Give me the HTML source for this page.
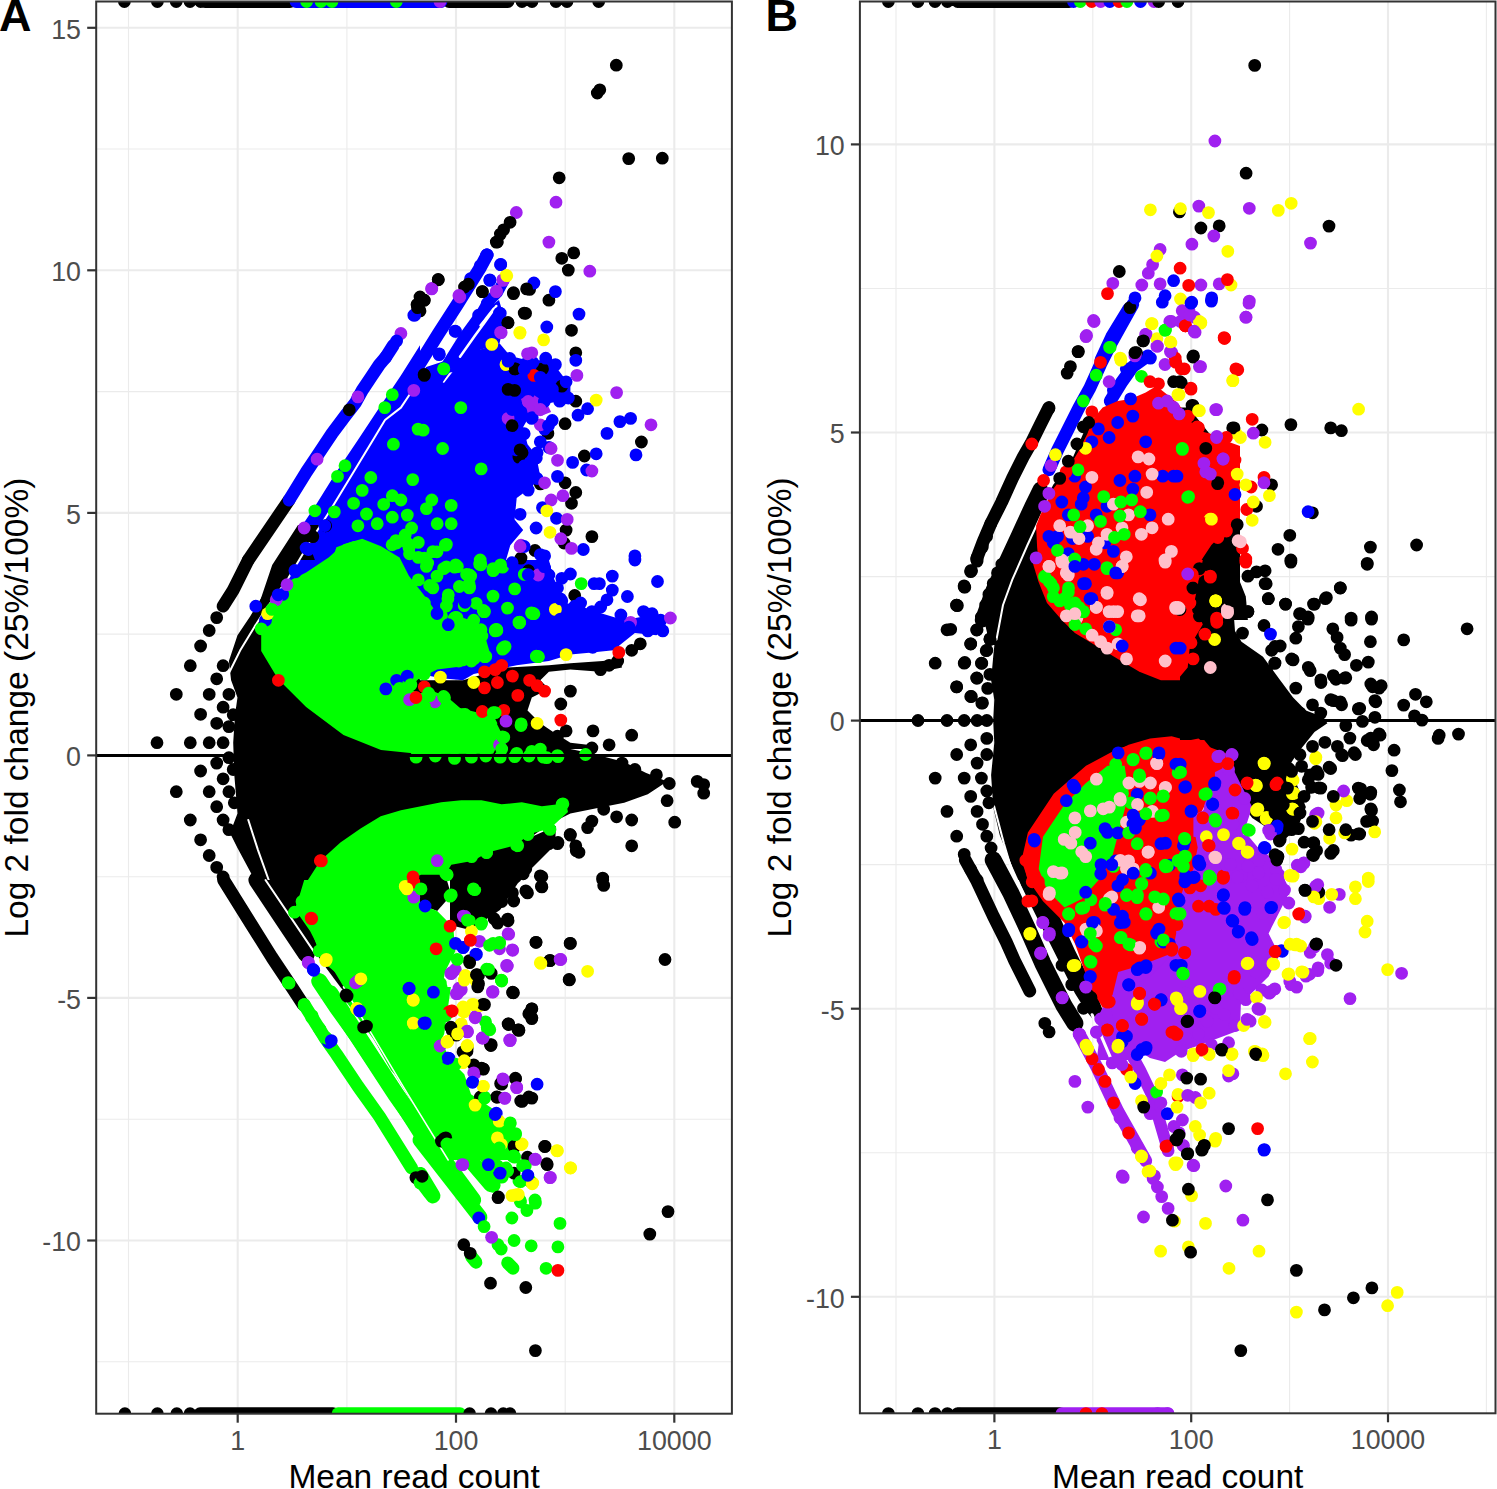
<!DOCTYPE html><html><head><meta charset="utf-8"><style>
html,body{margin:0;padding:0;background:#fff;}
svg{display:block;font-family:"Liberation Sans",sans-serif;}
.tk{font-size:26.8px;fill:#4D4D4D;}
.ti{font-size:33.5px;fill:#000;}
.lb{font-size:45px;font-weight:bold;fill:#000;}
</style></head><body>
<svg width="1497" height="1489" viewBox="0 0 1497 1489">
<rect width="1497" height="1489" fill="#fff"/>
<defs><clipPath id="ca"><rect x="96.2" y="1.5" width="635.6999999999999" height="1412.2"/></clipPath>
<clipPath id="cb"><rect x="859.9" y="1.5" width="635.6" height="1411.8"/></clipPath></defs>

<line x1="96.2" x2="731.9" y1="1361.8" y2="1361.8" stroke="#EBEBEB" stroke-width="1.1"/>
<line x1="96.2" x2="731.9" y1="1240.5" y2="1240.5" stroke="#EBEBEB" stroke-width="2.1"/>
<line x1="96.2" x2="731.9" y1="1119.2" y2="1119.2" stroke="#EBEBEB" stroke-width="1.1"/>
<line x1="96.2" x2="731.9" y1="997.9" y2="997.9" stroke="#EBEBEB" stroke-width="2.1"/>
<line x1="96.2" x2="731.9" y1="876.7" y2="876.7" stroke="#EBEBEB" stroke-width="1.1"/>
<line x1="96.2" x2="731.9" y1="755.4" y2="755.4" stroke="#EBEBEB" stroke-width="2.1"/>
<line x1="96.2" x2="731.9" y1="634.1" y2="634.1" stroke="#EBEBEB" stroke-width="1.1"/>
<line x1="96.2" x2="731.9" y1="512.9" y2="512.9" stroke="#EBEBEB" stroke-width="2.1"/>
<line x1="96.2" x2="731.9" y1="391.6" y2="391.6" stroke="#EBEBEB" stroke-width="1.1"/>
<line x1="96.2" x2="731.9" y1="270.3" y2="270.3" stroke="#EBEBEB" stroke-width="2.1"/>
<line x1="96.2" x2="731.9" y1="149" y2="149" stroke="#EBEBEB" stroke-width="1.1"/>
<line x1="96.2" x2="731.9" y1="27.8" y2="27.8" stroke="#EBEBEB" stroke-width="2.1"/>
<line x1="128.5" x2="128.5" y1="1.5" y2="1413.7" stroke="#EBEBEB" stroke-width="1.1"/>
<line x1="237.7" x2="237.7" y1="1.5" y2="1413.7" stroke="#EBEBEB" stroke-width="2.1"/>
<line x1="346.9" x2="346.9" y1="1.5" y2="1413.7" stroke="#EBEBEB" stroke-width="1.1"/>
<line x1="456" x2="456" y1="1.5" y2="1413.7" stroke="#EBEBEB" stroke-width="2.1"/>
<line x1="565.2" x2="565.2" y1="1.5" y2="1413.7" stroke="#EBEBEB" stroke-width="1.1"/>
<line x1="674.3" x2="674.3" y1="1.5" y2="1413.7" stroke="#EBEBEB" stroke-width="2.1"/>
<line x1="859.9" x2="1495.5" y1="1296.8" y2="1296.8" stroke="#EBEBEB" stroke-width="2.1"/>
<line x1="859.9" x2="1495.5" y1="1152.8" y2="1152.8" stroke="#EBEBEB" stroke-width="1.1"/>
<line x1="859.9" x2="1495.5" y1="1008.7" y2="1008.7" stroke="#EBEBEB" stroke-width="2.1"/>
<line x1="859.9" x2="1495.5" y1="864.6" y2="864.6" stroke="#EBEBEB" stroke-width="1.1"/>
<line x1="859.9" x2="1495.5" y1="720.6" y2="720.6" stroke="#EBEBEB" stroke-width="2.1"/>
<line x1="859.9" x2="1495.5" y1="576.6" y2="576.6" stroke="#EBEBEB" stroke-width="1.1"/>
<line x1="859.9" x2="1495.5" y1="432.5" y2="432.5" stroke="#EBEBEB" stroke-width="2.1"/>
<line x1="859.9" x2="1495.5" y1="288.5" y2="288.5" stroke="#EBEBEB" stroke-width="1.1"/>
<line x1="859.9" x2="1495.5" y1="144.4" y2="144.4" stroke="#EBEBEB" stroke-width="2.1"/>
<line x1="896" x2="896" y1="1.5" y2="1413.3" stroke="#EBEBEB" stroke-width="1.1"/>
<line x1="994.4" x2="994.4" y1="1.5" y2="1413.3" stroke="#EBEBEB" stroke-width="2.1"/>
<line x1="1092.8" x2="1092.8" y1="1.5" y2="1413.3" stroke="#EBEBEB" stroke-width="1.1"/>
<line x1="1191.2" x2="1191.2" y1="1.5" y2="1413.3" stroke="#EBEBEB" stroke-width="2.1"/>
<line x1="1289.6" x2="1289.6" y1="1.5" y2="1413.3" stroke="#EBEBEB" stroke-width="1.1"/>
<line x1="1388" x2="1388" y1="1.5" y2="1413.3" stroke="#EBEBEB" stroke-width="2.1"/>
<line x1="1486.4" x2="1486.4" y1="1.5" y2="1413.3" stroke="#EBEBEB" stroke-width="1.1"/>
<g clip-path="url(#ca)"><polyline fill="none" stroke="#000000" stroke-width="12.8" stroke-linecap="round" stroke-linejoin="round" points="205,1.5 290,1.5"/>
<polyline fill="none" stroke="#000000" stroke-width="12.8" stroke-linecap="round" stroke-linejoin="round" points="449,1.5 508,1.5"/>
<polyline fill="none" stroke="#000000" stroke-width="12.8" stroke-linecap="round" stroke-linejoin="round" points="200,1413.7 333,1413.7"/>
<polygon fill="#000000" points="420,680.3 463,680.3 506,667.5 548.9,665.3 570.4,663.2 602.7,661 619.9,658.9 622,667.5 600.5,671.8 570.4,669.6 548.9,671.8 540.3,680.3 548.9,688.9 531.8,697.5 527.5,710.4 540.3,723.3 553.2,731.9 570.4,742.7 587.6,744.8 591.9,749.1 420,749.1"/>
<polygon fill="#000000" points="420,749.1 570.4,749.1 591.9,753.4 624.2,762 645.7,772.8 667.1,781.4 647.8,794.3 624.2,802.8 602.7,807.1 570.4,813.6 548.9,824.3 527.5,839.4 506,856.6 484.5,871.6 420,880"/>
<polygon fill="#000000" points="233.2,742.7 235,714.7 237.5,697.5 231.1,680.3 228.9,661 237.5,635.2 250.4,615.9 263.3,594.4 276.2,572.9 282.7,560 420,560 420,880 254.7,880 237.5,848 230,832.9 237.5,813.6 234.3,774.9"/>
<polyline fill="none" stroke="#000000" stroke-width="12.8" stroke-linecap="round" stroke-linejoin="round" points="223.1,606.2 233.2,590.1 248.3,560"/>
<polyline fill="none" stroke="#FFFFFF" stroke-width="2" stroke-linecap="round" stroke-linejoin="round" points="248.3,820 258,850.1 268.7,880"/>
<polygon fill="#000000" points="278.4,560 302,525.8 327.8,519.4 327.8,560"/>
<polyline fill="none" stroke="#000000" stroke-width="12.8" stroke-linecap="round" stroke-linejoin="round" points="248.3,560 289.1,500"/>
<polygon fill="#000000" points="263.3,880 314.9,953.1 340.7,987.5 379.4,1030.4 420,1062.7 420,880"/>
<polyline fill="none" stroke="#000000" stroke-width="12.8" stroke-linecap="round" stroke-linejoin="round" points="223.6,880 250.4,923 271.9,957.4 293.4,989.6 303.1,1004.6"/>
<polyline fill="none" stroke="#000000" stroke-width="17" stroke-linecap="round" stroke-linejoin="round" points="256.9,880 282.7,918.7 306.3,954.1"/>
<polyline fill="none" stroke="#FFFFFF" stroke-width="2" stroke-linecap="round" stroke-linejoin="round" points="265.5,880 314.9,953.1 338.5,989.6"/>
<polygon fill="#000000" points="450,862 520,842 556,826 555,845 520,880 500,910 470,930 450,925"/>
<polyline fill="none" stroke="#0000FF" stroke-width="12.8" stroke-linecap="round" stroke-linejoin="round" points="296,1.5 441,1.5"/>
<polygon fill="#0000FF" points="420,560 548.9,560 553.2,577.2 566.1,603 583.3,607.3 602.7,613.7 624.2,620.2 645.7,615.9 662.8,618 667.1,628.8 656.4,635.2 634.9,633.1 613.4,650.3 591.9,652.4 570.4,654.6 548.9,661 516.7,665.3 495.2,669.6 473.7,673.9 463,680.3 441.5,678.2 420,673.9"/>
<polygon fill="#0000FF" points="294.5,560 336.4,560 314.9,577.2 293.4,607.3 271.9,635.2 263.3,635.2 278.4,605.1"/>
<polygon fill="#0000FF" points="302,525.8 314.9,506.5 336.4,472.1 357.9,439.9 379.4,407.6 400.9,375.4 420,345.3 420,560 314.9,560 306.3,536.6"/>
<polyline fill="none" stroke="#0000FF" stroke-width="12.8" stroke-linecap="round" stroke-linejoin="round" points="289.1,500 306.3,472.1 319.2,452.8 332.1,433.4 345,416.2 355.7,402.3 362.2,390.4 370.8,377.5 379.4,364.6 385.8,357.1 393.4,345.3"/>
<polygon fill="#0000FF" points="420,368.9 499.5,343.2 510.3,356.1 527.5,360.3 548.9,360.3 557.5,368.9 570.4,386.1 570.4,399 548.9,403.3 531.8,411.9 523.2,427 527.5,444.2 536.1,454.9 540.3,476.4 531.8,487.1 516.7,497.9 514.6,519.4 523.2,530.1 510.3,545.2 506,560 420,560"/>
<polyline fill="none" stroke="#FFFFFF" stroke-width="2" stroke-linecap="round" stroke-linejoin="round" points="420,373.2 445.8,341"/>
<polyline fill="none" stroke="#FFFFFF" stroke-width="2" stroke-linecap="round" stroke-linejoin="round" points="443.6,381.8 473.7,343.2"/>
<polyline fill="none" stroke="#0000FF" stroke-width="13" stroke-linecap="round" stroke-linejoin="round" points="414.7,371.6 438.2,334 457,304.9 471.1,282.3 480.5,267.3 487.1,255"/>
<polyline fill="none" stroke="#0000FF" stroke-width="11" stroke-linecap="round" stroke-linejoin="round" points="438.2,379 466.4,334 481.5,313.3 488,302 497.4,292.7 504,280.4"/>
<polygon fill="#0000FF" points="420,375 438,379 466,334 481,313 499,300 505,320 499.5,343.2 480,350 455,372"/>
<polygon fill="#0000FF" points="330,545 425,540 440,560 440,610 400,610 370,580 330,570"/>
<polygon fill="#A020F0" points="521,399 531.8,393.7 546.8,403.3 551.1,411.9 540.3,416.2 525.3,411.9"/>
<polygon fill="#000000" points="421,874.8 445.2,874.8 451.3,894.9 437.2,911 411,901 405,882.8"/>
<polygon fill="#000000" points="298,525 322,525 312.5,537.7 288.4,578 264.2,613.4 240,648.9 238,640 256,613 272.2,565"/>
<polyline fill="none" stroke="#FFFFFF" stroke-width="2" stroke-linecap="round" stroke-linejoin="round" points="409.5,394.7 400.9,407.6 385,420 375.4,436.1 352.8,473.2 330.3,510.3 312.5,537.7 288.4,578 265.1,610.3 254.7,626.4 240.1,650.6 228.1,674.8 224,690"/>
<polyline fill="none" stroke="#00FF00" stroke-width="12.8" stroke-linecap="round" stroke-linejoin="round" points="338,1413.7 460,1413.7"/>
<polygon fill="#00FF00" points="420,693.2 432.9,691.1 447.9,697.5 463,710.4 480.2,719 493.1,714.7 497.4,723.3 490.9,736.2 495.2,749.1 420,749.1"/>
<polygon fill="#00FF00" points="332.1,560 336.4,547.3 353.6,540.9 368.6,543 383.7,551.6 390.1,560"/>
<polyline fill="none" stroke="#00FF00" stroke-width="12.8" stroke-linecap="round" stroke-linejoin="round" points="304.2,1004.6 314.9,1021.8 325.7,1039 336.4,1054.1 357.9,1086.3 379.4,1116.4 411.6,1168"/>
<polyline fill="none" stroke="#00FF00" stroke-width="16" stroke-linecap="round" stroke-linejoin="round" points="319.2,981 336.4,1006.8 357.9,1036.9 379.4,1069.1 400.9,1101.4 420,1131.4"/>
<polyline fill="none" stroke="#00FF00" stroke-width="15" stroke-linecap="round" stroke-linejoin="round" points="351.4,996.1 379.4,1034.7 420,1101.4"/>
<polygon fill="#00FF00" points="304.2,880 420,880 420,1030.4 400.9,1026.1 379.4,1000.3 357.9,985.3 340.7,976.7 327.8,966 319.2,953.1 312.8,933.7 306.3,918.7 293.4,912.2 297.7,901.5"/>
<polyline fill="none" stroke="#00FF00" stroke-width="15" stroke-linecap="round" stroke-linejoin="round" points="420,1127.1 473.7,1200"/>
<polyline fill="none" stroke="#00FF00" stroke-width="15" stroke-linecap="round" stroke-linejoin="round" points="426.4,1112.1 493.1,1185.2"/>
<polyline fill="none" stroke="#00FF00" stroke-width="15" stroke-linecap="round" stroke-linejoin="round" points="420,1174.4 432.9,1195.9"/>
<polyline fill="none" stroke="#00FF00" stroke-width="14" stroke-linecap="round" stroke-linejoin="round" points="452.2,1112.1 501.7,1176.6"/>
<polyline fill="none" stroke="#00FF00" stroke-width="15" stroke-linecap="round" stroke-linejoin="round" points="420,1140 479.9,1217"/>
<polyline fill="none" stroke="#00FF00" stroke-width="14" stroke-linecap="round" stroke-linejoin="round" points="452.1,1140 490.5,1184.9"/>
<polyline fill="none" stroke="#00FF00" stroke-width="12.8" stroke-linecap="round" stroke-linejoin="round" points="420,1180.6 429.6,1193.4"/>
<polyline fill="none" stroke="#00FF00" stroke-width="12.8" stroke-linecap="round" stroke-linejoin="round" points="471.3,1256.5 476,1262.3"/>
<polyline fill="none" stroke="#00FF00" stroke-width="12.8" stroke-linecap="round" stroke-linejoin="round" points="507.6,1262.9 513,1268.3"/>
<polygon fill="#00FF00" points="296.1,911 306.2,882.8 320.3,860.7 340.4,842.5 360.6,828.4 380.7,816.3 400.9,810.3 421,806.3 441.2,802.2 461.3,800.2 481.5,800.2 501.6,804.3 521.8,802.2 541.9,806.3 566.1,803.2 568,812 550,828.4 527.8,834.5 517.8,844.6 487.5,852.6 473.4,860.7 451.3,864.7 445.2,874.8 421,874.8 405,882.8 411,901 437.2,911 453.3,927.2 455.3,951.3 445.2,971.5 441.2,991.6 445.2,1011.8 437.2,1031.9 451.3,1062.2 440,1085 420,1100 400,1080 390.8,1070 380.7,1052.1 370.7,1031.9 360.6,1011.8 346.5,991.6 334.4,971.5 320.3,951.3 310.2,931.2"/>
<polygon fill="#00FF00" points="343.4,986.9 450.9,986.9 444.2,1033.9 437.5,1047.3 464.3,1074.2 471,1094.3 491.2,1107.8 515.4,1127.9 520.7,1141.3 518,1160 448.2,1160 407.9,1094.3"/>
<polyline fill="none" stroke="#00FF00" stroke-width="17" stroke-linecap="round" stroke-linejoin="round" points="330,993.6 395.8,1094.3 437.5,1153.4"/>
<polyline fill="none" stroke="#FFFFFF" stroke-width="1.5" stroke-linecap="round" stroke-linejoin="round" points="343.4,986.9 407.9,1094.3 448.2,1160"/>
<polygon fill="#00FF00" points="261.2,632.2 268.7,604.2 287.4,581.7 306.1,572.4 328.6,557.4 343.5,544.3 362.2,538.7 381,546.2 399.6,557.4 409,576.1 420,590 427.7,600 437.1,613.5 455.8,622.9 483.8,632.2 489.4,650.9 465.1,665.9 437.1,669.6 418.4,679 409,688.4 427.7,697.7 455.8,707.1 493.2,716.4 502.5,735.1 493.2,753.8 420,754 381,750.1 343.5,735.1 306.1,707.1 278,679 261.2,650.9"/>
<polyline fill="none" stroke="#FFFFFF" stroke-width="2.5" stroke-linecap="round" stroke-linejoin="round" points="460,356.8 474.5,336.3 484.2,323 496.3,306"/>
<polyline fill="none" stroke="#FFFFFF" stroke-width="2.5" stroke-linecap="round" stroke-linejoin="round" points="480.5,325.4 493.8,308.5"/>
<path fill="#000000" d="M118,1.5a6.4,6.4 0 1,0 12.8,0a6.4,6.4 0 1,0 -12.8,0M151,1.5a6.4,6.4 0 1,0 12.8,0a6.4,6.4 0 1,0 -12.8,0M169.8,1.5a6.4,6.4 0 1,0 12.8,0a6.4,6.4 0 1,0 -12.8,0M183.6,1.5a6.4,6.4 0 1,0 12.8,0a6.4,6.4 0 1,0 -12.8,0M194.3,1.5a6.4,6.4 0 1,0 12.8,0a6.4,6.4 0 1,0 -12.8,0"/>
<path fill="#A020F0" d="M433.6,1.5a6.4,6.4 0 1,0 12.8,0a6.4,6.4 0 1,0 -12.8,0"/>
<path fill="#000000" d="M515.6,1.5a6.4,6.4 0 1,0 12.8,0a6.4,6.4 0 1,0 -12.8,0M525.6,1.5a6.4,6.4 0 1,0 12.8,0a6.4,6.4 0 1,0 -12.8,0M549.6,1.5a6.4,6.4 0 1,0 12.8,0a6.4,6.4 0 1,0 -12.8,0M560.6,1.5a6.4,6.4 0 1,0 12.8,0a6.4,6.4 0 1,0 -12.8,0M592.3,1.5a6.4,6.4 0 1,0 12.8,0a6.4,6.4 0 1,0 -12.8,0"/>
<path fill="#00FF00" d="M300.2,1.5a6.4,6.4 0 1,0 12.8,0a6.4,6.4 0 1,0 -12.8,0M314.6,1.5a6.4,6.4 0 1,0 12.8,0a6.4,6.4 0 1,0 -12.8,0M325.6,1.5a6.4,6.4 0 1,0 12.8,0a6.4,6.4 0 1,0 -12.8,0M389.9,1.5a6.4,6.4 0 1,0 12.8,0a6.4,6.4 0 1,0 -12.8,0"/>
<path fill="#000000" d="M118.5,1413.7a6.4,6.4 0 1,0 12.8,0a6.4,6.4 0 1,0 -12.8,0M151,1413.7a6.4,6.4 0 1,0 12.8,0a6.4,6.4 0 1,0 -12.8,0M170.4,1413.7a6.4,6.4 0 1,0 12.8,0a6.4,6.4 0 1,0 -12.8,0M183.6,1413.7a6.4,6.4 0 1,0 12.8,0a6.4,6.4 0 1,0 -12.8,0M463.2,1413.7a6.4,6.4 0 1,0 12.8,0a6.4,6.4 0 1,0 -12.8,0M484.6,1413.7a6.4,6.4 0 1,0 12.8,0a6.4,6.4 0 1,0 -12.8,0M496.9,1413.7a6.4,6.4 0 1,0 12.8,0a6.4,6.4 0 1,0 -12.8,0M503.6,1413.7a6.4,6.4 0 1,0 12.8,0a6.4,6.4 0 1,0 -12.8,0M609.9,65.2a6.4,6.4 0 1,0 12.8,0a6.4,6.4 0 1,0 -12.8,0M590.9,93a6.4,6.4 0 1,0 12.8,0a6.4,6.4 0 1,0 -12.8,0M593.4,89.8a6.4,6.4 0 1,0 12.8,0a6.4,6.4 0 1,0 -12.8,0M622.3,158.6a6.4,6.4 0 1,0 12.8,0a6.4,6.4 0 1,0 -12.8,0M655.9,158.2a6.4,6.4 0 1,0 12.8,0a6.4,6.4 0 1,0 -12.8,0M552.8,177.8a6.4,6.4 0 1,0 12.8,0a6.4,6.4 0 1,0 -12.8,0"/>
<path fill="#A020F0" d="M549.6,202.2a6.4,6.4 0 1,0 12.8,0a6.4,6.4 0 1,0 -12.8,0M509.9,212.5a6.4,6.4 0 1,0 12.8,0a6.4,6.4 0 1,0 -12.8,0"/>
<path fill="#000000" d="M503.7,222.3a6.4,6.4 0 1,0 12.8,0a6.4,6.4 0 1,0 -12.8,0M497.2,229.8a6.4,6.4 0 1,0 12.8,0a6.4,6.4 0 1,0 -12.8,0M494,234.1a6.4,6.4 0 1,0 12.8,0a6.4,6.4 0 1,0 -12.8,0M615.6,763.1a6.4,6.4 0 1,0 12.8,0a6.4,6.4 0 1,0 -12.8,0M628.5,769.5a6.4,6.4 0 1,0 12.8,0a6.4,6.4 0 1,0 -12.8,0M650,774.9a6.4,6.4 0 1,0 12.8,0a6.4,6.4 0 1,0 -12.8,0M662.9,783.5a6.4,6.4 0 1,0 12.8,0a6.4,6.4 0 1,0 -12.8,0M660.7,800.7a6.4,6.4 0 1,0 12.8,0a6.4,6.4 0 1,0 -12.8,0M690.8,781.4a6.4,6.4 0 1,0 12.8,0a6.4,6.4 0 1,0 -12.8,0M697.3,784.6a6.4,6.4 0 1,0 12.8,0a6.4,6.4 0 1,0 -12.8,0M697.3,793.2a6.4,6.4 0 1,0 12.8,0a6.4,6.4 0 1,0 -12.8,0M668.3,822.2a6.4,6.4 0 1,0 12.8,0a6.4,6.4 0 1,0 -12.8,0M625.3,845.8a6.4,6.4 0 1,0 12.8,0a6.4,6.4 0 1,0 -12.8,0M625.3,820a6.4,6.4 0 1,0 12.8,0a6.4,6.4 0 1,0 -12.8,0M610.2,816.8a6.4,6.4 0 1,0 12.8,0a6.4,6.4 0 1,0 -12.8,0M597.3,809.3a6.4,6.4 0 1,0 12.8,0a6.4,6.4 0 1,0 -12.8,0M585.5,821.1a6.4,6.4 0 1,0 12.8,0a6.4,6.4 0 1,0 -12.8,0M581.2,827.6a6.4,6.4 0 1,0 12.8,0a6.4,6.4 0 1,0 -12.8,0M564,835.1a6.4,6.4 0 1,0 12.8,0a6.4,6.4 0 1,0 -12.8,0M572.6,852.3a6.4,6.4 0 1,0 12.8,0a6.4,6.4 0 1,0 -12.8,0M569.4,845.8a6.4,6.4 0 1,0 12.8,0a6.4,6.4 0 1,0 -12.8,0M551.1,843.7a6.4,6.4 0 1,0 12.8,0a6.4,6.4 0 1,0 -12.8,0M542.5,843.7a6.4,6.4 0 1,0 12.8,0a6.4,6.4 0 1,0 -12.8,0M596.3,878.1a6.4,6.4 0 1,0 12.8,0a6.4,6.4 0 1,0 -12.8,0M533.9,875.9a6.4,6.4 0 1,0 12.8,0a6.4,6.4 0 1,0 -12.8,0M516.8,873.8a6.4,6.4 0 1,0 12.8,0a6.4,6.4 0 1,0 -12.8,0M514.6,867.3a6.4,6.4 0 1,0 12.8,0a6.4,6.4 0 1,0 -12.8,0M478.1,871.6a6.4,6.4 0 1,0 12.8,0a6.4,6.4 0 1,0 -12.8,0M564,691.1a6.4,6.4 0 1,0 12.8,0a6.4,6.4 0 1,0 -12.8,0M554.4,704a6.4,6.4 0 1,0 12.8,0a6.4,6.4 0 1,0 -12.8,0M559.7,730.9a6.4,6.4 0 1,0 12.8,0a6.4,6.4 0 1,0 -12.8,0M551.1,736.2a6.4,6.4 0 1,0 12.8,0a6.4,6.4 0 1,0 -12.8,0M586.6,730.9a6.4,6.4 0 1,0 12.8,0a6.4,6.4 0 1,0 -12.8,0M602.7,744.8a6.4,6.4 0 1,0 12.8,0a6.4,6.4 0 1,0 -12.8,0M625.3,735.2a6.4,6.4 0 1,0 12.8,0a6.4,6.4 0 1,0 -12.8,0M585.5,748a6.4,6.4 0 1,0 12.8,0a6.4,6.4 0 1,0 -12.8,0M625.3,650.3a6.4,6.4 0 1,0 12.8,0a6.4,6.4 0 1,0 -12.8,0M633.9,643.8a6.4,6.4 0 1,0 12.8,0a6.4,6.4 0 1,0 -12.8,0M594.1,669.6a6.4,6.4 0 1,0 12.8,0a6.4,6.4 0 1,0 -12.8,0M602.7,665.3a6.4,6.4 0 1,0 12.8,0a6.4,6.4 0 1,0 -12.8,0M611.3,661a6.4,6.4 0 1,0 12.8,0a6.4,6.4 0 1,0 -12.8,0M522.1,570.7a6.4,6.4 0 1,0 12.8,0a6.4,6.4 0 1,0 -12.8,0M568.3,595.5a6.4,6.4 0 1,0 12.8,0a6.4,6.4 0 1,0 -12.8,0"/>
<path fill="#0000FF" d="M538.2,568.6a6.4,6.4 0 1,0 12.8,0a6.4,6.4 0 1,0 -12.8,0M542.5,575a6.4,6.4 0 1,0 12.8,0a6.4,6.4 0 1,0 -12.8,0M555.4,578.3a6.4,6.4 0 1,0 12.8,0a6.4,6.4 0 1,0 -12.8,0M564,574a6.4,6.4 0 1,0 12.8,0a6.4,6.4 0 1,0 -12.8,0M530.7,583.6a6.4,6.4 0 1,0 12.8,0a6.4,6.4 0 1,0 -12.8,0M551.1,587.9a6.4,6.4 0 1,0 12.8,0a6.4,6.4 0 1,0 -12.8,0M587.7,583.6a6.4,6.4 0 1,0 12.8,0a6.4,6.4 0 1,0 -12.8,0M593,583.6a6.4,6.4 0 1,0 12.8,0a6.4,6.4 0 1,0 -12.8,0M605.9,576.1a6.4,6.4 0 1,0 12.8,0a6.4,6.4 0 1,0 -12.8,0M628.5,560a6.4,6.4 0 1,0 12.8,0a6.4,6.4 0 1,0 -12.8,0M651.1,581.5a6.4,6.4 0 1,0 12.8,0a6.4,6.4 0 1,0 -12.8,0M605.9,590.1a6.4,6.4 0 1,0 12.8,0a6.4,6.4 0 1,0 -12.8,0M621,596.5a6.4,6.4 0 1,0 12.8,0a6.4,6.4 0 1,0 -12.8,0M600.6,599.8a6.4,6.4 0 1,0 12.8,0a6.4,6.4 0 1,0 -12.8,0M568.3,606.2a6.4,6.4 0 1,0 12.8,0a6.4,6.4 0 1,0 -12.8,0M572.6,609.4a6.4,6.4 0 1,0 12.8,0a6.4,6.4 0 1,0 -12.8,0M555.4,600.8a6.4,6.4 0 1,0 12.8,0a6.4,6.4 0 1,0 -12.8,0M585.5,611.6a6.4,6.4 0 1,0 12.8,0a6.4,6.4 0 1,0 -12.8,0M637.1,611.6a6.4,6.4 0 1,0 12.8,0a6.4,6.4 0 1,0 -12.8,0M645.7,613.7a6.4,6.4 0 1,0 12.8,0a6.4,6.4 0 1,0 -12.8,0M654.3,620.2a6.4,6.4 0 1,0 12.8,0a6.4,6.4 0 1,0 -12.8,0M656.4,630.9a6.4,6.4 0 1,0 12.8,0a6.4,6.4 0 1,0 -12.8,0M641.4,630.9a6.4,6.4 0 1,0 12.8,0a6.4,6.4 0 1,0 -12.8,0"/>
<path fill="#FF0000" d="M478.1,671.8a6.4,6.4 0 1,0 12.8,0a6.4,6.4 0 1,0 -12.8,0M488.8,669.6a6.4,6.4 0 1,0 12.8,0a6.4,6.4 0 1,0 -12.8,0M495.3,665.3a6.4,6.4 0 1,0 12.8,0a6.4,6.4 0 1,0 -12.8,0M506,676.1a6.4,6.4 0 1,0 12.8,0a6.4,6.4 0 1,0 -12.8,0M523.2,680.3a6.4,6.4 0 1,0 12.8,0a6.4,6.4 0 1,0 -12.8,0M530.7,685.7a6.4,6.4 0 1,0 12.8,0a6.4,6.4 0 1,0 -12.8,0M538.2,691.1a6.4,6.4 0 1,0 12.8,0a6.4,6.4 0 1,0 -12.8,0M478.1,687.9a6.4,6.4 0 1,0 12.8,0a6.4,6.4 0 1,0 -12.8,0M491,682.5a6.4,6.4 0 1,0 12.8,0a6.4,6.4 0 1,0 -12.8,0M511.4,695.4a6.4,6.4 0 1,0 12.8,0a6.4,6.4 0 1,0 -12.8,0M475.9,711.5a6.4,6.4 0 1,0 12.8,0a6.4,6.4 0 1,0 -12.8,0M497.4,710.4a6.4,6.4 0 1,0 12.8,0a6.4,6.4 0 1,0 -12.8,0M554.4,720.1a6.4,6.4 0 1,0 12.8,0a6.4,6.4 0 1,0 -12.8,0M612.4,652.4a6.4,6.4 0 1,0 12.8,0a6.4,6.4 0 1,0 -12.8,0M417.9,686.8a6.4,6.4 0 1,0 12.8,0a6.4,6.4 0 1,0 -12.8,0"/>
<path fill="#FFFF00" d="M467.3,682.5a6.4,6.4 0 1,0 12.8,0a6.4,6.4 0 1,0 -12.8,0M434,677.1a6.4,6.4 0 1,0 12.8,0a6.4,6.4 0 1,0 -12.8,0M530.7,723.3a6.4,6.4 0 1,0 12.8,0a6.4,6.4 0 1,0 -12.8,0M549,609.4a6.4,6.4 0 1,0 12.8,0a6.4,6.4 0 1,0 -12.8,0M559.7,654.6a6.4,6.4 0 1,0 12.8,0a6.4,6.4 0 1,0 -12.8,0"/>
<path fill="#A020F0" d="M499.6,721.2a6.4,6.4 0 1,0 12.8,0a6.4,6.4 0 1,0 -12.8,0M493.1,744.8a6.4,6.4 0 1,0 12.8,0a6.4,6.4 0 1,0 -12.8,0M428.6,701.8a6.4,6.4 0 1,0 12.8,0a6.4,6.4 0 1,0 -12.8,0M531.8,575a6.4,6.4 0 1,0 12.8,0a6.4,6.4 0 1,0 -12.8,0M664,618a6.4,6.4 0 1,0 12.8,0a6.4,6.4 0 1,0 -12.8,0M624.2,622.3a6.4,6.4 0 1,0 12.8,0a6.4,6.4 0 1,0 -12.8,0"/>
<path fill="#00FF00" d="M437.2,696.5a6.4,6.4 0 1,0 12.8,0a6.4,6.4 0 1,0 -12.8,0M422.2,693.2a6.4,6.4 0 1,0 12.8,0a6.4,6.4 0 1,0 -12.8,0M417.9,706.1a6.4,6.4 0 1,0 12.8,0a6.4,6.4 0 1,0 -12.8,0M445.8,710.4a6.4,6.4 0 1,0 12.8,0a6.4,6.4 0 1,0 -12.8,0M456.6,714.7a6.4,6.4 0 1,0 12.8,0a6.4,6.4 0 1,0 -12.8,0M488.8,712.6a6.4,6.4 0 1,0 12.8,0a6.4,6.4 0 1,0 -12.8,0M514.6,725.5a6.4,6.4 0 1,0 12.8,0a6.4,6.4 0 1,0 -12.8,0M497.4,737.3a6.4,6.4 0 1,0 12.8,0a6.4,6.4 0 1,0 -12.8,0M469.5,723.3a6.4,6.4 0 1,0 12.8,0a6.4,6.4 0 1,0 -12.8,0M458.7,731.9a6.4,6.4 0 1,0 12.8,0a6.4,6.4 0 1,0 -12.8,0M443.7,723.3a6.4,6.4 0 1,0 12.8,0a6.4,6.4 0 1,0 -12.8,0M430.8,719a6.4,6.4 0 1,0 12.8,0a6.4,6.4 0 1,0 -12.8,0M413.6,731.9a6.4,6.4 0 1,0 12.8,0a6.4,6.4 0 1,0 -12.8,0M478.1,731.9a6.4,6.4 0 1,0 12.8,0a6.4,6.4 0 1,0 -12.8,0M495.3,749.1a6.4,6.4 0 1,0 12.8,0a6.4,6.4 0 1,0 -12.8,0M510.3,753.4a6.4,6.4 0 1,0 12.8,0a6.4,6.4 0 1,0 -12.8,0M525.4,751.3a6.4,6.4 0 1,0 12.8,0a6.4,6.4 0 1,0 -12.8,0M533.9,749.1a6.4,6.4 0 1,0 12.8,0a6.4,6.4 0 1,0 -12.8,0M551.1,755.6a6.4,6.4 0 1,0 12.8,0a6.4,6.4 0 1,0 -12.8,0M579.1,754.5a6.4,6.4 0 1,0 12.8,0a6.4,6.4 0 1,0 -12.8,0M540.4,757.7a6.4,6.4 0 1,0 12.8,0a6.4,6.4 0 1,0 -12.8,0M420,566.4a6.4,6.4 0 1,0 12.8,0a6.4,6.4 0 1,0 -12.8,0M437.2,568.6a6.4,6.4 0 1,0 12.8,0a6.4,6.4 0 1,0 -12.8,0M450.1,566.4a6.4,6.4 0 1,0 12.8,0a6.4,6.4 0 1,0 -12.8,0M463,575a6.4,6.4 0 1,0 12.8,0a6.4,6.4 0 1,0 -12.8,0M473.8,564.3a6.4,6.4 0 1,0 12.8,0a6.4,6.4 0 1,0 -12.8,0M486.7,570.7a6.4,6.4 0 1,0 12.8,0a6.4,6.4 0 1,0 -12.8,0M495.3,566.4a6.4,6.4 0 1,0 12.8,0a6.4,6.4 0 1,0 -12.8,0M463,587.9a6.4,6.4 0 1,0 12.8,0a6.4,6.4 0 1,0 -12.8,0M441.5,598.7a6.4,6.4 0 1,0 12.8,0a6.4,6.4 0 1,0 -12.8,0M426.5,587.9a6.4,6.4 0 1,0 12.8,0a6.4,6.4 0 1,0 -12.8,0M417.9,603a6.4,6.4 0 1,0 12.8,0a6.4,6.4 0 1,0 -12.8,0M478.1,611.6a6.4,6.4 0 1,0 12.8,0a6.4,6.4 0 1,0 -12.8,0M512.5,622.3a6.4,6.4 0 1,0 12.8,0a6.4,6.4 0 1,0 -12.8,0M527.5,613.7a6.4,6.4 0 1,0 12.8,0a6.4,6.4 0 1,0 -12.8,0M488.8,630.9a6.4,6.4 0 1,0 12.8,0a6.4,6.4 0 1,0 -12.8,0M497.4,648.1a6.4,6.4 0 1,0 12.8,0a6.4,6.4 0 1,0 -12.8,0M478.1,656.7a6.4,6.4 0 1,0 12.8,0a6.4,6.4 0 1,0 -12.8,0M531.8,656.7a6.4,6.4 0 1,0 12.8,0a6.4,6.4 0 1,0 -12.8,0M456.6,624.5a6.4,6.4 0 1,0 12.8,0a6.4,6.4 0 1,0 -12.8,0M450.1,641.7a6.4,6.4 0 1,0 12.8,0a6.4,6.4 0 1,0 -12.8,0M435.1,635.2a6.4,6.4 0 1,0 12.8,0a6.4,6.4 0 1,0 -12.8,0M422.2,626.6a6.4,6.4 0 1,0 12.8,0a6.4,6.4 0 1,0 -12.8,0M465.2,635.2a6.4,6.4 0 1,0 12.8,0a6.4,6.4 0 1,0 -12.8,0M467.3,620.2a6.4,6.4 0 1,0 12.8,0a6.4,6.4 0 1,0 -12.8,0M448,618a6.4,6.4 0 1,0 12.8,0a6.4,6.4 0 1,0 -12.8,0M435.1,615.9a6.4,6.4 0 1,0 12.8,0a6.4,6.4 0 1,0 -12.8,0M426.5,646a6.4,6.4 0 1,0 12.8,0a6.4,6.4 0 1,0 -12.8,0M439.4,656.7a6.4,6.4 0 1,0 12.8,0a6.4,6.4 0 1,0 -12.8,0M452.3,661a6.4,6.4 0 1,0 12.8,0a6.4,6.4 0 1,0 -12.8,0M420,661a6.4,6.4 0 1,0 12.8,0a6.4,6.4 0 1,0 -12.8,0M417.9,673.9a6.4,6.4 0 1,0 12.8,0a6.4,6.4 0 1,0 -12.8,0M574.8,583.6a6.4,6.4 0 1,0 12.8,0a6.4,6.4 0 1,0 -12.8,0M556.5,803.9a6.4,6.4 0 1,0 12.8,0a6.4,6.4 0 1,0 -12.8,0M542.5,828.6a6.4,6.4 0 1,0 12.8,0a6.4,6.4 0 1,0 -12.8,0M521.1,834a6.4,6.4 0 1,0 12.8,0a6.4,6.4 0 1,0 -12.8,0M510.3,845.8a6.4,6.4 0 1,0 12.8,0a6.4,6.4 0 1,0 -12.8,0M480.2,852.3a6.4,6.4 0 1,0 12.8,0a6.4,6.4 0 1,0 -12.8,0M465.2,856.6a6.4,6.4 0 1,0 12.8,0a6.4,6.4 0 1,0 -12.8,0M439.4,873.8a6.4,6.4 0 1,0 12.8,0a6.4,6.4 0 1,0 -12.8,0M430.8,860.9a6.4,6.4 0 1,0 12.8,0a6.4,6.4 0 1,0 -12.8,0"/>
<path fill="#000000" d="M150.6,742.7a6.4,6.4 0 1,0 12.8,0a6.4,6.4 0 1,0 -12.8,0M169.9,694.3a6.4,6.4 0 1,0 12.8,0a6.4,6.4 0 1,0 -12.8,0M183.9,665.7a6.4,6.4 0 1,0 12.8,0a6.4,6.4 0 1,0 -12.8,0M194.2,646a6.4,6.4 0 1,0 12.8,0a6.4,6.4 0 1,0 -12.8,0M202.8,630.5a6.4,6.4 0 1,0 12.8,0a6.4,6.4 0 1,0 -12.8,0M210.3,617.6a6.4,6.4 0 1,0 12.8,0a6.4,6.4 0 1,0 -12.8,0M183.9,742.7a6.4,6.4 0 1,0 12.8,0a6.4,6.4 0 1,0 -12.8,0M194.2,714.3a6.4,6.4 0 1,0 12.8,0a6.4,6.4 0 1,0 -12.8,0M202.8,694.3a6.4,6.4 0 1,0 12.8,0a6.4,6.4 0 1,0 -12.8,0M210.3,678.8a6.4,6.4 0 1,0 12.8,0a6.4,6.4 0 1,0 -12.8,0M216.7,665.7a6.4,6.4 0 1,0 12.8,0a6.4,6.4 0 1,0 -12.8,0M202.8,742.7a6.4,6.4 0 1,0 12.8,0a6.4,6.4 0 1,0 -12.8,0M210.3,723.3a6.4,6.4 0 1,0 12.8,0a6.4,6.4 0 1,0 -12.8,0M216.7,707.2a6.4,6.4 0 1,0 12.8,0a6.4,6.4 0 1,0 -12.8,0M222.5,694.3a6.4,6.4 0 1,0 12.8,0a6.4,6.4 0 1,0 -12.8,0M216.7,742.7a6.4,6.4 0 1,0 12.8,0a6.4,6.4 0 1,0 -12.8,0M222.5,726.6a6.4,6.4 0 1,0 12.8,0a6.4,6.4 0 1,0 -12.8,0M226.8,714.7a6.4,6.4 0 1,0 12.8,0a6.4,6.4 0 1,0 -12.8,0M169.9,791.7a6.4,6.4 0 1,0 12.8,0a6.4,6.4 0 1,0 -12.8,0M183.9,820a6.4,6.4 0 1,0 12.8,0a6.4,6.4 0 1,0 -12.8,0M194.2,839.8a6.4,6.4 0 1,0 12.8,0a6.4,6.4 0 1,0 -12.8,0M202.8,855.5a6.4,6.4 0 1,0 12.8,0a6.4,6.4 0 1,0 -12.8,0M210.3,867.3a6.4,6.4 0 1,0 12.8,0a6.4,6.4 0 1,0 -12.8,0M216.7,877a6.4,6.4 0 1,0 12.8,0a6.4,6.4 0 1,0 -12.8,0M194.2,771a6.4,6.4 0 1,0 12.8,0a6.4,6.4 0 1,0 -12.8,0M202.8,791.7a6.4,6.4 0 1,0 12.8,0a6.4,6.4 0 1,0 -12.8,0M210.3,806.7a6.4,6.4 0 1,0 12.8,0a6.4,6.4 0 1,0 -12.8,0M216.7,820a6.4,6.4 0 1,0 12.8,0a6.4,6.4 0 1,0 -12.8,0M222.5,829.7a6.4,6.4 0 1,0 12.8,0a6.4,6.4 0 1,0 -12.8,0M210.3,763.1a6.4,6.4 0 1,0 12.8,0a6.4,6.4 0 1,0 -12.8,0M216.7,778.8a6.4,6.4 0 1,0 12.8,0a6.4,6.4 0 1,0 -12.8,0M222.5,791.7a6.4,6.4 0 1,0 12.8,0a6.4,6.4 0 1,0 -12.8,0M227.9,802.8a6.4,6.4 0 1,0 12.8,0a6.4,6.4 0 1,0 -12.8,0M222.5,757.7a6.4,6.4 0 1,0 12.8,0a6.4,6.4 0 1,0 -12.8,0M226.8,769.5a6.4,6.4 0 1,0 12.8,0a6.4,6.4 0 1,0 -12.8,0"/>
<path fill="#0000FF" d="M249.4,606.2a6.4,6.4 0 1,0 12.8,0a6.4,6.4 0 1,0 -12.8,0M259.1,620.2a6.4,6.4 0 1,0 12.8,0a6.4,6.4 0 1,0 -12.8,0M276.3,594.4a6.4,6.4 0 1,0 12.8,0a6.4,6.4 0 1,0 -12.8,0M289.2,571.8a6.4,6.4 0 1,0 12.8,0a6.4,6.4 0 1,0 -12.8,0M390.2,680.3a6.4,6.4 0 1,0 12.8,0a6.4,6.4 0 1,0 -12.8,0M400.9,676.1a6.4,6.4 0 1,0 12.8,0a6.4,6.4 0 1,0 -12.8,0M379.4,688.9a6.4,6.4 0 1,0 12.8,0a6.4,6.4 0 1,0 -12.8,0"/>
<path fill="#A020F0" d="M280.6,584.7a6.4,6.4 0 1,0 12.8,0a6.4,6.4 0 1,0 -12.8,0M269.8,599.8a6.4,6.4 0 1,0 12.8,0a6.4,6.4 0 1,0 -12.8,0M403.1,699.7a6.4,6.4 0 1,0 12.8,0a6.4,6.4 0 1,0 -12.8,0"/>
<path fill="#FF0000" d="M272,680.3a6.4,6.4 0 1,0 12.8,0a6.4,6.4 0 1,0 -12.8,0M315,860.9a6.4,6.4 0 1,0 12.8,0a6.4,6.4 0 1,0 -12.8,0M409.5,697.5a6.4,6.4 0 1,0 12.8,0a6.4,6.4 0 1,0 -12.8,0"/>
<path fill="#FFFF00" d="M261.2,613.7a6.4,6.4 0 1,0 12.8,0a6.4,6.4 0 1,0 -12.8,0"/>
<path fill="#00FF00" d="M265.5,609.4a6.4,6.4 0 1,0 12.8,0a6.4,6.4 0 1,0 -12.8,0M254.8,628.8a6.4,6.4 0 1,0 12.8,0a6.4,6.4 0 1,0 -12.8,0"/>
<path fill="#A020F0" d="M310.7,459.2a6.4,6.4 0 1,0 12.8,0a6.4,6.4 0 1,0 -12.8,0M351.5,396.9a6.4,6.4 0 1,0 12.8,0a6.4,6.4 0 1,0 -12.8,0M394.5,333.5a6.4,6.4 0 1,0 12.8,0a6.4,6.4 0 1,0 -12.8,0"/>
<path fill="#000000" d="M342.9,409.8a6.4,6.4 0 1,0 12.8,0a6.4,6.4 0 1,0 -12.8,0M410.6,304.5a6.4,6.4 0 1,0 12.8,0a6.4,6.4 0 1,0 -12.8,0M413.6,297a6.4,6.4 0 1,0 12.8,0a6.4,6.4 0 1,0 -12.8,0M306.4,536.6a6.4,6.4 0 1,0 12.8,0a6.4,6.4 0 1,0 -12.8,0M319.3,525.8a6.4,6.4 0 1,0 12.8,0a6.4,6.4 0 1,0 -12.8,0"/>
<path fill="#0000FF" d="M407.4,315.2a6.4,6.4 0 1,0 12.8,0a6.4,6.4 0 1,0 -12.8,0M390.2,341a6.4,6.4 0 1,0 12.8,0a6.4,6.4 0 1,0 -12.8,0M379.4,357.1a6.4,6.4 0 1,0 12.8,0a6.4,6.4 0 1,0 -12.8,0M302.1,549.5a6.4,6.4 0 1,0 12.8,0a6.4,6.4 0 1,0 -12.8,0"/>
<path fill="#00FF00" d="M308.5,510.8a6.4,6.4 0 1,0 12.8,0a6.4,6.4 0 1,0 -12.8,0M327.9,511.9a6.4,6.4 0 1,0 12.8,0a6.4,6.4 0 1,0 -12.8,0M331.1,476.4a6.4,6.4 0 1,0 12.8,0a6.4,6.4 0 1,0 -12.8,0M338.6,465.7a6.4,6.4 0 1,0 12.8,0a6.4,6.4 0 1,0 -12.8,0M378.4,407.6a6.4,6.4 0 1,0 12.8,0a6.4,6.4 0 1,0 -12.8,0M385.9,394.7a6.4,6.4 0 1,0 12.8,0a6.4,6.4 0 1,0 -12.8,0M387,444.2a6.4,6.4 0 1,0 12.8,0a6.4,6.4 0 1,0 -12.8,0M364.4,477.5a6.4,6.4 0 1,0 12.8,0a6.4,6.4 0 1,0 -12.8,0M355.8,490.4a6.4,6.4 0 1,0 12.8,0a6.4,6.4 0 1,0 -12.8,0M347.2,503.3a6.4,6.4 0 1,0 12.8,0a6.4,6.4 0 1,0 -12.8,0M351.5,525.8a6.4,6.4 0 1,0 12.8,0a6.4,6.4 0 1,0 -12.8,0M360.1,514a6.4,6.4 0 1,0 12.8,0a6.4,6.4 0 1,0 -12.8,0M370.8,523.7a6.4,6.4 0 1,0 12.8,0a6.4,6.4 0 1,0 -12.8,0M377.3,504.3a6.4,6.4 0 1,0 12.8,0a6.4,6.4 0 1,0 -12.8,0M385.9,495.7a6.4,6.4 0 1,0 12.8,0a6.4,6.4 0 1,0 -12.8,0M394.5,500a6.4,6.4 0 1,0 12.8,0a6.4,6.4 0 1,0 -12.8,0M385.9,517.2a6.4,6.4 0 1,0 12.8,0a6.4,6.4 0 1,0 -12.8,0M400.9,515.1a6.4,6.4 0 1,0 12.8,0a6.4,6.4 0 1,0 -12.8,0M405.2,528a6.4,6.4 0 1,0 12.8,0a6.4,6.4 0 1,0 -12.8,0M398.8,540.9a6.4,6.4 0 1,0 12.8,0a6.4,6.4 0 1,0 -12.8,0M390.2,543a6.4,6.4 0 1,0 12.8,0a6.4,6.4 0 1,0 -12.8,0M406.3,479.6a6.4,6.4 0 1,0 12.8,0a6.4,6.4 0 1,0 -12.8,0M411.7,429.1a6.4,6.4 0 1,0 12.8,0a6.4,6.4 0 1,0 -12.8,0M403.1,553.8a6.4,6.4 0 1,0 12.8,0a6.4,6.4 0 1,0 -12.8,0"/>
<path fill="#A020F0" d="M297.8,528a6.4,6.4 0 1,0 12.8,0a6.4,6.4 0 1,0 -12.8,0M407.4,390.4a6.4,6.4 0 1,0 12.8,0a6.4,6.4 0 1,0 -12.8,0"/>
<path fill="#000000" d="M489.9,242.1a6.4,6.4 0 1,0 12.8,0a6.4,6.4 0 1,0 -12.8,0M567.3,252.9a6.4,6.4 0 1,0 12.8,0a6.4,6.4 0 1,0 -12.8,0M555.4,258.3a6.4,6.4 0 1,0 12.8,0a6.4,6.4 0 1,0 -12.8,0M561.9,270.1a6.4,6.4 0 1,0 12.8,0a6.4,6.4 0 1,0 -12.8,0M431.9,279.8a6.4,6.4 0 1,0 12.8,0a6.4,6.4 0 1,0 -12.8,0M417.9,300.2a6.4,6.4 0 1,0 12.8,0a6.4,6.4 0 1,0 -12.8,0M413.6,310.9a6.4,6.4 0 1,0 12.8,0a6.4,6.4 0 1,0 -12.8,0M475.9,291.6a6.4,6.4 0 1,0 12.8,0a6.4,6.4 0 1,0 -12.8,0M507.1,292.7a6.4,6.4 0 1,0 12.8,0a6.4,6.4 0 1,0 -12.8,0M523.2,289.4a6.4,6.4 0 1,0 12.8,0a6.4,6.4 0 1,0 -12.8,0M542.5,300.2a6.4,6.4 0 1,0 12.8,0a6.4,6.4 0 1,0 -12.8,0M517.8,313.1a6.4,6.4 0 1,0 12.8,0a6.4,6.4 0 1,0 -12.8,0M501.7,322.7a6.4,6.4 0 1,0 12.8,0a6.4,6.4 0 1,0 -12.8,0M565.1,330.3a6.4,6.4 0 1,0 12.8,0a6.4,6.4 0 1,0 -12.8,0M569.4,352.8a6.4,6.4 0 1,0 12.8,0a6.4,6.4 0 1,0 -12.8,0M508.2,368.9a6.4,6.4 0 1,0 12.8,0a6.4,6.4 0 1,0 -12.8,0M536.1,368.9a6.4,6.4 0 1,0 12.8,0a6.4,6.4 0 1,0 -12.8,0M417.9,375.4a6.4,6.4 0 1,0 12.8,0a6.4,6.4 0 1,0 -12.8,0M555.4,386.1a6.4,6.4 0 1,0 12.8,0a6.4,6.4 0 1,0 -12.8,0M569.4,401.2a6.4,6.4 0 1,0 12.8,0a6.4,6.4 0 1,0 -12.8,0M558.7,423.7a6.4,6.4 0 1,0 12.8,0a6.4,6.4 0 1,0 -12.8,0M541.5,433.4a6.4,6.4 0 1,0 12.8,0a6.4,6.4 0 1,0 -12.8,0M635,442a6.4,6.4 0 1,0 12.8,0a6.4,6.4 0 1,0 -12.8,0M578,456a6.4,6.4 0 1,0 12.8,0a6.4,6.4 0 1,0 -12.8,0M515.7,452.8a6.4,6.4 0 1,0 12.8,0a6.4,6.4 0 1,0 -12.8,0M558.7,482.8a6.4,6.4 0 1,0 12.8,0a6.4,6.4 0 1,0 -12.8,0M569.4,492.5a6.4,6.4 0 1,0 12.8,0a6.4,6.4 0 1,0 -12.8,0M565.1,503.3a6.4,6.4 0 1,0 12.8,0a6.4,6.4 0 1,0 -12.8,0M533.9,483.9a6.4,6.4 0 1,0 12.8,0a6.4,6.4 0 1,0 -12.8,0M585.5,536.6a6.4,6.4 0 1,0 12.8,0a6.4,6.4 0 1,0 -12.8,0M559.7,530.1a6.4,6.4 0 1,0 12.8,0a6.4,6.4 0 1,0 -12.8,0M557.6,543a6.4,6.4 0 1,0 12.8,0a6.4,6.4 0 1,0 -12.8,0M528.6,550.5a6.4,6.4 0 1,0 12.8,0a6.4,6.4 0 1,0 -12.8,0M514.6,558.1a6.4,6.4 0 1,0 12.8,0a6.4,6.4 0 1,0 -12.8,0M512.5,457.1a6.4,6.4 0 1,0 12.8,0a6.4,6.4 0 1,0 -12.8,0M508.2,390.4a6.4,6.4 0 1,0 12.8,0a6.4,6.4 0 1,0 -12.8,0"/>
<path fill="#0000FF" d="M480.2,255a6.4,6.4 0 1,0 12.8,0a6.4,6.4 0 1,0 -12.8,0M494.2,264.7a6.4,6.4 0 1,0 12.8,0a6.4,6.4 0 1,0 -12.8,0M473.8,265.8a6.4,6.4 0 1,0 12.8,0a6.4,6.4 0 1,0 -12.8,0M483.4,279.8a6.4,6.4 0 1,0 12.8,0a6.4,6.4 0 1,0 -12.8,0M464.1,278.7a6.4,6.4 0 1,0 12.8,0a6.4,6.4 0 1,0 -12.8,0M481.3,303.4a6.4,6.4 0 1,0 12.8,0a6.4,6.4 0 1,0 -12.8,0M527.5,283a6.4,6.4 0 1,0 12.8,0a6.4,6.4 0 1,0 -12.8,0M549,291.6a6.4,6.4 0 1,0 12.8,0a6.4,6.4 0 1,0 -12.8,0M572.6,314.1a6.4,6.4 0 1,0 12.8,0a6.4,6.4 0 1,0 -12.8,0M540.4,327a6.4,6.4 0 1,0 12.8,0a6.4,6.4 0 1,0 -12.8,0M449.1,331.3a6.4,6.4 0 1,0 12.8,0a6.4,6.4 0 1,0 -12.8,0M493.1,313.1a6.4,6.4 0 1,0 12.8,0a6.4,6.4 0 1,0 -12.8,0M432.9,353.9a6.4,6.4 0 1,0 12.8,0a6.4,6.4 0 1,0 -12.8,0M501.7,359.3a6.4,6.4 0 1,0 12.8,0a6.4,6.4 0 1,0 -12.8,0M526.4,362.5a6.4,6.4 0 1,0 12.8,0a6.4,6.4 0 1,0 -12.8,0M539.3,358.2a6.4,6.4 0 1,0 12.8,0a6.4,6.4 0 1,0 -12.8,0M549,364.6a6.4,6.4 0 1,0 12.8,0a6.4,6.4 0 1,0 -12.8,0M559.7,381.8a6.4,6.4 0 1,0 12.8,0a6.4,6.4 0 1,0 -12.8,0M533.9,388.3a6.4,6.4 0 1,0 12.8,0a6.4,6.4 0 1,0 -12.8,0M553.3,401.2a6.4,6.4 0 1,0 12.8,0a6.4,6.4 0 1,0 -12.8,0M561.9,398a6.4,6.4 0 1,0 12.8,0a6.4,6.4 0 1,0 -12.8,0M581.2,408.7a6.4,6.4 0 1,0 12.8,0a6.4,6.4 0 1,0 -12.8,0M571.6,415.2a6.4,6.4 0 1,0 12.8,0a6.4,6.4 0 1,0 -12.8,0M613.5,421.6a6.4,6.4 0 1,0 12.8,0a6.4,6.4 0 1,0 -12.8,0M624.2,418.4a6.4,6.4 0 1,0 12.8,0a6.4,6.4 0 1,0 -12.8,0M600.6,433.4a6.4,6.4 0 1,0 12.8,0a6.4,6.4 0 1,0 -12.8,0M545.8,420.5a6.4,6.4 0 1,0 12.8,0a6.4,6.4 0 1,0 -12.8,0M538.2,429.1a6.4,6.4 0 1,0 12.8,0a6.4,6.4 0 1,0 -12.8,0M542.5,447.4a6.4,6.4 0 1,0 12.8,0a6.4,6.4 0 1,0 -12.8,0M530.7,452.8a6.4,6.4 0 1,0 12.8,0a6.4,6.4 0 1,0 -12.8,0M589.8,453.8a6.4,6.4 0 1,0 12.8,0a6.4,6.4 0 1,0 -12.8,0M566.2,462.4a6.4,6.4 0 1,0 12.8,0a6.4,6.4 0 1,0 -12.8,0M580.2,470a6.4,6.4 0 1,0 12.8,0a6.4,6.4 0 1,0 -12.8,0M629.6,454.9a6.4,6.4 0 1,0 12.8,0a6.4,6.4 0 1,0 -12.8,0M551.1,476.4a6.4,6.4 0 1,0 12.8,0a6.4,6.4 0 1,0 -12.8,0M530.7,478.5a6.4,6.4 0 1,0 12.8,0a6.4,6.4 0 1,0 -12.8,0M520,487.1a6.4,6.4 0 1,0 12.8,0a6.4,6.4 0 1,0 -12.8,0M536.1,507.6a6.4,6.4 0 1,0 12.8,0a6.4,6.4 0 1,0 -12.8,0M550.1,518.3a6.4,6.4 0 1,0 12.8,0a6.4,6.4 0 1,0 -12.8,0M529.7,528a6.4,6.4 0 1,0 12.8,0a6.4,6.4 0 1,0 -12.8,0M576.9,549.5a6.4,6.4 0 1,0 12.8,0a6.4,6.4 0 1,0 -12.8,0M628.5,555.9a6.4,6.4 0 1,0 12.8,0a6.4,6.4 0 1,0 -12.8,0M538.2,555.9a6.4,6.4 0 1,0 12.8,0a6.4,6.4 0 1,0 -12.8,0M569.4,360.3a6.4,6.4 0 1,0 12.8,0a6.4,6.4 0 1,0 -12.8,0M514.6,411.9a6.4,6.4 0 1,0 12.8,0a6.4,6.4 0 1,0 -12.8,0M525.4,418.4a6.4,6.4 0 1,0 12.8,0a6.4,6.4 0 1,0 -12.8,0"/>
<path fill="#A020F0" d="M542.5,242.1a6.4,6.4 0 1,0 12.8,0a6.4,6.4 0 1,0 -12.8,0M583.4,271.2a6.4,6.4 0 1,0 12.8,0a6.4,6.4 0 1,0 -12.8,0M425.4,288.4a6.4,6.4 0 1,0 12.8,0a6.4,6.4 0 1,0 -12.8,0M496.3,279.8a6.4,6.4 0 1,0 12.8,0a6.4,6.4 0 1,0 -12.8,0M489.9,291.6a6.4,6.4 0 1,0 12.8,0a6.4,6.4 0 1,0 -12.8,0M453.4,297a6.4,6.4 0 1,0 12.8,0a6.4,6.4 0 1,0 -12.8,0M494.2,332.4a6.4,6.4 0 1,0 12.8,0a6.4,6.4 0 1,0 -12.8,0M525.4,352.8a6.4,6.4 0 1,0 12.8,0a6.4,6.4 0 1,0 -12.8,0M570.5,375.4a6.4,6.4 0 1,0 12.8,0a6.4,6.4 0 1,0 -12.8,0M610.2,392.6a6.4,6.4 0 1,0 12.8,0a6.4,6.4 0 1,0 -12.8,0M644.6,424.8a6.4,6.4 0 1,0 12.8,0a6.4,6.4 0 1,0 -12.8,0M551.1,460.3a6.4,6.4 0 1,0 12.8,0a6.4,6.4 0 1,0 -12.8,0M585.5,471a6.4,6.4 0 1,0 12.8,0a6.4,6.4 0 1,0 -12.8,0M538.2,482.8a6.4,6.4 0 1,0 12.8,0a6.4,6.4 0 1,0 -12.8,0M544.7,500a6.4,6.4 0 1,0 12.8,0a6.4,6.4 0 1,0 -12.8,0M556.5,495.7a6.4,6.4 0 1,0 12.8,0a6.4,6.4 0 1,0 -12.8,0M560.8,519.4a6.4,6.4 0 1,0 12.8,0a6.4,6.4 0 1,0 -12.8,0M554.4,538.7a6.4,6.4 0 1,0 12.8,0a6.4,6.4 0 1,0 -12.8,0M565.1,548.4a6.4,6.4 0 1,0 12.8,0a6.4,6.4 0 1,0 -12.8,0M514.6,545.2a6.4,6.4 0 1,0 12.8,0a6.4,6.4 0 1,0 -12.8,0M544.7,448.5a6.4,6.4 0 1,0 12.8,0a6.4,6.4 0 1,0 -12.8,0M533.9,424.8a6.4,6.4 0 1,0 12.8,0a6.4,6.4 0 1,0 -12.8,0M501.7,418.4a6.4,6.4 0 1,0 12.8,0a6.4,6.4 0 1,0 -12.8,0"/>
<path fill="#FFFF00" d="M499.6,275.5a6.4,6.4 0 1,0 12.8,0a6.4,6.4 0 1,0 -12.8,0M513.5,332.4a6.4,6.4 0 1,0 12.8,0a6.4,6.4 0 1,0 -12.8,0M537.2,339.9a6.4,6.4 0 1,0 12.8,0a6.4,6.4 0 1,0 -12.8,0M589.8,400.1a6.4,6.4 0 1,0 12.8,0a6.4,6.4 0 1,0 -12.8,0M543.6,532.3a6.4,6.4 0 1,0 12.8,0a6.4,6.4 0 1,0 -12.8,0M540.4,510.8a6.4,6.4 0 1,0 12.8,0a6.4,6.4 0 1,0 -12.8,0M499.6,364.6a6.4,6.4 0 1,0 12.8,0a6.4,6.4 0 1,0 -12.8,0"/>
<path fill="#FF0000" d="M527.5,375.4a6.4,6.4 0 1,0 12.8,0a6.4,6.4 0 1,0 -12.8,0"/>
<path fill="#00FF00" d="M437.2,368.9a6.4,6.4 0 1,0 12.8,0a6.4,6.4 0 1,0 -12.8,0M454.4,407.6a6.4,6.4 0 1,0 12.8,0a6.4,6.4 0 1,0 -12.8,0M436.2,448.5a6.4,6.4 0 1,0 12.8,0a6.4,6.4 0 1,0 -12.8,0M474.8,468.9a6.4,6.4 0 1,0 12.8,0a6.4,6.4 0 1,0 -12.8,0M416.8,430.2a6.4,6.4 0 1,0 12.8,0a6.4,6.4 0 1,0 -12.8,0M425.4,500a6.4,6.4 0 1,0 12.8,0a6.4,6.4 0 1,0 -12.8,0M444.8,505.4a6.4,6.4 0 1,0 12.8,0a6.4,6.4 0 1,0 -12.8,0M420,508.6a6.4,6.4 0 1,0 12.8,0a6.4,6.4 0 1,0 -12.8,0M430.8,523.7a6.4,6.4 0 1,0 12.8,0a6.4,6.4 0 1,0 -12.8,0M444.8,523.7a6.4,6.4 0 1,0 12.8,0a6.4,6.4 0 1,0 -12.8,0M439.4,545.2a6.4,6.4 0 1,0 12.8,0a6.4,6.4 0 1,0 -12.8,0M426.5,551.6a6.4,6.4 0 1,0 12.8,0a6.4,6.4 0 1,0 -12.8,0M417.9,558.1a6.4,6.4 0 1,0 12.8,0a6.4,6.4 0 1,0 -12.8,0M473.8,560a6.4,6.4 0 1,0 12.8,0a6.4,6.4 0 1,0 -12.8,0M451,566.6a6.4,6.4 0 1,0 12.8,0a6.4,6.4 0 1,0 -12.8,0M463.1,575.1a6.4,6.4 0 1,0 12.8,0a6.4,6.4 0 1,0 -12.8,0M463.1,587.1a6.4,6.4 0 1,0 12.8,0a6.4,6.4 0 1,0 -12.8,0M473.3,564.2a6.4,6.4 0 1,0 12.8,0a6.4,6.4 0 1,0 -12.8,0M487.2,570.2a6.4,6.4 0 1,0 12.8,0a6.4,6.4 0 1,0 -12.8,0M493.3,566.6a6.4,6.4 0 1,0 12.8,0a6.4,6.4 0 1,0 -12.8,0M477.6,611.3a6.4,6.4 0 1,0 12.8,0a6.4,6.4 0 1,0 -12.8,0M490.3,629.5a6.4,6.4 0 1,0 12.8,0a6.4,6.4 0 1,0 -12.8,0M496.9,647.6a6.4,6.4 0 1,0 12.8,0a6.4,6.4 0 1,0 -12.8,0M513.2,622.2a6.4,6.4 0 1,0 12.8,0a6.4,6.4 0 1,0 -12.8,0M526.5,613.7a6.4,6.4 0 1,0 12.8,0a6.4,6.4 0 1,0 -12.8,0M532,656.7a6.4,6.4 0 1,0 12.8,0a6.4,6.4 0 1,0 -12.8,0M478.8,656.7a6.4,6.4 0 1,0 12.8,0a6.4,6.4 0 1,0 -12.8,0M438.9,544.8a6.4,6.4 0 1,0 12.8,0a6.4,6.4 0 1,0 -12.8,0M401.4,543.6a6.4,6.4 0 1,0 12.8,0a6.4,6.4 0 1,0 -12.8,0M385.7,544.8a6.4,6.4 0 1,0 12.8,0a6.4,6.4 0 1,0 -12.8,0M282.7,983.2a6.4,6.4 0 1,0 12.8,0a6.4,6.4 0 1,0 -12.8,0M297.8,1004.6a6.4,6.4 0 1,0 12.8,0a6.4,6.4 0 1,0 -12.8,0M305.3,1017.5a6.4,6.4 0 1,0 12.8,0a6.4,6.4 0 1,0 -12.8,0M312.8,1028.3a6.4,6.4 0 1,0 12.8,0a6.4,6.4 0 1,0 -12.8,0M318.2,1036.9a6.4,6.4 0 1,0 12.8,0a6.4,6.4 0 1,0 -12.8,0"/>
<path fill="#0000FF" d="M322.5,1042.3a6.4,6.4 0 1,0 12.8,0a6.4,6.4 0 1,0 -12.8,0"/>
<path fill="#000000" d="M409.5,1177.6a6.4,6.4 0 1,0 12.8,0a6.4,6.4 0 1,0 -12.8,0"/>
<path fill="#00FF00" d="M413.6,1183a6.4,6.4 0 1,0 12.8,0a6.4,6.4 0 1,0 -12.8,0"/>
<path fill="#A020F0" d="M302.1,962.7a6.4,6.4 0 1,0 12.8,0a6.4,6.4 0 1,0 -12.8,0"/>
<path fill="#0000FF" d="M307.4,970.3a6.4,6.4 0 1,0 12.8,0a6.4,6.4 0 1,0 -12.8,0"/>
<path fill="#00FF00" d="M288.1,912.2a6.4,6.4 0 1,0 12.8,0a6.4,6.4 0 1,0 -12.8,0M295.6,901.5a6.4,6.4 0 1,0 12.8,0a6.4,6.4 0 1,0 -12.8,0M312.8,950.9a6.4,6.4 0 1,0 12.8,0a6.4,6.4 0 1,0 -12.8,0M319.3,938a6.4,6.4 0 1,0 12.8,0a6.4,6.4 0 1,0 -12.8,0"/>
<path fill="#FFFF00" d="M319.3,960.6a6.4,6.4 0 1,0 12.8,0a6.4,6.4 0 1,0 -12.8,0M350.4,1008.9a6.4,6.4 0 1,0 12.8,0a6.4,6.4 0 1,0 -12.8,0M407.4,1024a6.4,6.4 0 1,0 12.8,0a6.4,6.4 0 1,0 -12.8,0M398.8,886.4a6.4,6.4 0 1,0 12.8,0a6.4,6.4 0 1,0 -12.8,0"/>
<path fill="#FF0000" d="M305.3,918.7a6.4,6.4 0 1,0 12.8,0a6.4,6.4 0 1,0 -12.8,0M407.4,882.1a6.4,6.4 0 1,0 12.8,0a6.4,6.4 0 1,0 -12.8,0"/>
<path fill="#000000" d="M340.7,996.1a6.4,6.4 0 1,0 12.8,0a6.4,6.4 0 1,0 -12.8,0M360.1,1026.1a6.4,6.4 0 1,0 12.8,0a6.4,6.4 0 1,0 -12.8,0"/>
<path fill="#A020F0" d="M407.4,897.2a6.4,6.4 0 1,0 12.8,0a6.4,6.4 0 1,0 -12.8,0M351.5,981a6.4,6.4 0 1,0 12.8,0a6.4,6.4 0 1,0 -12.8,0"/>
<path fill="#000000" d="M597.3,885.4a6.4,6.4 0 1,0 12.8,0a6.4,6.4 0 1,0 -12.8,0M596.3,880a6.4,6.4 0 1,0 12.8,0a6.4,6.4 0 1,0 -12.8,0M535,886.4a6.4,6.4 0 1,0 12.8,0a6.4,6.4 0 1,0 -12.8,0M529.7,942.3a6.4,6.4 0 1,0 12.8,0a6.4,6.4 0 1,0 -12.8,0M564,943.4a6.4,6.4 0 1,0 12.8,0a6.4,6.4 0 1,0 -12.8,0M658.6,959.5a6.4,6.4 0 1,0 12.8,0a6.4,6.4 0 1,0 -12.8,0M543.6,960.6a6.4,6.4 0 1,0 12.8,0a6.4,6.4 0 1,0 -12.8,0M563,979.9a6.4,6.4 0 1,0 12.8,0a6.4,6.4 0 1,0 -12.8,0M507.1,992.8a6.4,6.4 0 1,0 12.8,0a6.4,6.4 0 1,0 -12.8,0M525.4,1008.9a6.4,6.4 0 1,0 12.8,0a6.4,6.4 0 1,0 -12.8,0M525.4,1018.6a6.4,6.4 0 1,0 12.8,0a6.4,6.4 0 1,0 -12.8,0M501.7,1024a6.4,6.4 0 1,0 12.8,0a6.4,6.4 0 1,0 -12.8,0M512.5,1030.4a6.4,6.4 0 1,0 12.8,0a6.4,6.4 0 1,0 -12.8,0M484.5,1045.5a6.4,6.4 0 1,0 12.8,0a6.4,6.4 0 1,0 -12.8,0M477,1069.1a6.4,6.4 0 1,0 12.8,0a6.4,6.4 0 1,0 -12.8,0M509.2,1078.8a6.4,6.4 0 1,0 12.8,0a6.4,6.4 0 1,0 -12.8,0M495.3,1084.2a6.4,6.4 0 1,0 12.8,0a6.4,6.4 0 1,0 -12.8,0M491,1097.1a6.4,6.4 0 1,0 12.8,0a6.4,6.4 0 1,0 -12.8,0M515.7,1101.4a6.4,6.4 0 1,0 12.8,0a6.4,6.4 0 1,0 -12.8,0M525.4,1098.1a6.4,6.4 0 1,0 12.8,0a6.4,6.4 0 1,0 -12.8,0M538.2,1146.5a6.4,6.4 0 1,0 12.8,0a6.4,6.4 0 1,0 -12.8,0M540.4,1163.7a6.4,6.4 0 1,0 12.8,0a6.4,6.4 0 1,0 -12.8,0M492,1197a6.4,6.4 0 1,0 12.8,0a6.4,6.4 0 1,0 -12.8,0M471.6,985.3a6.4,6.4 0 1,0 12.8,0a6.4,6.4 0 1,0 -12.8,0M470.6,974.6a6.4,6.4 0 1,0 12.8,0a6.4,6.4 0 1,0 -12.8,0M463,960.6a6.4,6.4 0 1,0 12.8,0a6.4,6.4 0 1,0 -12.8,0M495.3,901.5a6.4,6.4 0 1,0 12.8,0a6.4,6.4 0 1,0 -12.8,0M501.7,920.8a6.4,6.4 0 1,0 12.8,0a6.4,6.4 0 1,0 -12.8,0M487.7,918.7a6.4,6.4 0 1,0 12.8,0a6.4,6.4 0 1,0 -12.8,0M463,899.3a6.4,6.4 0 1,0 12.8,0a6.4,6.4 0 1,0 -12.8,0M473.8,905.8a6.4,6.4 0 1,0 12.8,0a6.4,6.4 0 1,0 -12.8,0M467.3,892.9a6.4,6.4 0 1,0 12.8,0a6.4,6.4 0 1,0 -12.8,0M521.1,892.9a6.4,6.4 0 1,0 12.8,0a6.4,6.4 0 1,0 -12.8,0M506,892.9a6.4,6.4 0 1,0 12.8,0a6.4,6.4 0 1,0 -12.8,0M439.4,1137.9a6.4,6.4 0 1,0 12.8,0a6.4,6.4 0 1,0 -12.8,0M508.2,1146.5a6.4,6.4 0 1,0 12.8,0a6.4,6.4 0 1,0 -12.8,0M521.1,1157.2a6.4,6.4 0 1,0 12.8,0a6.4,6.4 0 1,0 -12.8,0M460.9,1047.6a6.4,6.4 0 1,0 12.8,0a6.4,6.4 0 1,0 -12.8,0M456.6,1051.9a6.4,6.4 0 1,0 12.8,0a6.4,6.4 0 1,0 -12.8,0M445.8,1030.4a6.4,6.4 0 1,0 12.8,0a6.4,6.4 0 1,0 -12.8,0M478.1,1004.6a6.4,6.4 0 1,0 12.8,0a6.4,6.4 0 1,0 -12.8,0"/>
<path fill="#A020F0" d="M501.7,933.7a6.4,6.4 0 1,0 12.8,0a6.4,6.4 0 1,0 -12.8,0M506,949.8a6.4,6.4 0 1,0 12.8,0a6.4,6.4 0 1,0 -12.8,0M500.6,966a6.4,6.4 0 1,0 12.8,0a6.4,6.4 0 1,0 -12.8,0M554.4,959.5a6.4,6.4 0 1,0 12.8,0a6.4,6.4 0 1,0 -12.8,0M486.7,991.8a6.4,6.4 0 1,0 12.8,0a6.4,6.4 0 1,0 -12.8,0M493.1,948.8a6.4,6.4 0 1,0 12.8,0a6.4,6.4 0 1,0 -12.8,0M452.3,991.8a6.4,6.4 0 1,0 12.8,0a6.4,6.4 0 1,0 -12.8,0M445.8,972.4a6.4,6.4 0 1,0 12.8,0a6.4,6.4 0 1,0 -12.8,0M469.5,1016.5a6.4,6.4 0 1,0 12.8,0a6.4,6.4 0 1,0 -12.8,0M460.9,1031.5a6.4,6.4 0 1,0 12.8,0a6.4,6.4 0 1,0 -12.8,0M475.9,1038a6.4,6.4 0 1,0 12.8,0a6.4,6.4 0 1,0 -12.8,0M503.9,1040.1a6.4,6.4 0 1,0 12.8,0a6.4,6.4 0 1,0 -12.8,0M468.4,1073.4a6.4,6.4 0 1,0 12.8,0a6.4,6.4 0 1,0 -12.8,0M496.3,1078.8a6.4,6.4 0 1,0 12.8,0a6.4,6.4 0 1,0 -12.8,0M510.3,1087.4a6.4,6.4 0 1,0 12.8,0a6.4,6.4 0 1,0 -12.8,0M498.5,1098.1a6.4,6.4 0 1,0 12.8,0a6.4,6.4 0 1,0 -12.8,0M528.6,1159.4a6.4,6.4 0 1,0 12.8,0a6.4,6.4 0 1,0 -12.8,0M543.6,1177.6a6.4,6.4 0 1,0 12.8,0a6.4,6.4 0 1,0 -12.8,0M455.5,1164.8a6.4,6.4 0 1,0 12.8,0a6.4,6.4 0 1,0 -12.8,0M458.7,916.5a6.4,6.4 0 1,0 12.8,0a6.4,6.4 0 1,0 -12.8,0"/>
<path fill="#FFFF00" d="M533.9,962.7a6.4,6.4 0 1,0 12.8,0a6.4,6.4 0 1,0 -12.8,0M581.2,971.3a6.4,6.4 0 1,0 12.8,0a6.4,6.4 0 1,0 -12.8,0M467.3,1004.6a6.4,6.4 0 1,0 12.8,0a6.4,6.4 0 1,0 -12.8,0M456.6,1011.1a6.4,6.4 0 1,0 12.8,0a6.4,6.4 0 1,0 -12.8,0M453.4,1026.1a6.4,6.4 0 1,0 12.8,0a6.4,6.4 0 1,0 -12.8,0M460.9,1045.5a6.4,6.4 0 1,0 12.8,0a6.4,6.4 0 1,0 -12.8,0M456.6,1062.7a6.4,6.4 0 1,0 12.8,0a6.4,6.4 0 1,0 -12.8,0M477,1086.3a6.4,6.4 0 1,0 12.8,0a6.4,6.4 0 1,0 -12.8,0M514.6,1144.3a6.4,6.4 0 1,0 12.8,0a6.4,6.4 0 1,0 -12.8,0M551.1,1150.8a6.4,6.4 0 1,0 12.8,0a6.4,6.4 0 1,0 -12.8,0M564,1168a6.4,6.4 0 1,0 12.8,0a6.4,6.4 0 1,0 -12.8,0M526.4,1183a6.4,6.4 0 1,0 12.8,0a6.4,6.4 0 1,0 -12.8,0M509.2,1194.8a6.4,6.4 0 1,0 12.8,0a6.4,6.4 0 1,0 -12.8,0M441.5,1041.2a6.4,6.4 0 1,0 12.8,0a6.4,6.4 0 1,0 -12.8,0M469.5,981a6.4,6.4 0 1,0 12.8,0a6.4,6.4 0 1,0 -12.8,0M491,1137.9a6.4,6.4 0 1,0 12.8,0a6.4,6.4 0 1,0 -12.8,0"/>
<path fill="#00FF00" d="M468.4,889.7a6.4,6.4 0 1,0 12.8,0a6.4,6.4 0 1,0 -12.8,0M443.7,896.1a6.4,6.4 0 1,0 12.8,0a6.4,6.4 0 1,0 -12.8,0M463,920.8a6.4,6.4 0 1,0 12.8,0a6.4,6.4 0 1,0 -12.8,0M474.8,924.1a6.4,6.4 0 1,0 12.8,0a6.4,6.4 0 1,0 -12.8,0M486.7,943.4a6.4,6.4 0 1,0 12.8,0a6.4,6.4 0 1,0 -12.8,0M493.1,942.3a6.4,6.4 0 1,0 12.8,0a6.4,6.4 0 1,0 -12.8,0M480.2,969.2a6.4,6.4 0 1,0 12.8,0a6.4,6.4 0 1,0 -12.8,0M495.3,981a6.4,6.4 0 1,0 12.8,0a6.4,6.4 0 1,0 -12.8,0M482.4,1028.3a6.4,6.4 0 1,0 12.8,0a6.4,6.4 0 1,0 -12.8,0M434,983.2a6.4,6.4 0 1,0 12.8,0a6.4,6.4 0 1,0 -12.8,0M427.6,1008.9a6.4,6.4 0 1,0 12.8,0a6.4,6.4 0 1,0 -12.8,0M439.4,1015.4a6.4,6.4 0 1,0 12.8,0a6.4,6.4 0 1,0 -12.8,0M478.1,1097.1a6.4,6.4 0 1,0 12.8,0a6.4,6.4 0 1,0 -12.8,0M503.9,1122.8a6.4,6.4 0 1,0 12.8,0a6.4,6.4 0 1,0 -12.8,0M509.2,1133.6a6.4,6.4 0 1,0 12.8,0a6.4,6.4 0 1,0 -12.8,0M493.1,1149.7a6.4,6.4 0 1,0 12.8,0a6.4,6.4 0 1,0 -12.8,0M508.2,1157.2a6.4,6.4 0 1,0 12.8,0a6.4,6.4 0 1,0 -12.8,0M518.9,1165.8a6.4,6.4 0 1,0 12.8,0a6.4,6.4 0 1,0 -12.8,0M491,1165.8a6.4,6.4 0 1,0 12.8,0a6.4,6.4 0 1,0 -12.8,0M499.6,1168a6.4,6.4 0 1,0 12.8,0a6.4,6.4 0 1,0 -12.8,0M512.5,1180.9a6.4,6.4 0 1,0 12.8,0a6.4,6.4 0 1,0 -12.8,0M523.2,1180.9a6.4,6.4 0 1,0 12.8,0a6.4,6.4 0 1,0 -12.8,0M513.5,1200a6.4,6.4 0 1,0 12.8,0a6.4,6.4 0 1,0 -12.8,0M528.6,1200a6.4,6.4 0 1,0 12.8,0a6.4,6.4 0 1,0 -12.8,0"/>
<path fill="#0000FF" d="M469.5,954.1a6.4,6.4 0 1,0 12.8,0a6.4,6.4 0 1,0 -12.8,0M456.6,947.7a6.4,6.4 0 1,0 12.8,0a6.4,6.4 0 1,0 -12.8,0M449.1,943.4a6.4,6.4 0 1,0 12.8,0a6.4,6.4 0 1,0 -12.8,0M419,1022.9a6.4,6.4 0 1,0 12.8,0a6.4,6.4 0 1,0 -12.8,0M442.6,1058.4a6.4,6.4 0 1,0 12.8,0a6.4,6.4 0 1,0 -12.8,0M466.3,1082a6.4,6.4 0 1,0 12.8,0a6.4,6.4 0 1,0 -12.8,0M530.7,1084.2a6.4,6.4 0 1,0 12.8,0a6.4,6.4 0 1,0 -12.8,0M489.9,1113.2a6.4,6.4 0 1,0 12.8,0a6.4,6.4 0 1,0 -12.8,0M482.4,1163.7a6.4,6.4 0 1,0 12.8,0a6.4,6.4 0 1,0 -12.8,0M493.1,1172.3a6.4,6.4 0 1,0 12.8,0a6.4,6.4 0 1,0 -12.8,0"/>
<path fill="#FF0000" d="M464.1,940.2a6.4,6.4 0 1,0 12.8,0a6.4,6.4 0 1,0 -12.8,0M443.7,926.2a6.4,6.4 0 1,0 12.8,0a6.4,6.4 0 1,0 -12.8,0M444.8,1011.1a6.4,6.4 0 1,0 12.8,0a6.4,6.4 0 1,0 -12.8,0M429.7,948.8a6.4,6.4 0 1,0 12.8,0a6.4,6.4 0 1,0 -12.8,0"/>
<path fill="#0000FF" d="M472.4,1218a6.4,6.4 0 1,0 12.8,0a6.4,6.4 0 1,0 -12.8,0"/>
<path fill="#00FF00" d="M477.7,1226.6a6.4,6.4 0 1,0 12.8,0a6.4,6.4 0 1,0 -12.8,0M491.6,1244.7a6.4,6.4 0 1,0 12.8,0a6.4,6.4 0 1,0 -12.8,0M494.8,1249a6.4,6.4 0 1,0 12.8,0a6.4,6.4 0 1,0 -12.8,0"/>
<path fill="#A020F0" d="M485.2,1237.3a6.4,6.4 0 1,0 12.8,0a6.4,6.4 0 1,0 -12.8,0"/>
<path fill="#000000" d="M538.7,1146.4a6.4,6.4 0 1,0 12.8,0a6.4,6.4 0 1,0 -12.8,0M540.8,1164.6a6.4,6.4 0 1,0 12.8,0a6.4,6.4 0 1,0 -12.8,0M491.6,1197.7a6.4,6.4 0 1,0 12.8,0a6.4,6.4 0 1,0 -12.8,0M661.6,1211.6a6.4,6.4 0 1,0 12.8,0a6.4,6.4 0 1,0 -12.8,0M643.4,1234.1a6.4,6.4 0 1,0 12.8,0a6.4,6.4 0 1,0 -12.8,0M457.4,1244.7a6.4,6.4 0 1,0 12.8,0a6.4,6.4 0 1,0 -12.8,0M463.8,1253.3a6.4,6.4 0 1,0 12.8,0a6.4,6.4 0 1,0 -12.8,0M484.1,1283.2a6.4,6.4 0 1,0 12.8,0a6.4,6.4 0 1,0 -12.8,0M519.4,1287.5a6.4,6.4 0 1,0 12.8,0a6.4,6.4 0 1,0 -12.8,0M529,1350.6a6.4,6.4 0 1,0 12.8,0a6.4,6.4 0 1,0 -12.8,0M507.7,1173.1a6.4,6.4 0 1,0 12.8,0a6.4,6.4 0 1,0 -12.8,0M415.7,1176.3a6.4,6.4 0 1,0 12.8,0a6.4,6.4 0 1,0 -12.8,0M435,1141.1a6.4,6.4 0 1,0 12.8,0a6.4,6.4 0 1,0 -12.8,0M507.7,1146.4a6.4,6.4 0 1,0 12.8,0a6.4,6.4 0 1,0 -12.8,0"/>
<path fill="#00FF00" d="M492.7,1150.7a6.4,6.4 0 1,0 12.8,0a6.4,6.4 0 1,0 -12.8,0M507.7,1156a6.4,6.4 0 1,0 12.8,0a6.4,6.4 0 1,0 -12.8,0M490.6,1166.7a6.4,6.4 0 1,0 12.8,0a6.4,6.4 0 1,0 -12.8,0M501.2,1171a6.4,6.4 0 1,0 12.8,0a6.4,6.4 0 1,0 -12.8,0M516.2,1165.7a6.4,6.4 0 1,0 12.8,0a6.4,6.4 0 1,0 -12.8,0M514.1,1181.7a6.4,6.4 0 1,0 12.8,0a6.4,6.4 0 1,0 -12.8,0M522.6,1179.5a6.4,6.4 0 1,0 12.8,0a6.4,6.4 0 1,0 -12.8,0M514.1,1202a6.4,6.4 0 1,0 12.8,0a6.4,6.4 0 1,0 -12.8,0M529,1203.1a6.4,6.4 0 1,0 12.8,0a6.4,6.4 0 1,0 -12.8,0M520.5,1210.5a6.4,6.4 0 1,0 12.8,0a6.4,6.4 0 1,0 -12.8,0M505.5,1218a6.4,6.4 0 1,0 12.8,0a6.4,6.4 0 1,0 -12.8,0M553.6,1223.4a6.4,6.4 0 1,0 12.8,0a6.4,6.4 0 1,0 -12.8,0M507.7,1240.5a6.4,6.4 0 1,0 12.8,0a6.4,6.4 0 1,0 -12.8,0M524.8,1245.8a6.4,6.4 0 1,0 12.8,0a6.4,6.4 0 1,0 -12.8,0M551.5,1246.9a6.4,6.4 0 1,0 12.8,0a6.4,6.4 0 1,0 -12.8,0M539.7,1268.3a6.4,6.4 0 1,0 12.8,0a6.4,6.4 0 1,0 -12.8,0M443.5,1144.3a6.4,6.4 0 1,0 12.8,0a6.4,6.4 0 1,0 -12.8,0M477.7,1144.3a6.4,6.4 0 1,0 12.8,0a6.4,6.4 0 1,0 -12.8,0M467,1152.8a6.4,6.4 0 1,0 12.8,0a6.4,6.4 0 1,0 -12.8,0M482,1161.4a6.4,6.4 0 1,0 12.8,0a6.4,6.4 0 1,0 -12.8,0"/>
<path fill="#FF0000" d="M551.5,1270.4a6.4,6.4 0 1,0 12.8,0a6.4,6.4 0 1,0 -12.8,0"/>
<path fill="#FFFF00" d="M550.4,1150.7a6.4,6.4 0 1,0 12.8,0a6.4,6.4 0 1,0 -12.8,0M564.3,1167.8a6.4,6.4 0 1,0 12.8,0a6.4,6.4 0 1,0 -12.8,0M515.1,1144.3a6.4,6.4 0 1,0 12.8,0a6.4,6.4 0 1,0 -12.8,0M494.8,1144.3a6.4,6.4 0 1,0 12.8,0a6.4,6.4 0 1,0 -12.8,0M525.8,1183.8a6.4,6.4 0 1,0 12.8,0a6.4,6.4 0 1,0 -12.8,0M511.9,1194.5a6.4,6.4 0 1,0 12.8,0a6.4,6.4 0 1,0 -12.8,0M505.5,1195.6a6.4,6.4 0 1,0 12.8,0a6.4,6.4 0 1,0 -12.8,0"/>
<path fill="#A020F0" d="M456.4,1164.6a6.4,6.4 0 1,0 12.8,0a6.4,6.4 0 1,0 -12.8,0M529,1159.2a6.4,6.4 0 1,0 12.8,0a6.4,6.4 0 1,0 -12.8,0M544,1177.4a6.4,6.4 0 1,0 12.8,0a6.4,6.4 0 1,0 -12.8,0"/>
<path fill="#0000FF" d="M482,1164.6a6.4,6.4 0 1,0 12.8,0a6.4,6.4 0 1,0 -12.8,0M493.8,1173.1a6.4,6.4 0 1,0 12.8,0a6.4,6.4 0 1,0 -12.8,0M521.5,1175.3a6.4,6.4 0 1,0 12.8,0a6.4,6.4 0 1,0 -12.8,0"/>
<path fill="#000000" d="M529.5,942.3a6.4,6.4 0 1,0 12.8,0a6.4,6.4 0 1,0 -12.8,0M563.7,943.3a6.4,6.4 0 1,0 12.8,0a6.4,6.4 0 1,0 -12.8,0M543.6,960.4a6.4,6.4 0 1,0 12.8,0a6.4,6.4 0 1,0 -12.8,0M562.7,979.5a6.4,6.4 0 1,0 12.8,0a6.4,6.4 0 1,0 -12.8,0M506.3,992.6a6.4,6.4 0 1,0 12.8,0a6.4,6.4 0 1,0 -12.8,0M525.4,1008.8a6.4,6.4 0 1,0 12.8,0a6.4,6.4 0 1,0 -12.8,0M525.4,1017.8a6.4,6.4 0 1,0 12.8,0a6.4,6.4 0 1,0 -12.8,0M502.3,1023.9a6.4,6.4 0 1,0 12.8,0a6.4,6.4 0 1,0 -12.8,0M512.4,1029.9a6.4,6.4 0 1,0 12.8,0a6.4,6.4 0 1,0 -12.8,0M484.1,1045a6.4,6.4 0 1,0 12.8,0a6.4,6.4 0 1,0 -12.8,0M472.1,983.6a6.4,6.4 0 1,0 12.8,0a6.4,6.4 0 1,0 -12.8,0M472.1,975.5a6.4,6.4 0 1,0 12.8,0a6.4,6.4 0 1,0 -12.8,0M535.5,876.8a6.4,6.4 0 1,0 12.8,0a6.4,6.4 0 1,0 -12.8,0M535.5,886.9a6.4,6.4 0 1,0 12.8,0a6.4,6.4 0 1,0 -12.8,0M519.4,868.7a6.4,6.4 0 1,0 12.8,0a6.4,6.4 0 1,0 -12.8,0M509.3,876.8a6.4,6.4 0 1,0 12.8,0a6.4,6.4 0 1,0 -12.8,0M519.4,890.9a6.4,6.4 0 1,0 12.8,0a6.4,6.4 0 1,0 -12.8,0M507.3,901a6.4,6.4 0 1,0 12.8,0a6.4,6.4 0 1,0 -12.8,0M491.2,903a6.4,6.4 0 1,0 12.8,0a6.4,6.4 0 1,0 -12.8,0M501.3,919.1a6.4,6.4 0 1,0 12.8,0a6.4,6.4 0 1,0 -12.8,0M491.2,923.1a6.4,6.4 0 1,0 12.8,0a6.4,6.4 0 1,0 -12.8,0M475.1,880.8a6.4,6.4 0 1,0 12.8,0a6.4,6.4 0 1,0 -12.8,0M485.2,874.8a6.4,6.4 0 1,0 12.8,0a6.4,6.4 0 1,0 -12.8,0M465,903a6.4,6.4 0 1,0 12.8,0a6.4,6.4 0 1,0 -12.8,0M454.9,915.1a6.4,6.4 0 1,0 12.8,0a6.4,6.4 0 1,0 -12.8,0M551.6,842.5a6.4,6.4 0 1,0 12.8,0a6.4,6.4 0 1,0 -12.8,0M563.7,834.5a6.4,6.4 0 1,0 12.8,0a6.4,6.4 0 1,0 -12.8,0M569.8,850.6a6.4,6.4 0 1,0 12.8,0a6.4,6.4 0 1,0 -12.8,0M541.6,836.5a6.4,6.4 0 1,0 12.8,0a6.4,6.4 0 1,0 -12.8,0M521.4,846.6a6.4,6.4 0 1,0 12.8,0a6.4,6.4 0 1,0 -12.8,0M505.3,856.6a6.4,6.4 0 1,0 12.8,0a6.4,6.4 0 1,0 -12.8,0M495.2,864.7a6.4,6.4 0 1,0 12.8,0a6.4,6.4 0 1,0 -12.8,0M475.1,1068.2a6.4,6.4 0 1,0 12.8,0a6.4,6.4 0 1,0 -12.8,0"/>
<path fill="#A020F0" d="M502.3,934.2a6.4,6.4 0 1,0 12.8,0a6.4,6.4 0 1,0 -12.8,0M506.3,950.3a6.4,6.4 0 1,0 12.8,0a6.4,6.4 0 1,0 -12.8,0M500.3,965.4a6.4,6.4 0 1,0 12.8,0a6.4,6.4 0 1,0 -12.8,0M553.7,959.4a6.4,6.4 0 1,0 12.8,0a6.4,6.4 0 1,0 -12.8,0M486.2,991.6a6.4,6.4 0 1,0 12.8,0a6.4,6.4 0 1,0 -12.8,0M450.9,993.6a6.4,6.4 0 1,0 12.8,0a6.4,6.4 0 1,0 -12.8,0M454.9,989.6a6.4,6.4 0 1,0 12.8,0a6.4,6.4 0 1,0 -12.8,0M444.9,973.5a6.4,6.4 0 1,0 12.8,0a6.4,6.4 0 1,0 -12.8,0M469,1016.8a6.4,6.4 0 1,0 12.8,0a6.4,6.4 0 1,0 -12.8,0M461,1031.9a6.4,6.4 0 1,0 12.8,0a6.4,6.4 0 1,0 -12.8,0M476.1,1038a6.4,6.4 0 1,0 12.8,0a6.4,6.4 0 1,0 -12.8,0M503.3,1040a6.4,6.4 0 1,0 12.8,0a6.4,6.4 0 1,0 -12.8,0M456.9,916.1a6.4,6.4 0 1,0 12.8,0a6.4,6.4 0 1,0 -12.8,0M473.1,941.3a6.4,6.4 0 1,0 12.8,0a6.4,6.4 0 1,0 -12.8,0M430.8,860.7a6.4,6.4 0 1,0 12.8,0a6.4,6.4 0 1,0 -12.8,0M301.8,962.4a6.4,6.4 0 1,0 12.8,0a6.4,6.4 0 1,0 -12.8,0M448.9,969.5a6.4,6.4 0 1,0 12.8,0a6.4,6.4 0 1,0 -12.8,0"/>
<path fill="#FFFF00" d="M534.5,963.4a6.4,6.4 0 1,0 12.8,0a6.4,6.4 0 1,0 -12.8,0M459,975.5a6.4,6.4 0 1,0 12.8,0a6.4,6.4 0 1,0 -12.8,0M458,1011.8a6.4,6.4 0 1,0 12.8,0a6.4,6.4 0 1,0 -12.8,0M454.9,1023.9a6.4,6.4 0 1,0 12.8,0a6.4,6.4 0 1,0 -12.8,0M461,1046a6.4,6.4 0 1,0 12.8,0a6.4,6.4 0 1,0 -12.8,0M440.8,1042a6.4,6.4 0 1,0 12.8,0a6.4,6.4 0 1,0 -12.8,0M473.1,1005.7a6.4,6.4 0 1,0 12.8,0a6.4,6.4 0 1,0 -12.8,0M406.6,999.7a6.4,6.4 0 1,0 12.8,0a6.4,6.4 0 1,0 -12.8,0M350.2,1008.8a6.4,6.4 0 1,0 12.8,0a6.4,6.4 0 1,0 -12.8,0M319.9,959.4a6.4,6.4 0 1,0 12.8,0a6.4,6.4 0 1,0 -12.8,0M400.5,888.9a6.4,6.4 0 1,0 12.8,0a6.4,6.4 0 1,0 -12.8,0M465,931.2a6.4,6.4 0 1,0 12.8,0a6.4,6.4 0 1,0 -12.8,0"/>
<path fill="#0000FF" d="M470,954.4a6.4,6.4 0 1,0 12.8,0a6.4,6.4 0 1,0 -12.8,0M456.9,947.3a6.4,6.4 0 1,0 12.8,0a6.4,6.4 0 1,0 -12.8,0M417.7,1023.9a6.4,6.4 0 1,0 12.8,0a6.4,6.4 0 1,0 -12.8,0M440.8,1058.1a6.4,6.4 0 1,0 12.8,0a6.4,6.4 0 1,0 -12.8,0M402.5,988.6a6.4,6.4 0 1,0 12.8,0a6.4,6.4 0 1,0 -12.8,0M306.8,969.5a6.4,6.4 0 1,0 12.8,0a6.4,6.4 0 1,0 -12.8,0M418.7,906a6.4,6.4 0 1,0 12.8,0a6.4,6.4 0 1,0 -12.8,0M322,1042a6.4,6.4 0 1,0 12.8,0a6.4,6.4 0 1,0 -12.8,0"/>
<path fill="#FF0000" d="M464,940.2a6.4,6.4 0 1,0 12.8,0a6.4,6.4 0 1,0 -12.8,0M442.8,1011.8a6.4,6.4 0 1,0 12.8,0a6.4,6.4 0 1,0 -12.8,0M304.8,918.1a6.4,6.4 0 1,0 12.8,0a6.4,6.4 0 1,0 -12.8,0M406.6,876.8a6.4,6.4 0 1,0 12.8,0a6.4,6.4 0 1,0 -12.8,0M313.9,860.7a6.4,6.4 0 1,0 12.8,0a6.4,6.4 0 1,0 -12.8,0"/>
<path fill="#00FF00" d="M483.1,945.3a6.4,6.4 0 1,0 12.8,0a6.4,6.4 0 1,0 -12.8,0M493.2,943.3a6.4,6.4 0 1,0 12.8,0a6.4,6.4 0 1,0 -12.8,0M481.1,969.5a6.4,6.4 0 1,0 12.8,0a6.4,6.4 0 1,0 -12.8,0M495.2,980.5a6.4,6.4 0 1,0 12.8,0a6.4,6.4 0 1,0 -12.8,0M481.1,1028.9a6.4,6.4 0 1,0 12.8,0a6.4,6.4 0 1,0 -12.8,0M479.1,1021.8a6.4,6.4 0 1,0 12.8,0a6.4,6.4 0 1,0 -12.8,0M467,888.9a6.4,6.4 0 1,0 12.8,0a6.4,6.4 0 1,0 -12.8,0M440.8,874.8a6.4,6.4 0 1,0 12.8,0a6.4,6.4 0 1,0 -12.8,0M444.9,894.9a6.4,6.4 0 1,0 12.8,0a6.4,6.4 0 1,0 -12.8,0M414.6,888.9a6.4,6.4 0 1,0 12.8,0a6.4,6.4 0 1,0 -12.8,0M480.1,852.6a6.4,6.4 0 1,0 12.8,0a6.4,6.4 0 1,0 -12.8,0M511.3,845.6a6.4,6.4 0 1,0 12.8,0a6.4,6.4 0 1,0 -12.8,0M521.4,834.5a6.4,6.4 0 1,0 12.8,0a6.4,6.4 0 1,0 -12.8,0M543.6,829.4a6.4,6.4 0 1,0 12.8,0a6.4,6.4 0 1,0 -12.8,0M555.7,804.3a6.4,6.4 0 1,0 12.8,0a6.4,6.4 0 1,0 -12.8,0M461,920.1a6.4,6.4 0 1,0 12.8,0a6.4,6.4 0 1,0 -12.8,0M475.1,923.1a6.4,6.4 0 1,0 12.8,0a6.4,6.4 0 1,0 -12.8,0M450.9,959.4a6.4,6.4 0 1,0 12.8,0a6.4,6.4 0 1,0 -12.8,0M434.8,987.6a6.4,6.4 0 1,0 12.8,0a6.4,6.4 0 1,0 -12.8,0M426.7,1011.8a6.4,6.4 0 1,0 12.8,0a6.4,6.4 0 1,0 -12.8,0M438.8,1015.8a6.4,6.4 0 1,0 12.8,0a6.4,6.4 0 1,0 -12.8,0M432.8,1056.1a6.4,6.4 0 1,0 12.8,0a6.4,6.4 0 1,0 -12.8,0M448.9,1064.2a6.4,6.4 0 1,0 12.8,0a6.4,6.4 0 1,0 -12.8,0M418.7,1036a6.4,6.4 0 1,0 12.8,0a6.4,6.4 0 1,0 -12.8,0M410.6,1027.9a6.4,6.4 0 1,0 12.8,0a6.4,6.4 0 1,0 -12.8,0M404.6,1017.8a6.4,6.4 0 1,0 12.8,0a6.4,6.4 0 1,0 -12.8,0M281.7,982.6a6.4,6.4 0 1,0 12.8,0a6.4,6.4 0 1,0 -12.8,0M297.8,1005.7a6.4,6.4 0 1,0 12.8,0a6.4,6.4 0 1,0 -12.8,0M305.8,1015.8a6.4,6.4 0 1,0 12.8,0a6.4,6.4 0 1,0 -12.8,0M313.9,1029.9a6.4,6.4 0 1,0 12.8,0a6.4,6.4 0 1,0 -12.8,0M319.9,1038a6.4,6.4 0 1,0 12.8,0a6.4,6.4 0 1,0 -12.8,0"/>
<path fill="#000000" d="M470,974.8a6.4,6.4 0 1,0 12.8,0a6.4,6.4 0 1,0 -12.8,0M471.4,986.9a6.4,6.4 0 1,0 12.8,0a6.4,6.4 0 1,0 -12.8,0M506.3,992.2a6.4,6.4 0 1,0 12.8,0a6.4,6.4 0 1,0 -12.8,0M476.7,1004.3a6.4,6.4 0 1,0 12.8,0a6.4,6.4 0 1,0 -12.8,0M502.2,1024.5a6.4,6.4 0 1,0 12.8,0a6.4,6.4 0 1,0 -12.8,0M511.6,1029.8a6.4,6.4 0 1,0 12.8,0a6.4,6.4 0 1,0 -12.8,0M484.8,1044.6a6.4,6.4 0 1,0 12.8,0a6.4,6.4 0 1,0 -12.8,0M460.6,1051.3a6.4,6.4 0 1,0 12.8,0a6.4,6.4 0 1,0 -12.8,0M467.3,1064.8a6.4,6.4 0 1,0 12.8,0a6.4,6.4 0 1,0 -12.8,0M476.7,1068.8a6.4,6.4 0 1,0 12.8,0a6.4,6.4 0 1,0 -12.8,0M509,1078.2a6.4,6.4 0 1,0 12.8,0a6.4,6.4 0 1,0 -12.8,0M494.2,1083.6a6.4,6.4 0 1,0 12.8,0a6.4,6.4 0 1,0 -12.8,0M490.2,1097a6.4,6.4 0 1,0 12.8,0a6.4,6.4 0 1,0 -12.8,0M514.3,1101a6.4,6.4 0 1,0 12.8,0a6.4,6.4 0 1,0 -12.8,0M522.4,1097a6.4,6.4 0 1,0 12.8,0a6.4,6.4 0 1,0 -12.8,0M522.4,1013.7a6.4,6.4 0 1,0 12.8,0a6.4,6.4 0 1,0 -12.8,0M437.8,1138.6a6.4,6.4 0 1,0 12.8,0a6.4,6.4 0 1,0 -12.8,0M444.5,1027.2a6.4,6.4 0 1,0 12.8,0a6.4,6.4 0 1,0 -12.8,0M449.9,1035.2a6.4,6.4 0 1,0 12.8,0a6.4,6.4 0 1,0 -12.8,0M463.3,962.7a6.4,6.4 0 1,0 12.8,0a6.4,6.4 0 1,0 -12.8,0M484.8,973.4a6.4,6.4 0 1,0 12.8,0a6.4,6.4 0 1,0 -12.8,0M339.7,994.9a6.4,6.4 0 1,0 12.8,0a6.4,6.4 0 1,0 -12.8,0M357.2,1027.2a6.4,6.4 0 1,0 12.8,0a6.4,6.4 0 1,0 -12.8,0M474,1097a6.4,6.4 0 1,0 12.8,0a6.4,6.4 0 1,0 -12.8,0"/>
<path fill="#A020F0" d="M500.9,966a6.4,6.4 0 1,0 12.8,0a6.4,6.4 0 1,0 -12.8,0M486.1,992.2a6.4,6.4 0 1,0 12.8,0a6.4,6.4 0 1,0 -12.8,0M449.9,993.6a6.4,6.4 0 1,0 12.8,0a6.4,6.4 0 1,0 -12.8,0M452.5,988.2a6.4,6.4 0 1,0 12.8,0a6.4,6.4 0 1,0 -12.8,0M444.5,973.4a6.4,6.4 0 1,0 12.8,0a6.4,6.4 0 1,0 -12.8,0M468.7,1017.8a6.4,6.4 0 1,0 12.8,0a6.4,6.4 0 1,0 -12.8,0M460.6,1031.2a6.4,6.4 0 1,0 12.8,0a6.4,6.4 0 1,0 -12.8,0M476.7,1037.9a6.4,6.4 0 1,0 12.8,0a6.4,6.4 0 1,0 -12.8,0M503.6,1040.6a6.4,6.4 0 1,0 12.8,0a6.4,6.4 0 1,0 -12.8,0M467.3,1072.8a6.4,6.4 0 1,0 12.8,0a6.4,6.4 0 1,0 -12.8,0M496.9,1079.5a6.4,6.4 0 1,0 12.8,0a6.4,6.4 0 1,0 -12.8,0M510.3,1087.6a6.4,6.4 0 1,0 12.8,0a6.4,6.4 0 1,0 -12.8,0M498.2,1098.3a6.4,6.4 0 1,0 12.8,0a6.4,6.4 0 1,0 -12.8,0M433.7,1046a6.4,6.4 0 1,0 12.8,0a6.4,6.4 0 1,0 -12.8,0M349.1,982.8a6.4,6.4 0 1,0 12.8,0a6.4,6.4 0 1,0 -12.8,0"/>
<path fill="#FFFF00" d="M457.9,980.1a6.4,6.4 0 1,0 12.8,0a6.4,6.4 0 1,0 -12.8,0M456.6,1007a6.4,6.4 0 1,0 12.8,0a6.4,6.4 0 1,0 -12.8,0M466,1004.3a6.4,6.4 0 1,0 12.8,0a6.4,6.4 0 1,0 -12.8,0M451.2,1033.9a6.4,6.4 0 1,0 12.8,0a6.4,6.4 0 1,0 -12.8,0M460.6,1046a6.4,6.4 0 1,0 12.8,0a6.4,6.4 0 1,0 -12.8,0M457.9,1060.7a6.4,6.4 0 1,0 12.8,0a6.4,6.4 0 1,0 -12.8,0M440.5,1041.9a6.4,6.4 0 1,0 12.8,0a6.4,6.4 0 1,0 -12.8,0M476.7,1086.3a6.4,6.4 0 1,0 12.8,0a6.4,6.4 0 1,0 -12.8,0M468.7,1105.1a6.4,6.4 0 1,0 12.8,0a6.4,6.4 0 1,0 -12.8,0M515.7,1144a6.4,6.4 0 1,0 12.8,0a6.4,6.4 0 1,0 -12.8,0M492.8,1121.2a6.4,6.4 0 1,0 12.8,0a6.4,6.4 0 1,0 -12.8,0M406.9,1000.3a6.4,6.4 0 1,0 12.8,0a6.4,6.4 0 1,0 -12.8,0M406.9,1023.1a6.4,6.4 0 1,0 12.8,0a6.4,6.4 0 1,0 -12.8,0M350.5,1008.4a6.4,6.4 0 1,0 12.8,0a6.4,6.4 0 1,0 -12.8,0M354.5,978.8a6.4,6.4 0 1,0 12.8,0a6.4,6.4 0 1,0 -12.8,0"/>
<path fill="#0000FF" d="M402.8,988.2a6.4,6.4 0 1,0 12.8,0a6.4,6.4 0 1,0 -12.8,0M417.6,1023.1a6.4,6.4 0 1,0 12.8,0a6.4,6.4 0 1,0 -12.8,0M441.8,1058.1a6.4,6.4 0 1,0 12.8,0a6.4,6.4 0 1,0 -12.8,0M466,1082.2a6.4,6.4 0 1,0 12.8,0a6.4,6.4 0 1,0 -12.8,0M488.8,1114.5a6.4,6.4 0 1,0 12.8,0a6.4,6.4 0 1,0 -12.8,0M324.9,1040.6a6.4,6.4 0 1,0 12.8,0a6.4,6.4 0 1,0 -12.8,0M353.2,1011a6.4,6.4 0 1,0 12.8,0a6.4,6.4 0 1,0 -12.8,0M427,992.2a6.4,6.4 0 1,0 12.8,0a6.4,6.4 0 1,0 -12.8,0"/>
<path fill="#FF0000" d="M445.8,1011a6.4,6.4 0 1,0 12.8,0a6.4,6.4 0 1,0 -12.8,0"/>
<path fill="#00FF00" d="M482.1,969.4a6.4,6.4 0 1,0 12.8,0a6.4,6.4 0 1,0 -12.8,0M494.9,980.1a6.4,6.4 0 1,0 12.8,0a6.4,6.4 0 1,0 -12.8,0M480.8,1027.2a6.4,6.4 0 1,0 12.8,0a6.4,6.4 0 1,0 -12.8,0M483.4,1029.8a6.4,6.4 0 1,0 12.8,0a6.4,6.4 0 1,0 -12.8,0M478.1,1098.3a6.4,6.4 0 1,0 12.8,0a6.4,6.4 0 1,0 -12.8,0M503.6,1123.9a6.4,6.4 0 1,0 12.8,0a6.4,6.4 0 1,0 -12.8,0M509,1134.6a6.4,6.4 0 1,0 12.8,0a6.4,6.4 0 1,0 -12.8,0M492.8,1148a6.4,6.4 0 1,0 12.8,0a6.4,6.4 0 1,0 -12.8,0M506.3,1156.1a6.4,6.4 0 1,0 12.8,0a6.4,6.4 0 1,0 -12.8,0M440.5,1144a6.4,6.4 0 1,0 12.8,0a6.4,6.4 0 1,0 -12.8,0"/>
<path fill="#0000FF" d="M480.7,255a6.4,6.4 0 1,0 12.8,0a6.4,6.4 0 1,0 -12.8,0M494.3,264.4a6.4,6.4 0 1,0 12.8,0a6.4,6.4 0 1,0 -12.8,0M483.5,280.4a6.4,6.4 0 1,0 12.8,0a6.4,6.4 0 1,0 -12.8,0M448.7,331.2a6.4,6.4 0 1,0 12.8,0a6.4,6.4 0 1,0 -12.8,0M432.7,354.7a6.4,6.4 0 1,0 12.8,0a6.4,6.4 0 1,0 -12.8,0M493.9,313.3a6.4,6.4 0 1,0 12.8,0a6.4,6.4 0 1,0 -12.8,0M503.3,358.5a6.4,6.4 0 1,0 12.8,0a6.4,6.4 0 1,0 -12.8,0M521.1,362.2a6.4,6.4 0 1,0 12.8,0a6.4,6.4 0 1,0 -12.8,0M408.3,315.2a6.4,6.4 0 1,0 12.8,0a6.4,6.4 0 1,0 -12.8,0M480.7,303.9a6.4,6.4 0 1,0 12.8,0a6.4,6.4 0 1,0 -12.8,0M472.2,315.2a6.4,6.4 0 1,0 12.8,0a6.4,6.4 0 1,0 -12.8,0"/>
<path fill="#000000" d="M491,241.9a6.4,6.4 0 1,0 12.8,0a6.4,6.4 0 1,0 -12.8,0M431.8,279.5a6.4,6.4 0 1,0 12.8,0a6.4,6.4 0 1,0 -12.8,0M417.7,300.2a6.4,6.4 0 1,0 12.8,0a6.4,6.4 0 1,0 -12.8,0M411.1,307.7a6.4,6.4 0 1,0 12.8,0a6.4,6.4 0 1,0 -12.8,0M476,291.7a6.4,6.4 0 1,0 12.8,0a6.4,6.4 0 1,0 -12.8,0M507,293.6a6.4,6.4 0 1,0 12.8,0a6.4,6.4 0 1,0 -12.8,0M520.2,288.9a6.4,6.4 0 1,0 12.8,0a6.4,6.4 0 1,0 -12.8,0M519.2,313.3a6.4,6.4 0 1,0 12.8,0a6.4,6.4 0 1,0 -12.8,0M501.4,322.7a6.4,6.4 0 1,0 12.8,0a6.4,6.4 0 1,0 -12.8,0M508.9,368.8a6.4,6.4 0 1,0 12.8,0a6.4,6.4 0 1,0 -12.8,0M417.7,374.5a6.4,6.4 0 1,0 12.8,0a6.4,6.4 0 1,0 -12.8,0M458.1,287a6.4,6.4 0 1,0 12.8,0a6.4,6.4 0 1,0 -12.8,0M461.9,284.2a6.4,6.4 0 1,0 12.8,0a6.4,6.4 0 1,0 -12.8,0"/>
<path fill="#A020F0" d="M425.2,288.9a6.4,6.4 0 1,0 12.8,0a6.4,6.4 0 1,0 -12.8,0M496.7,280.4a6.4,6.4 0 1,0 12.8,0a6.4,6.4 0 1,0 -12.8,0M490.1,291.2a6.4,6.4 0 1,0 12.8,0a6.4,6.4 0 1,0 -12.8,0M494.8,332.6a6.4,6.4 0 1,0 12.8,0a6.4,6.4 0 1,0 -12.8,0M521.1,353.8a6.4,6.4 0 1,0 12.8,0a6.4,6.4 0 1,0 -12.8,0M452.5,295.5a6.4,6.4 0 1,0 12.8,0a6.4,6.4 0 1,0 -12.8,0"/>
<path fill="#FFFF00" d="M500.4,275.7a6.4,6.4 0 1,0 12.8,0a6.4,6.4 0 1,0 -12.8,0M513.6,333.1a6.4,6.4 0 1,0 12.8,0a6.4,6.4 0 1,0 -12.8,0M485.4,344.4a6.4,6.4 0 1,0 12.8,0a6.4,6.4 0 1,0 -12.8,0"/>
<path fill="#00FF00" d="M437.4,368.8a6.4,6.4 0 1,0 12.8,0a6.4,6.4 0 1,0 -12.8,0M448.1,567.2a6.4,6.4 0 1,0 12.8,0a6.4,6.4 0 1,0 -12.8,0M460.2,574.4a6.4,6.4 0 1,0 12.8,0a6.4,6.4 0 1,0 -12.8,0M474.6,564.8a6.4,6.4 0 1,0 12.8,0a6.4,6.4 0 1,0 -12.8,0M486.6,569.6a6.4,6.4 0 1,0 12.8,0a6.4,6.4 0 1,0 -12.8,0M496.2,567.2a6.4,6.4 0 1,0 12.8,0a6.4,6.4 0 1,0 -12.8,0M453,586.5a6.4,6.4 0 1,0 12.8,0a6.4,6.4 0 1,0 -12.8,0M462.6,584a6.4,6.4 0 1,0 12.8,0a6.4,6.4 0 1,0 -12.8,0M457.8,605.7a6.4,6.4 0 1,0 12.8,0a6.4,6.4 0 1,0 -12.8,0M469.8,603.3a6.4,6.4 0 1,0 12.8,0a6.4,6.4 0 1,0 -12.8,0M477,610.5a6.4,6.4 0 1,0 12.8,0a6.4,6.4 0 1,0 -12.8,0M450.6,617.7a6.4,6.4 0 1,0 12.8,0a6.4,6.4 0 1,0 -12.8,0M462.6,624.9a6.4,6.4 0 1,0 12.8,0a6.4,6.4 0 1,0 -12.8,0M474.6,629.7a6.4,6.4 0 1,0 12.8,0a6.4,6.4 0 1,0 -12.8,0M489,629.7a6.4,6.4 0 1,0 12.8,0a6.4,6.4 0 1,0 -12.8,0M445.7,639.4a6.4,6.4 0 1,0 12.8,0a6.4,6.4 0 1,0 -12.8,0M457.8,634.5a6.4,6.4 0 1,0 12.8,0a6.4,6.4 0 1,0 -12.8,0M469.8,641.8a6.4,6.4 0 1,0 12.8,0a6.4,6.4 0 1,0 -12.8,0M479.4,656.2a6.4,6.4 0 1,0 12.8,0a6.4,6.4 0 1,0 -12.8,0M498.7,646.6a6.4,6.4 0 1,0 12.8,0a6.4,6.4 0 1,0 -12.8,0M513.1,622.5a6.4,6.4 0 1,0 12.8,0a6.4,6.4 0 1,0 -12.8,0M525.1,612.9a6.4,6.4 0 1,0 12.8,0a6.4,6.4 0 1,0 -12.8,0M455.4,653.8a6.4,6.4 0 1,0 12.8,0a6.4,6.4 0 1,0 -12.8,0M465,661a6.4,6.4 0 1,0 12.8,0a6.4,6.4 0 1,0 -12.8,0M529.9,656.2a6.4,6.4 0 1,0 12.8,0a6.4,6.4 0 1,0 -12.8,0M508.3,588.9a6.4,6.4 0 1,0 12.8,0a6.4,6.4 0 1,0 -12.8,0M517.9,574.4a6.4,6.4 0 1,0 12.8,0a6.4,6.4 0 1,0 -12.8,0M486.6,596.1a6.4,6.4 0 1,0 12.8,0a6.4,6.4 0 1,0 -12.8,0M501.1,608.1a6.4,6.4 0 1,0 12.8,0a6.4,6.4 0 1,0 -12.8,0M409.7,757.2a6.4,6.4 0 1,0 12.8,0a6.4,6.4 0 1,0 -12.8,0M428.9,756a6.4,6.4 0 1,0 12.8,0a6.4,6.4 0 1,0 -12.8,0M448.1,758.4a6.4,6.4 0 1,0 12.8,0a6.4,6.4 0 1,0 -12.8,0M465,757.2a6.4,6.4 0 1,0 12.8,0a6.4,6.4 0 1,0 -12.8,0M479.4,756a6.4,6.4 0 1,0 12.8,0a6.4,6.4 0 1,0 -12.8,0M493.8,757.2a6.4,6.4 0 1,0 12.8,0a6.4,6.4 0 1,0 -12.8,0M508.3,756.7a6.4,6.4 0 1,0 12.8,0a6.4,6.4 0 1,0 -12.8,0M522.7,756a6.4,6.4 0 1,0 12.8,0a6.4,6.4 0 1,0 -12.8,0M537.1,757.2a6.4,6.4 0 1,0 12.8,0a6.4,6.4 0 1,0 -12.8,0M551.6,756.7a6.4,6.4 0 1,0 12.8,0a6.4,6.4 0 1,0 -12.8,0"/>
<path fill="#0000FF" d="M501.7,361.2a6.4,6.4 0 1,0 12.8,0a6.4,6.4 0 1,0 -12.8,0M517.8,369.2a6.4,6.4 0 1,0 12.8,0a6.4,6.4 0 1,0 -12.8,0M533.9,377.3a6.4,6.4 0 1,0 12.8,0a6.4,6.4 0 1,0 -12.8,0M546,389.4a6.4,6.4 0 1,0 12.8,0a6.4,6.4 0 1,0 -12.8,0M521.8,393.4a6.4,6.4 0 1,0 12.8,0a6.4,6.4 0 1,0 -12.8,0M537.9,401.5a6.4,6.4 0 1,0 12.8,0a6.4,6.4 0 1,0 -12.8,0M505.7,409.5a6.4,6.4 0 1,0 12.8,0a6.4,6.4 0 1,0 -12.8,0M525.8,417.6a6.4,6.4 0 1,0 12.8,0a6.4,6.4 0 1,0 -12.8,0M542,425.7a6.4,6.4 0 1,0 12.8,0a6.4,6.4 0 1,0 -12.8,0M517.8,433.7a6.4,6.4 0 1,0 12.8,0a6.4,6.4 0 1,0 -12.8,0M533.9,441.8a6.4,6.4 0 1,0 12.8,0a6.4,6.4 0 1,0 -12.8,0M509.7,449.8a6.4,6.4 0 1,0 12.8,0a6.4,6.4 0 1,0 -12.8,0M529.9,457.9a6.4,6.4 0 1,0 12.8,0a6.4,6.4 0 1,0 -12.8,0M517.8,466a6.4,6.4 0 1,0 12.8,0a6.4,6.4 0 1,0 -12.8,0M505.7,482.1a6.4,6.4 0 1,0 12.8,0a6.4,6.4 0 1,0 -12.8,0M521.8,490.1a6.4,6.4 0 1,0 12.8,0a6.4,6.4 0 1,0 -12.8,0M501.7,498.2a6.4,6.4 0 1,0 12.8,0a6.4,6.4 0 1,0 -12.8,0M513.7,514.3a6.4,6.4 0 1,0 12.8,0a6.4,6.4 0 1,0 -12.8,0M505.7,530.4a6.4,6.4 0 1,0 12.8,0a6.4,6.4 0 1,0 -12.8,0M517.8,546.5a6.4,6.4 0 1,0 12.8,0a6.4,6.4 0 1,0 -12.8,0M533.9,554.6a6.4,6.4 0 1,0 12.8,0a6.4,6.4 0 1,0 -12.8,0M505.7,562.7a6.4,6.4 0 1,0 12.8,0a6.4,6.4 0 1,0 -12.8,0M537.9,566.7a6.4,6.4 0 1,0 12.8,0a6.4,6.4 0 1,0 -12.8,0M521.8,574.7a6.4,6.4 0 1,0 12.8,0a6.4,6.4 0 1,0 -12.8,0M542,586.8a6.4,6.4 0 1,0 12.8,0a6.4,6.4 0 1,0 -12.8,0M529.9,598.9a6.4,6.4 0 1,0 12.8,0a6.4,6.4 0 1,0 -12.8,0M554,598.9a6.4,6.4 0 1,0 12.8,0a6.4,6.4 0 1,0 -12.8,0M574.2,603a6.4,6.4 0 1,0 12.8,0a6.4,6.4 0 1,0 -12.8,0M594.3,607a6.4,6.4 0 1,0 12.8,0a6.4,6.4 0 1,0 -12.8,0M614.5,615a6.4,6.4 0 1,0 12.8,0a6.4,6.4 0 1,0 -12.8,0M574.2,627.1a6.4,6.4 0 1,0 12.8,0a6.4,6.4 0 1,0 -12.8,0M598.4,631.2a6.4,6.4 0 1,0 12.8,0a6.4,6.4 0 1,0 -12.8,0M622.5,627.1a6.4,6.4 0 1,0 12.8,0a6.4,6.4 0 1,0 -12.8,0M554,619.1a6.4,6.4 0 1,0 12.8,0a6.4,6.4 0 1,0 -12.8,0M533.9,627.1a6.4,6.4 0 1,0 12.8,0a6.4,6.4 0 1,0 -12.8,0M517.8,635.2a6.4,6.4 0 1,0 12.8,0a6.4,6.4 0 1,0 -12.8,0M546,643.3a6.4,6.4 0 1,0 12.8,0a6.4,6.4 0 1,0 -12.8,0M566.1,643.3a6.4,6.4 0 1,0 12.8,0a6.4,6.4 0 1,0 -12.8,0M586.3,647.3a6.4,6.4 0 1,0 12.8,0a6.4,6.4 0 1,0 -12.8,0"/>
<path fill="#A020F0" d="M521.8,401.5a6.4,6.4 0 1,0 12.8,0a6.4,6.4 0 1,0 -12.8,0M533.9,409.5a6.4,6.4 0 1,0 12.8,0a6.4,6.4 0 1,0 -12.8,0M513.7,546.5a6.4,6.4 0 1,0 12.8,0a6.4,6.4 0 1,0 -12.8,0"/>
<path fill="#000000" d="M505.7,425.7a6.4,6.4 0 1,0 12.8,0a6.4,6.4 0 1,0 -12.8,0M513.7,449.8a6.4,6.4 0 1,0 12.8,0a6.4,6.4 0 1,0 -12.8,0M501.7,389.4a6.4,6.4 0 1,0 12.8,0a6.4,6.4 0 1,0 -12.8,0"/>
<path fill="#00FF00" d="M402.6,548.1a6.4,6.4 0 1,0 12.8,0a6.4,6.4 0 1,0 -12.8,0M411.9,557.4a6.4,6.4 0 1,0 12.8,0a6.4,6.4 0 1,0 -12.8,0M421.3,563a6.4,6.4 0 1,0 12.8,0a6.4,6.4 0 1,0 -12.8,0M430.6,551.8a6.4,6.4 0 1,0 12.8,0a6.4,6.4 0 1,0 -12.8,0M440,566.8a6.4,6.4 0 1,0 12.8,0a6.4,6.4 0 1,0 -12.8,0M449.3,564.9a6.4,6.4 0 1,0 12.8,0a6.4,6.4 0 1,0 -12.8,0M464.3,576.1a6.4,6.4 0 1,0 12.8,0a6.4,6.4 0 1,0 -12.8,0M473.7,563a6.4,6.4 0 1,0 12.8,0a6.4,6.4 0 1,0 -12.8,0M486.8,568.6a6.4,6.4 0 1,0 12.8,0a6.4,6.4 0 1,0 -12.8,0M494.2,564.9a6.4,6.4 0 1,0 12.8,0a6.4,6.4 0 1,0 -12.8,0M462.4,585.5a6.4,6.4 0 1,0 12.8,0a6.4,6.4 0 1,0 -12.8,0M477.4,611.6a6.4,6.4 0 1,0 12.8,0a6.4,6.4 0 1,0 -12.8,0M490.5,630.4a6.4,6.4 0 1,0 12.8,0a6.4,6.4 0 1,0 -12.8,0M496.1,649.1a6.4,6.4 0 1,0 12.8,0a6.4,6.4 0 1,0 -12.8,0M512.9,622.9a6.4,6.4 0 1,0 12.8,0a6.4,6.4 0 1,0 -12.8,0M449.3,617.3a6.4,6.4 0 1,0 12.8,0a6.4,6.4 0 1,0 -12.8,0M464.3,624.7a6.4,6.4 0 1,0 12.8,0a6.4,6.4 0 1,0 -12.8,0M475.5,636a6.4,6.4 0 1,0 12.8,0a6.4,6.4 0 1,0 -12.8,0M458.7,641.6a6.4,6.4 0 1,0 12.8,0a6.4,6.4 0 1,0 -12.8,0M440,650.9a6.4,6.4 0 1,0 12.8,0a6.4,6.4 0 1,0 -12.8,0M449.3,658.4a6.4,6.4 0 1,0 12.8,0a6.4,6.4 0 1,0 -12.8,0M468,658.4a6.4,6.4 0 1,0 12.8,0a6.4,6.4 0 1,0 -12.8,0M411.9,542.4a6.4,6.4 0 1,0 12.8,0a6.4,6.4 0 1,0 -12.8,0M389.5,540.6a6.4,6.4 0 1,0 12.8,0a6.4,6.4 0 1,0 -12.8,0M398.8,535a6.4,6.4 0 1,0 12.8,0a6.4,6.4 0 1,0 -12.8,0M440,544.3a6.4,6.4 0 1,0 12.8,0a6.4,6.4 0 1,0 -12.8,0M430.6,576.1a6.4,6.4 0 1,0 12.8,0a6.4,6.4 0 1,0 -12.8,0M441.9,594.8a6.4,6.4 0 1,0 12.8,0a6.4,6.4 0 1,0 -12.8,0M440,606a6.4,6.4 0 1,0 12.8,0a6.4,6.4 0 1,0 -12.8,0M423.2,585.5a6.4,6.4 0 1,0 12.8,0a6.4,6.4 0 1,0 -12.8,0M411.9,579.9a6.4,6.4 0 1,0 12.8,0a6.4,6.4 0 1,0 -12.8,0M415.7,673.4a6.4,6.4 0 1,0 12.8,0a6.4,6.4 0 1,0 -12.8,0M404.5,684.6a6.4,6.4 0 1,0 12.8,0a6.4,6.4 0 1,0 -12.8,0M393.2,688.3a6.4,6.4 0 1,0 12.8,0a6.4,6.4 0 1,0 -12.8,0M423.2,695.8a6.4,6.4 0 1,0 12.8,0a6.4,6.4 0 1,0 -12.8,0M438.1,697.7a6.4,6.4 0 1,0 12.8,0a6.4,6.4 0 1,0 -12.8,0M447.5,712.7a6.4,6.4 0 1,0 12.8,0a6.4,6.4 0 1,0 -12.8,0M458.7,714.5a6.4,6.4 0 1,0 12.8,0a6.4,6.4 0 1,0 -12.8,0M468,725.7a6.4,6.4 0 1,0 12.8,0a6.4,6.4 0 1,0 -12.8,0M486.8,712.7a6.4,6.4 0 1,0 12.8,0a6.4,6.4 0 1,0 -12.8,0M479.3,737a6.4,6.4 0 1,0 12.8,0a6.4,6.4 0 1,0 -12.8,0M496.1,737a6.4,6.4 0 1,0 12.8,0a6.4,6.4 0 1,0 -12.8,0M514.8,723.9a6.4,6.4 0 1,0 12.8,0a6.4,6.4 0 1,0 -12.8,0M464.3,744.4a6.4,6.4 0 1,0 12.8,0a6.4,6.4 0 1,0 -12.8,0M449.3,744.4a6.4,6.4 0 1,0 12.8,0a6.4,6.4 0 1,0 -12.8,0"/>
<path fill="#0000FF" d="M337.1,531.2a6.4,6.4 0 1,0 12.8,0a6.4,6.4 0 1,0 -12.8,0M318.4,525.6a6.4,6.4 0 1,0 12.8,0a6.4,6.4 0 1,0 -12.8,0M299.7,548.1a6.4,6.4 0 1,0 12.8,0a6.4,6.4 0 1,0 -12.8,0M288.5,570.5a6.4,6.4 0 1,0 12.8,0a6.4,6.4 0 1,0 -12.8,0M271.7,594.8a6.4,6.4 0 1,0 12.8,0a6.4,6.4 0 1,0 -12.8,0M430.6,613.5a6.4,6.4 0 1,0 12.8,0a6.4,6.4 0 1,0 -12.8,0M441.9,624.7a6.4,6.4 0 1,0 12.8,0a6.4,6.4 0 1,0 -12.8,0M458.7,602.3a6.4,6.4 0 1,0 12.8,0a6.4,6.4 0 1,0 -12.8,0"/><line x1="96.2" x2="731.9" y1="755.4" y2="755.4" stroke="#000" stroke-width="3"/></g>
<g clip-path="url(#cb)"><polyline fill="none" stroke="#000000" stroke-width="12.8" stroke-linecap="round" stroke-linejoin="round" points="960,1.5 1069,1.5"/>
<polyline fill="none" stroke="#000000" stroke-width="12.8" stroke-linecap="round" stroke-linejoin="round" points="960,1413.6 1060,1413.6"/>
<polygon fill="#000000" points="990.9,620 1010.3,579.4 1027.5,540.7 1040.3,510.6 1053.2,484.8 1070.4,463.3 1083.3,433.2 1091.9,420.3 1134.9,407.5 1188.6,407.5 1240,471.9 1240,620"/>
<polyline fill="none" stroke="#000000" stroke-width="12.8" stroke-linecap="round" stroke-linejoin="round" points="990.9,523.5 1001.7,502 1012.4,478.4 1023.2,456.9 1031.8,441.8 1040.3,424.6 1048.9,407.5"/>
<polyline fill="none" stroke="#000000" stroke-width="15" stroke-linecap="round" stroke-linejoin="round" points="982.3,620 993.1,590.1 1006,562.2 1018.9,534.3 1031.8,506.3 1040.3,489.1"/>
<polygon fill="#000000" points="1177,536.4 1198.5,547.1 1220,557.9 1237.2,575.1 1245.8,596.6 1247.9,620 1177,620"/>
<polygon fill="#000000" points="993.2,720.5 994.3,699.7 991.1,680.3 993.2,656.7 995.4,635.2 1001.8,613.7 1008.3,592.2 1014.7,560 1180,560 1180,880 1016.9,880 1008.3,856.6 999.7,835.1 993.2,807.1 991.1,774.9 994.3,742.7"/>
<polyline fill="none" stroke="#FFFFFF" stroke-width="2" stroke-linecap="round" stroke-linejoin="round" points="993.2,802.8 1004,843.7 1014.7,880"/>
<polygon fill="#000000" points="1177,560 1230.7,560 1237.2,581.5 1232.9,603 1235,630.9 1241.5,641.7 1263,656.7 1280.2,680.3 1293.1,697.5 1305.9,710.4 1323.1,716.9 1327.4,723.3 1314.5,731.9 1305.9,742.7 1297.3,753.4 1288.8,766.3 1297.3,785.7 1305.9,807.1 1297.3,828.6 1284.5,839.4 1252.2,817.9 1220,774.9 1177,753.4"/>
<polygon fill="#000000" points="1010.4,860 1053.4,860 1053.4,903 1074.9,950.3 1085.7,971.8 1096.4,993.2 1102.8,1010.4 1096.4,1023.3 1085.7,1010.4 1074.9,993.2 1066.3,976.1 1053.4,950.3 1036.2,915.9 1021.2,885.8"/>
<polyline fill="none" stroke="#FFFFFF" stroke-width="2" stroke-linecap="round" stroke-linejoin="round" points="1008.3,860 1027.6,903 1049.1,946 1074.9,997.5"/>
<polyline fill="none" stroke="#000000" stroke-width="17" stroke-linecap="round" stroke-linejoin="round" points="993.2,860 1010.4,892.2 1027.6,928.8 1042.7,963.2 1053.4,984.6 1064.2,1006.1 1074.9,1023.3"/>
<polyline fill="none" stroke="#000000" stroke-width="12.8" stroke-linecap="round" stroke-linejoin="round" points="965.3,860 977.1,881.5 993.2,915.9 1006.1,941.7 1014.7,961 1029.8,991.1"/>
<polygon fill="#000000" points="1040,490 1058,490 1012,600 999,645 990,645 984,620"/>
<polyline fill="none" stroke="#FFFFFF" stroke-width="2" stroke-linecap="round" stroke-linejoin="round" points="1049,497.7 1040.4,517 1027.5,545 1012.4,579.4 1003,605 996.5,639.5"/>
<polyline fill="none" stroke="#000000" stroke-width="12.8" stroke-linecap="round" stroke-linejoin="round" points="990.9,523.5 983,542 976.6,559"/>
<polyline fill="none" stroke="#0000FF" stroke-width="12.8" stroke-linecap="round" stroke-linejoin="round" points="1128.9,308.6 1111.8,336.6 1101,360"/>
<polyline fill="none" stroke="#0000FF" stroke-width="12.8" stroke-linecap="round" stroke-linejoin="round" points="1048.9,469.8 1057.5,450.4 1068.3,428.9 1079,407.5 1089.8,388.1 1100.5,364.5 1111.3,343 1122,323.6 1132.8,304.3"/>
<polyline fill="none" stroke="#0000FF" stroke-width="12.8" stroke-linecap="round" stroke-linejoin="round" points="1110.2,401 1122,381.7 1132.8,366.6 1147.8,355.9"/>
<polygon fill="#A020F0" points="1103.2,1008.6 1111.8,972.1 1167.6,950.6 1176.2,907.6 1189.1,868.9 1189.1,834.6 1247.1,834.6 1268.6,860.3 1279.4,890.4 1257.9,954.9 1214.9,1019.4 1128.9,1060 1096.7,1060"/>
<polyline fill="none" stroke="#A020F0" stroke-width="12.8" stroke-linecap="round" stroke-linejoin="round" points="1062,1413.6 1168,1413.6"/>
<polygon fill="#FF0000" points="1040.3,514.9 1053.2,489.1 1066.1,471.9 1079,450.4 1087.6,433.2 1091.9,420.3 1102.7,407.5 1117.7,401 1130.6,398.9 1145.7,392.4 1156.4,386 1167.1,394.6 1177.9,403.2 1188.6,418.2 1199.4,433.2 1216.6,437.5 1240,446.1 1240,525.7 1210.1,536.4 1195.1,557.9 1186.5,590.1 1186.5,620 1061.8,620 1048.9,600.9 1040.3,579.4 1037.1,547.1 1036.1,525.7"/>
<polygon fill="#FF0000" points="1177,424.6 1189.9,428.9 1209.2,433.2 1226.4,439.7 1235,454.7 1228.6,471.9 1232.9,482.7 1239.3,493.4 1237.2,508.5 1235,523.5 1224.3,532.1 1211.4,545 1202.8,557.9 1189.9,579.4 1185.6,600.9 1177,620"/>
<polygon fill="#FF0000" points="1031.9,560 1038.4,581.5 1047,603 1062,620.2 1074.9,633.1 1096.4,646 1117.9,658.9 1139.4,671.8 1160.9,680.3 1180,680.3 1180,560"/>
<polygon fill="#FF0000" points="1023.3,860.9 1031.9,839.4 1042.7,817.9 1053.4,800.7 1070.6,783.5 1085.7,768.5 1107.1,755.6 1128.6,744.8 1150.1,738.4 1171.6,736.2 1180,738.4 1180,880 1027.6,880"/>
<polygon fill="#FF0000" points="1177,560 1202.8,560 1198.5,581.5 1194.2,603 1202.8,624.5 1189.9,646 1187.7,667.5 1177,680.3"/>
<polygon fill="#FF0000" points="1177,742.7 1198.5,738.4 1209.2,747 1226.4,753.4 1230.7,774.9 1220,785.7 1209.2,796.4 1198.5,817.9 1194.2,839.4 1177,880"/>
<polygon fill="#A020F0" points="1209.2,774.9 1230.7,764.2 1241.5,785.7 1252.2,807.1 1241.5,839.4 1263,850.1 1284.5,871.6 1284.5,880 1198.5,880 1198.5,839.4"/>
<polyline fill="none" stroke="#A020F0" stroke-width="12.8" stroke-linecap="round" stroke-linejoin="round" points="1079.2,1034.1 1096.4,1066.3 1117.9,1111.4 1145.8,1160.9"/>
<polygon fill="#FF0000" points="1027.9,832.4 1053.7,793.7 1086,765.8 1118.2,748.6 1150.4,740 1204.2,740 1214.9,752.9 1214.9,783 1204.2,804.5 1193.4,826 1197.7,847.5 1193.4,868.9 1182.7,890.4 1176.2,911.9 1178.4,933.4 1167.6,954.9 1139.7,965.7 1118.2,972.1 1111.8,997.9 1103.2,1008.6 1090.3,987.1 1075.2,944.2 1064.5,922.7 1043,901.2 1027.9,879.7 1021.5,860.3"/>
<polygon fill="#A020F0" points="1176.2,907.6 1193.4,894.7 1214.9,890.4 1236.4,879.7 1247.1,860.3 1268.6,860.3 1279.4,868.9 1290.1,890.4 1279.4,911.9 1268.6,933.4 1279.4,954.9 1268.6,976.4 1257.9,987.1 1236.4,1008.6 1214.9,1019.4 1193.4,1030.1 1171.9,1040.9 1150.4,1051.6 1128.9,1060 1107.5,1060 1096.7,1040.9 1096.7,1019.4 1107.5,997.9 1128.9,987.1 1150.4,976.4 1171.9,954.9 1176.2,933.4"/>
<polygon fill="#A020F0" points="1193.4,815.2 1214.9,804.5 1236.4,815.2 1236.4,836.7 1214.9,838.9 1193.4,836.7"/>
<polygon fill="#A020F0" points="1110,1000 1241,1000 1240,1030 1200,1045 1180,1052 1165,1062 1150,1058 1130,1045 1115,1030"/>
<polyline fill="none" stroke="#A020F0" stroke-width="12" stroke-linecap="round" stroke-linejoin="round" points="1128,1048 1140,1070 1152,1095 1168,1150"/>
<polygon fill="#00FF00" points="1043,836.7 1064.5,804.5 1086,783 1107.5,765.8 1124.6,765.8 1128.9,793.7 1120.3,826 1111.8,858.2 1098.9,879.7 1081.7,899 1064.5,907.6 1047.3,890.4 1038.7,868.9"/>
<polyline fill="none" stroke="#FFFFFF" stroke-width="3" stroke-linecap="round" stroke-linejoin="round" points="1092.1,1014.7 1117.9,1074.9 1145.8,1139.4"/>
<path fill="#000000" d="M882,1.5a6.4,6.4 0 1,0 12.8,0a6.4,6.4 0 1,0 -12.8,0M911.5,1.5a6.4,6.4 0 1,0 12.8,0a6.4,6.4 0 1,0 -12.8,0M928.6,1.5a6.4,6.4 0 1,0 12.8,0a6.4,6.4 0 1,0 -12.8,0M941,1.5a6.4,6.4 0 1,0 12.8,0a6.4,6.4 0 1,0 -12.8,0M951.3,1.5a6.4,6.4 0 1,0 12.8,0a6.4,6.4 0 1,0 -12.8,0"/>
<path fill="#0000FF" d="M1067.1,1.5a6.4,6.4 0 1,0 12.8,0a6.4,6.4 0 1,0 -12.8,0"/>
<path fill="#00FF00" d="M1073.9,1.5a6.4,6.4 0 1,0 12.8,0a6.4,6.4 0 1,0 -12.8,0"/>
<path fill="#FF0000" d="M1085.3,1.5a6.4,6.4 0 1,0 12.8,0a6.4,6.4 0 1,0 -12.8,0"/>
<path fill="#A020F0" d="M1094.3,1.5a6.4,6.4 0 1,0 12.8,0a6.4,6.4 0 1,0 -12.8,0"/>
<path fill="#0000FF" d="M1103.4,1.5a6.4,6.4 0 1,0 12.8,0a6.4,6.4 0 1,0 -12.8,0"/>
<path fill="#FF0000" d="M1112.6,1.5a6.4,6.4 0 1,0 12.8,0a6.4,6.4 0 1,0 -12.8,0"/>
<path fill="#00FF00" d="M1120.5,1.5a6.4,6.4 0 1,0 12.8,0a6.4,6.4 0 1,0 -12.8,0"/>
<path fill="#0000FF" d="M1134.1,1.5a6.4,6.4 0 1,0 12.8,0a6.4,6.4 0 1,0 -12.8,0"/>
<path fill="#A020F0" d="M1147.7,1.5a6.4,6.4 0 1,0 12.8,0a6.4,6.4 0 1,0 -12.8,0"/>
<path fill="#000000" d="M1152.3,1.5a6.4,6.4 0 1,0 12.8,0a6.4,6.4 0 1,0 -12.8,0M1171.6,1.5a6.4,6.4 0 1,0 12.8,0a6.4,6.4 0 1,0 -12.8,0M882,1413.6a6.4,6.4 0 1,0 12.8,0a6.4,6.4 0 1,0 -12.8,0M911.5,1413.6a6.4,6.4 0 1,0 12.8,0a6.4,6.4 0 1,0 -12.8,0M928.6,1413.6a6.4,6.4 0 1,0 12.8,0a6.4,6.4 0 1,0 -12.8,0M941,1413.6a6.4,6.4 0 1,0 12.8,0a6.4,6.4 0 1,0 -12.8,0M951.3,1413.6a6.4,6.4 0 1,0 12.8,0a6.4,6.4 0 1,0 -12.8,0"/>
<path fill="#FF0000" d="M1079.6,1413.6a6.4,6.4 0 1,0 12.8,0a6.4,6.4 0 1,0 -12.8,0M1095.5,1413.6a6.4,6.4 0 1,0 12.8,0a6.4,6.4 0 1,0 -12.8,0"/>
<path fill="#A020F0" d="M1161.3,1413.6a6.4,6.4 0 1,0 12.8,0a6.4,6.4 0 1,0 -12.8,0M1151.1,1413.6a6.4,6.4 0 1,0 12.8,0a6.4,6.4 0 1,0 -12.8,0"/>
<path fill="#000000" d="M1248.3,65.4a6.4,6.4 0 1,0 12.8,0a6.4,6.4 0 1,0 -12.8,0M1239.7,173.2a6.4,6.4 0 1,0 12.8,0a6.4,6.4 0 1,0 -12.8,0M1173,211.9a6.4,6.4 0 1,0 12.8,0a6.4,6.4 0 1,0 -12.8,0M1194.5,228a6.4,6.4 0 1,0 12.8,0a6.4,6.4 0 1,0 -12.8,0M1212.8,225.9a6.4,6.4 0 1,0 12.8,0a6.4,6.4 0 1,0 -12.8,0M1112.9,271.5a6.4,6.4 0 1,0 12.8,0a6.4,6.4 0 1,0 -12.8,0M1123.6,307.6a6.4,6.4 0 1,0 12.8,0a6.4,6.4 0 1,0 -12.8,0M1072,351.6a6.4,6.4 0 1,0 12.8,0a6.4,6.4 0 1,0 -12.8,0M1136.5,340.9a6.4,6.4 0 1,0 12.8,0a6.4,6.4 0 1,0 -12.8,0M1130.1,352.7a6.4,6.4 0 1,0 12.8,0a6.4,6.4 0 1,0 -12.8,0M1187,355.9a6.4,6.4 0 1,0 12.8,0a6.4,6.4 0 1,0 -12.8,0"/>
<path fill="#A020F0" d="M1208.5,141a6.4,6.4 0 1,0 12.8,0a6.4,6.4 0 1,0 -12.8,0M1192.4,206.1a6.4,6.4 0 1,0 12.8,0a6.4,6.4 0 1,0 -12.8,0M1242.9,208.3a6.4,6.4 0 1,0 12.8,0a6.4,6.4 0 1,0 -12.8,0M1207.4,236a6.4,6.4 0 1,0 12.8,0a6.4,6.4 0 1,0 -12.8,0M1185.5,244.2a6.4,6.4 0 1,0 12.8,0a6.4,6.4 0 1,0 -12.8,0M1304.1,243.1a6.4,6.4 0 1,0 12.8,0a6.4,6.4 0 1,0 -12.8,0M1153.7,249.5a6.4,6.4 0 1,0 12.8,0a6.4,6.4 0 1,0 -12.8,0M1146.2,264.6a6.4,6.4 0 1,0 12.8,0a6.4,6.4 0 1,0 -12.8,0M1141.9,273.2a6.4,6.4 0 1,0 12.8,0a6.4,6.4 0 1,0 -12.8,0M1135.4,285a6.4,6.4 0 1,0 12.8,0a6.4,6.4 0 1,0 -12.8,0M1106.4,283.3a6.4,6.4 0 1,0 12.8,0a6.4,6.4 0 1,0 -12.8,0M1153.7,283.9a6.4,6.4 0 1,0 12.8,0a6.4,6.4 0 1,0 -12.8,0M1194.5,285a6.4,6.4 0 1,0 12.8,0a6.4,6.4 0 1,0 -12.8,0M1212.8,283.9a6.4,6.4 0 1,0 12.8,0a6.4,6.4 0 1,0 -12.8,0M1242.9,301.1a6.4,6.4 0 1,0 12.8,0a6.4,6.4 0 1,0 -12.8,0M1239.7,317.2a6.4,6.4 0 1,0 12.8,0a6.4,6.4 0 1,0 -12.8,0M1087.1,320.5a6.4,6.4 0 1,0 12.8,0a6.4,6.4 0 1,0 -12.8,0M1079.6,336.6a6.4,6.4 0 1,0 12.8,0a6.4,6.4 0 1,0 -12.8,0M1163.4,321.5a6.4,6.4 0 1,0 12.8,0a6.4,6.4 0 1,0 -12.8,0M1182.7,310.8a6.4,6.4 0 1,0 12.8,0a6.4,6.4 0 1,0 -12.8,0M1188.1,317.2a6.4,6.4 0 1,0 12.8,0a6.4,6.4 0 1,0 -12.8,0M1188.1,331.2a6.4,6.4 0 1,0 12.8,0a6.4,6.4 0 1,0 -12.8,0M1139.7,334.4a6.4,6.4 0 1,0 12.8,0a6.4,6.4 0 1,0 -12.8,0M1150.5,346.2a6.4,6.4 0 1,0 12.8,0a6.4,6.4 0 1,0 -12.8,0M1165.5,352.7a6.4,6.4 0 1,0 12.8,0a6.4,6.4 0 1,0 -12.8,0M1129,354.8a6.4,6.4 0 1,0 12.8,0a6.4,6.4 0 1,0 -12.8,0M1174.1,321.5a6.4,6.4 0 1,0 12.8,0a6.4,6.4 0 1,0 -12.8,0"/>
<path fill="#FFFF00" d="M1144,209.8a6.4,6.4 0 1,0 12.8,0a6.4,6.4 0 1,0 -12.8,0M1174.1,208.7a6.4,6.4 0 1,0 12.8,0a6.4,6.4 0 1,0 -12.8,0M1202.1,212.6a6.4,6.4 0 1,0 12.8,0a6.4,6.4 0 1,0 -12.8,0M1271.9,210.4a6.4,6.4 0 1,0 12.8,0a6.4,6.4 0 1,0 -12.8,0M1284.8,203.3a6.4,6.4 0 1,0 12.8,0a6.4,6.4 0 1,0 -12.8,0M1221.4,251.3a6.4,6.4 0 1,0 12.8,0a6.4,6.4 0 1,0 -12.8,0M1150.5,256a6.4,6.4 0 1,0 12.8,0a6.4,6.4 0 1,0 -12.8,0M1224.6,285a6.4,6.4 0 1,0 12.8,0a6.4,6.4 0 1,0 -12.8,0M1174.1,299a6.4,6.4 0 1,0 12.8,0a6.4,6.4 0 1,0 -12.8,0M1145.1,323.7a6.4,6.4 0 1,0 12.8,0a6.4,6.4 0 1,0 -12.8,0M1194.5,322.6a6.4,6.4 0 1,0 12.8,0a6.4,6.4 0 1,0 -12.8,0M1164.5,343a6.4,6.4 0 1,0 12.8,0a6.4,6.4 0 1,0 -12.8,0M1113.9,358.1a6.4,6.4 0 1,0 12.8,0a6.4,6.4 0 1,0 -12.8,0M1150.5,338.7a6.4,6.4 0 1,0 12.8,0a6.4,6.4 0 1,0 -12.8,0"/>
<path fill="#FF0000" d="M1173.7,268.2a6.4,6.4 0 1,0 12.8,0a6.4,6.4 0 1,0 -12.8,0M1182.3,285.4a6.4,6.4 0 1,0 12.8,0a6.4,6.4 0 1,0 -12.8,0M1221,279.6a6.4,6.4 0 1,0 12.8,0a6.4,6.4 0 1,0 -12.8,0M1101.1,293.6a6.4,6.4 0 1,0 12.8,0a6.4,6.4 0 1,0 -12.8,0M1178.9,325.8a6.4,6.4 0 1,0 12.8,0a6.4,6.4 0 1,0 -12.8,0M1218.2,338.3a6.4,6.4 0 1,0 12.8,0a6.4,6.4 0 1,0 -12.8,0M1168.8,358.1a6.4,6.4 0 1,0 12.8,0a6.4,6.4 0 1,0 -12.8,0"/>
<path fill="#0000FF" d="M1167.2,280.7a6.4,6.4 0 1,0 12.8,0a6.4,6.4 0 1,0 -12.8,0M1128.6,297.9a6.4,6.4 0 1,0 12.8,0a6.4,6.4 0 1,0 -12.8,0M1158.7,295.7a6.4,6.4 0 1,0 12.8,0a6.4,6.4 0 1,0 -12.8,0M1155.9,302.2a6.4,6.4 0 1,0 12.8,0a6.4,6.4 0 1,0 -12.8,0M1185.3,302.2a6.4,6.4 0 1,0 12.8,0a6.4,6.4 0 1,0 -12.8,0M1205.3,297.9a6.4,6.4 0 1,0 12.8,0a6.4,6.4 0 1,0 -12.8,0M1144,358.1a6.4,6.4 0 1,0 12.8,0a6.4,6.4 0 1,0 -12.8,0"/>
<path fill="#00FF00" d="M1159.1,330.1a6.4,6.4 0 1,0 12.8,0a6.4,6.4 0 1,0 -12.8,0M1103.2,347.3a6.4,6.4 0 1,0 12.8,0a6.4,6.4 0 1,0 -12.8,0"/>
<path fill="#000000" d="M950.1,605.2a6.4,6.4 0 1,0 12.8,0a6.4,6.4 0 1,0 -12.8,0M957.7,585.8a6.4,6.4 0 1,0 12.8,0a6.4,6.4 0 1,0 -12.8,0M965.2,570.8a6.4,6.4 0 1,0 12.8,0a6.4,6.4 0 1,0 -12.8,0M970.6,557.9a6.4,6.4 0 1,0 12.8,0a6.4,6.4 0 1,0 -12.8,0M975.9,547.1a6.4,6.4 0 1,0 12.8,0a6.4,6.4 0 1,0 -12.8,0M980.2,536.4a6.4,6.4 0 1,0 12.8,0a6.4,6.4 0 1,0 -12.8,0"/>
<path fill="#FF0000" d="M1037.2,480.5a6.4,6.4 0 1,0 12.8,0a6.4,6.4 0 1,0 -12.8,0M1094.1,362.3a6.4,6.4 0 1,0 12.8,0a6.4,6.4 0 1,0 -12.8,0"/>
<path fill="#A020F0" d="M1044.7,465.5a6.4,6.4 0 1,0 12.8,0a6.4,6.4 0 1,0 -12.8,0"/>
<path fill="#FFFF00" d="M1049,454.7a6.4,6.4 0 1,0 12.8,0a6.4,6.4 0 1,0 -12.8,0"/>
<path fill="#00FF00" d="M1076.9,401a6.4,6.4 0 1,0 12.8,0a6.4,6.4 0 1,0 -12.8,0M1089.8,375.2a6.4,6.4 0 1,0 12.8,0a6.4,6.4 0 1,0 -12.8,0M1103.8,347.3a6.4,6.4 0 1,0 12.8,0a6.4,6.4 0 1,0 -12.8,0"/>
<path fill="#0000FF" d="M1055.4,502a6.4,6.4 0 1,0 12.8,0a6.4,6.4 0 1,0 -12.8,0M1068.3,476.2a6.4,6.4 0 1,0 12.8,0a6.4,6.4 0 1,0 -12.8,0M1079.1,487a6.4,6.4 0 1,0 12.8,0a6.4,6.4 0 1,0 -12.8,0M1076.9,497.7a6.4,6.4 0 1,0 12.8,0a6.4,6.4 0 1,0 -12.8,0M1061.9,514.9a6.4,6.4 0 1,0 12.8,0a6.4,6.4 0 1,0 -12.8,0M1046.8,542.8a6.4,6.4 0 1,0 12.8,0a6.4,6.4 0 1,0 -12.8,0M1051.1,536.4a6.4,6.4 0 1,0 12.8,0a6.4,6.4 0 1,0 -12.8,0M1061.9,553.6a6.4,6.4 0 1,0 12.8,0a6.4,6.4 0 1,0 -12.8,0M1076.9,564.3a6.4,6.4 0 1,0 12.8,0a6.4,6.4 0 1,0 -12.8,0M1079.1,583.7a6.4,6.4 0 1,0 12.8,0a6.4,6.4 0 1,0 -12.8,0M1085.5,598.7a6.4,6.4 0 1,0 12.8,0a6.4,6.4 0 1,0 -12.8,0M1089.8,514.9a6.4,6.4 0 1,0 12.8,0a6.4,6.4 0 1,0 -12.8,0M1100.6,506.3a6.4,6.4 0 1,0 12.8,0a6.4,6.4 0 1,0 -12.8,0M1107,551.4a6.4,6.4 0 1,0 12.8,0a6.4,6.4 0 1,0 -12.8,0M1113.5,480.5a6.4,6.4 0 1,0 12.8,0a6.4,6.4 0 1,0 -12.8,0M1128.5,476.2a6.4,6.4 0 1,0 12.8,0a6.4,6.4 0 1,0 -12.8,0M1139.3,441.8a6.4,6.4 0 1,0 12.8,0a6.4,6.4 0 1,0 -12.8,0M1156.4,476.2a6.4,6.4 0 1,0 12.8,0a6.4,6.4 0 1,0 -12.8,0M1167.2,476.2a6.4,6.4 0 1,0 12.8,0a6.4,6.4 0 1,0 -12.8,0M1143.6,514.9a6.4,6.4 0 1,0 12.8,0a6.4,6.4 0 1,0 -12.8,0M1126.4,489.1a6.4,6.4 0 1,0 12.8,0a6.4,6.4 0 1,0 -12.8,0M1092,428.9a6.4,6.4 0 1,0 12.8,0a6.4,6.4 0 1,0 -12.8,0M1102.7,437.5a6.4,6.4 0 1,0 12.8,0a6.4,6.4 0 1,0 -12.8,0M1111.3,422.5a6.4,6.4 0 1,0 12.8,0a6.4,6.4 0 1,0 -12.8,0M1126.4,416.1a6.4,6.4 0 1,0 12.8,0a6.4,6.4 0 1,0 -12.8,0M1124.2,398.9a6.4,6.4 0 1,0 12.8,0a6.4,6.4 0 1,0 -12.8,0M1119.9,368.8a6.4,6.4 0 1,0 12.8,0a6.4,6.4 0 1,0 -12.8,0M1107,390.3a6.4,6.4 0 1,0 12.8,0a6.4,6.4 0 1,0 -12.8,0M1085.5,441.8a6.4,6.4 0 1,0 12.8,0a6.4,6.4 0 1,0 -12.8,0M1074.8,504.2a6.4,6.4 0 1,0 12.8,0a6.4,6.4 0 1,0 -12.8,0M1066.2,538.5a6.4,6.4 0 1,0 12.8,0a6.4,6.4 0 1,0 -12.8,0M1081.2,536.4a6.4,6.4 0 1,0 12.8,0a6.4,6.4 0 1,0 -12.8,0M1098.4,542.8a6.4,6.4 0 1,0 12.8,0a6.4,6.4 0 1,0 -12.8,0M1111.3,572.9a6.4,6.4 0 1,0 12.8,0a6.4,6.4 0 1,0 -12.8,0M1042.5,536.4a6.4,6.4 0 1,0 12.8,0a6.4,6.4 0 1,0 -12.8,0"/>
<path fill="#FFC0CB" d="M1085.5,477.3a6.4,6.4 0 1,0 12.8,0a6.4,6.4 0 1,0 -12.8,0M1131.7,456.9a6.4,6.4 0 1,0 12.8,0a6.4,6.4 0 1,0 -12.8,0M1142.5,459a6.4,6.4 0 1,0 12.8,0a6.4,6.4 0 1,0 -12.8,0M1145.7,474.1a6.4,6.4 0 1,0 12.8,0a6.4,6.4 0 1,0 -12.8,0M1140.3,492.3a6.4,6.4 0 1,0 12.8,0a6.4,6.4 0 1,0 -12.8,0M1161.8,519.2a6.4,6.4 0 1,0 12.8,0a6.4,6.4 0 1,0 -12.8,0M1145.7,527.8a6.4,6.4 0 1,0 12.8,0a6.4,6.4 0 1,0 -12.8,0M1135,534.3a6.4,6.4 0 1,0 12.8,0a6.4,6.4 0 1,0 -12.8,0M1165,551.4a6.4,6.4 0 1,0 12.8,0a6.4,6.4 0 1,0 -12.8,0M1158.6,560a6.4,6.4 0 1,0 12.8,0a6.4,6.4 0 1,0 -12.8,0M1119.9,556.8a6.4,6.4 0 1,0 12.8,0a6.4,6.4 0 1,0 -12.8,0M1115.6,566.5a6.4,6.4 0 1,0 12.8,0a6.4,6.4 0 1,0 -12.8,0M1100.6,592.3a6.4,6.4 0 1,0 12.8,0a6.4,6.4 0 1,0 -12.8,0M1132.8,598.7a6.4,6.4 0 1,0 12.8,0a6.4,6.4 0 1,0 -12.8,0M1169.3,607.3a6.4,6.4 0 1,0 12.8,0a6.4,6.4 0 1,0 -12.8,0M1089.8,607.3a6.4,6.4 0 1,0 12.8,0a6.4,6.4 0 1,0 -12.8,0M1102.7,611.6a6.4,6.4 0 1,0 12.8,0a6.4,6.4 0 1,0 -12.8,0M1111.3,611.6a6.4,6.4 0 1,0 12.8,0a6.4,6.4 0 1,0 -12.8,0M1132.8,615.9a6.4,6.4 0 1,0 12.8,0a6.4,6.4 0 1,0 -12.8,0M1053.3,525.7a6.4,6.4 0 1,0 12.8,0a6.4,6.4 0 1,0 -12.8,0M1064,532.1a6.4,6.4 0 1,0 12.8,0a6.4,6.4 0 1,0 -12.8,0M1072.6,538.5a6.4,6.4 0 1,0 12.8,0a6.4,6.4 0 1,0 -12.8,0M1081.2,525.7a6.4,6.4 0 1,0 12.8,0a6.4,6.4 0 1,0 -12.8,0M1092,542.8a6.4,6.4 0 1,0 12.8,0a6.4,6.4 0 1,0 -12.8,0M1100.6,534.3a6.4,6.4 0 1,0 12.8,0a6.4,6.4 0 1,0 -12.8,0M1107,504.2a6.4,6.4 0 1,0 12.8,0a6.4,6.4 0 1,0 -12.8,0M1122.1,514.9a6.4,6.4 0 1,0 12.8,0a6.4,6.4 0 1,0 -12.8,0M1115.6,527.8a6.4,6.4 0 1,0 12.8,0a6.4,6.4 0 1,0 -12.8,0M1089.8,549.3a6.4,6.4 0 1,0 12.8,0a6.4,6.4 0 1,0 -12.8,0M1064,562.2a6.4,6.4 0 1,0 12.8,0a6.4,6.4 0 1,0 -12.8,0M1055.4,560a6.4,6.4 0 1,0 12.8,0a6.4,6.4 0 1,0 -12.8,0M1042.5,566.5a6.4,6.4 0 1,0 12.8,0a6.4,6.4 0 1,0 -12.8,0M1061.9,575.1a6.4,6.4 0 1,0 12.8,0a6.4,6.4 0 1,0 -12.8,0M1070.5,618.1a6.4,6.4 0 1,0 12.8,0a6.4,6.4 0 1,0 -12.8,0M1220.9,609.5a6.4,6.4 0 1,0 12.8,0a6.4,6.4 0 1,0 -12.8,0M1231.7,540.7a6.4,6.4 0 1,0 12.8,0a6.4,6.4 0 1,0 -12.8,0"/>
<path fill="#00FF00" d="M1071.6,469.8a6.4,6.4 0 1,0 12.8,0a6.4,6.4 0 1,0 -12.8,0M1135,376.3a6.4,6.4 0 1,0 12.8,0a6.4,6.4 0 1,0 -12.8,0M1158.6,330.1a6.4,6.4 0 1,0 12.8,0a6.4,6.4 0 1,0 -12.8,0M1175.8,448.3a6.4,6.4 0 1,0 12.8,0a6.4,6.4 0 1,0 -12.8,0M1182.2,496.6a6.4,6.4 0 1,0 12.8,0a6.4,6.4 0 1,0 -12.8,0M1097.3,496.6a6.4,6.4 0 1,0 12.8,0a6.4,6.4 0 1,0 -12.8,0M1114.5,502a6.4,6.4 0 1,0 12.8,0a6.4,6.4 0 1,0 -12.8,0M1125.3,499.9a6.4,6.4 0 1,0 12.8,0a6.4,6.4 0 1,0 -12.8,0M1133.9,511.7a6.4,6.4 0 1,0 12.8,0a6.4,6.4 0 1,0 -12.8,0M1113.5,516a6.4,6.4 0 1,0 12.8,0a6.4,6.4 0 1,0 -12.8,0M1094.1,521.4a6.4,6.4 0 1,0 12.8,0a6.4,6.4 0 1,0 -12.8,0M1067.3,514.9a6.4,6.4 0 1,0 12.8,0a6.4,6.4 0 1,0 -12.8,0M1073.7,526.7a6.4,6.4 0 1,0 12.8,0a6.4,6.4 0 1,0 -12.8,0M1108.1,537.5a6.4,6.4 0 1,0 12.8,0a6.4,6.4 0 1,0 -12.8,0M1117.8,534.3a6.4,6.4 0 1,0 12.8,0a6.4,6.4 0 1,0 -12.8,0M1051.1,550.4a6.4,6.4 0 1,0 12.8,0a6.4,6.4 0 1,0 -12.8,0M1068.3,559a6.4,6.4 0 1,0 12.8,0a6.4,6.4 0 1,0 -12.8,0M1100.6,567.6a6.4,6.4 0 1,0 12.8,0a6.4,6.4 0 1,0 -12.8,0M1038.2,576.2a6.4,6.4 0 1,0 12.8,0a6.4,6.4 0 1,0 -12.8,0M1044.7,583.7a6.4,6.4 0 1,0 12.8,0a6.4,6.4 0 1,0 -12.8,0M1046.8,596.6a6.4,6.4 0 1,0 12.8,0a6.4,6.4 0 1,0 -12.8,0M1053.3,600.9a6.4,6.4 0 1,0 12.8,0a6.4,6.4 0 1,0 -12.8,0M1061.9,592.3a6.4,6.4 0 1,0 12.8,0a6.4,6.4 0 1,0 -12.8,0M1064,605.2a6.4,6.4 0 1,0 12.8,0a6.4,6.4 0 1,0 -12.8,0M1072.6,607.3a6.4,6.4 0 1,0 12.8,0a6.4,6.4 0 1,0 -12.8,0M1076.9,611.6a6.4,6.4 0 1,0 12.8,0a6.4,6.4 0 1,0 -12.8,0"/>
<path fill="#A020F0" d="M1087.7,321.5a6.4,6.4 0 1,0 12.8,0a6.4,6.4 0 1,0 -12.8,0M1080.2,335.5a6.4,6.4 0 1,0 12.8,0a6.4,6.4 0 1,0 -12.8,0M1102.7,381.7a6.4,6.4 0 1,0 12.8,0a6.4,6.4 0 1,0 -12.8,0M1139.3,334.4a6.4,6.4 0 1,0 12.8,0a6.4,6.4 0 1,0 -12.8,0M1151.1,346.2a6.4,6.4 0 1,0 12.8,0a6.4,6.4 0 1,0 -12.8,0M1164,351.6a6.4,6.4 0 1,0 12.8,0a6.4,6.4 0 1,0 -12.8,0M1158.6,364.5a6.4,6.4 0 1,0 12.8,0a6.4,6.4 0 1,0 -12.8,0M1193,366.6a6.4,6.4 0 1,0 12.8,0a6.4,6.4 0 1,0 -12.8,0M1160.7,401a6.4,6.4 0 1,0 12.8,0a6.4,6.4 0 1,0 -12.8,0M1152.1,403.2a6.4,6.4 0 1,0 12.8,0a6.4,6.4 0 1,0 -12.8,0M1167.2,407.5a6.4,6.4 0 1,0 12.8,0a6.4,6.4 0 1,0 -12.8,0M1210.2,409.6a6.4,6.4 0 1,0 12.8,0a6.4,6.4 0 1,0 -12.8,0M1210.2,437.5a6.4,6.4 0 1,0 12.8,0a6.4,6.4 0 1,0 -12.8,0M1216.6,459a6.4,6.4 0 1,0 12.8,0a6.4,6.4 0 1,0 -12.8,0M1199.4,471.9a6.4,6.4 0 1,0 12.8,0a6.4,6.4 0 1,0 -12.8,0M1042.5,493.4a6.4,6.4 0 1,0 12.8,0a6.4,6.4 0 1,0 -12.8,0M1038.2,506.3a6.4,6.4 0 1,0 12.8,0a6.4,6.4 0 1,0 -12.8,0M1029.7,557.9a6.4,6.4 0 1,0 12.8,0a6.4,6.4 0 1,0 -12.8,0M1128.5,355.9a6.4,6.4 0 1,0 12.8,0a6.4,6.4 0 1,0 -12.8,0M1182.2,312.9a6.4,6.4 0 1,0 12.8,0a6.4,6.4 0 1,0 -12.8,0M1188.7,332.2a6.4,6.4 0 1,0 12.8,0a6.4,6.4 0 1,0 -12.8,0M1165,321.5a6.4,6.4 0 1,0 12.8,0a6.4,6.4 0 1,0 -12.8,0M1175.8,310.7a6.4,6.4 0 1,0 12.8,0a6.4,6.4 0 1,0 -12.8,0"/>
<path fill="#FFFF00" d="M1145.7,323.6a6.4,6.4 0 1,0 12.8,0a6.4,6.4 0 1,0 -12.8,0M1164,341.9a6.4,6.4 0 1,0 12.8,0a6.4,6.4 0 1,0 -12.8,0M1114.5,360.2a6.4,6.4 0 1,0 12.8,0a6.4,6.4 0 1,0 -12.8,0M1171.5,394.6a6.4,6.4 0 1,0 12.8,0a6.4,6.4 0 1,0 -12.8,0M1193,410.7a6.4,6.4 0 1,0 12.8,0a6.4,6.4 0 1,0 -12.8,0M1226.3,380.6a6.4,6.4 0 1,0 12.8,0a6.4,6.4 0 1,0 -12.8,0M1229.5,433.2a6.4,6.4 0 1,0 12.8,0a6.4,6.4 0 1,0 -12.8,0M1203.7,519.2a6.4,6.4 0 1,0 12.8,0a6.4,6.4 0 1,0 -12.8,0M1209.1,600.9a6.4,6.4 0 1,0 12.8,0a6.4,6.4 0 1,0 -12.8,0M1079.1,448.3a6.4,6.4 0 1,0 12.8,0a6.4,6.4 0 1,0 -12.8,0M1193,321.5a6.4,6.4 0 1,0 12.8,0a6.4,6.4 0 1,0 -12.8,0"/>
<path fill="#FF0000" d="M1217.7,337.6a6.4,6.4 0 1,0 12.8,0a6.4,6.4 0 1,0 -12.8,0M1179,325.8a6.4,6.4 0 1,0 12.8,0a6.4,6.4 0 1,0 -12.8,0M1169.3,362.3a6.4,6.4 0 1,0 12.8,0a6.4,6.4 0 1,0 -12.8,0M1177.9,368.8a6.4,6.4 0 1,0 12.8,0a6.4,6.4 0 1,0 -12.8,0M1184.4,388.1a6.4,6.4 0 1,0 12.8,0a6.4,6.4 0 1,0 -12.8,0M1152.1,383.8a6.4,6.4 0 1,0 12.8,0a6.4,6.4 0 1,0 -12.8,0M1143.6,381.7a6.4,6.4 0 1,0 12.8,0a6.4,6.4 0 1,0 -12.8,0M1229.5,368.8a6.4,6.4 0 1,0 12.8,0a6.4,6.4 0 1,0 -12.8,0M1182.2,416.1a6.4,6.4 0 1,0 12.8,0a6.4,6.4 0 1,0 -12.8,0M1190.8,426.8a6.4,6.4 0 1,0 12.8,0a6.4,6.4 0 1,0 -12.8,0M1177.9,435.4a6.4,6.4 0 1,0 12.8,0a6.4,6.4 0 1,0 -12.8,0M1199.4,523.5a6.4,6.4 0 1,0 12.8,0a6.4,6.4 0 1,0 -12.8,0M1199.4,577.2a6.4,6.4 0 1,0 12.8,0a6.4,6.4 0 1,0 -12.8,0M1186.5,575.1a6.4,6.4 0 1,0 12.8,0a6.4,6.4 0 1,0 -12.8,0M1210.2,620a6.4,6.4 0 1,0 12.8,0a6.4,6.4 0 1,0 -12.8,0M1227.4,480.5a6.4,6.4 0 1,0 12.8,0a6.4,6.4 0 1,0 -12.8,0M1025.4,444a6.4,6.4 0 1,0 12.8,0a6.4,6.4 0 1,0 -12.8,0M1059.7,471.9a6.4,6.4 0 1,0 12.8,0a6.4,6.4 0 1,0 -12.8,0M1085.5,411.8a6.4,6.4 0 1,0 12.8,0a6.4,6.4 0 1,0 -12.8,0"/>
<path fill="#000000" d="M1071.6,351.6a6.4,6.4 0 1,0 12.8,0a6.4,6.4 0 1,0 -12.8,0M1064,366.6a6.4,6.4 0 1,0 12.8,0a6.4,6.4 0 1,0 -12.8,0M1060.8,373.1a6.4,6.4 0 1,0 12.8,0a6.4,6.4 0 1,0 -12.8,0M1042.5,408.5a6.4,6.4 0 1,0 12.8,0a6.4,6.4 0 1,0 -12.8,0M1137.1,340.8a6.4,6.4 0 1,0 12.8,0a6.4,6.4 0 1,0 -12.8,0M1128.5,352.7a6.4,6.4 0 1,0 12.8,0a6.4,6.4 0 1,0 -12.8,0M1186.5,357a6.4,6.4 0 1,0 12.8,0a6.4,6.4 0 1,0 -12.8,0M1167.2,381.7a6.4,6.4 0 1,0 12.8,0a6.4,6.4 0 1,0 -12.8,0M1173.6,381.7a6.4,6.4 0 1,0 12.8,0a6.4,6.4 0 1,0 -12.8,0M1186.5,405.3a6.4,6.4 0 1,0 12.8,0a6.4,6.4 0 1,0 -12.8,0M1226.3,427.9a6.4,6.4 0 1,0 12.8,0a6.4,6.4 0 1,0 -12.8,0M1199.4,448.3a6.4,6.4 0 1,0 12.8,0a6.4,6.4 0 1,0 -12.8,0M1211.2,483.7a6.4,6.4 0 1,0 12.8,0a6.4,6.4 0 1,0 -12.8,0M1214.5,547.1a6.4,6.4 0 1,0 12.8,0a6.4,6.4 0 1,0 -12.8,0M1227.4,557.9a6.4,6.4 0 1,0 12.8,0a6.4,6.4 0 1,0 -12.8,0M1193,568.6a6.4,6.4 0 1,0 12.8,0a6.4,6.4 0 1,0 -12.8,0M1212.3,570.8a6.4,6.4 0 1,0 12.8,0a6.4,6.4 0 1,0 -12.8,0M1223.1,577.2a6.4,6.4 0 1,0 12.8,0a6.4,6.4 0 1,0 -12.8,0M1186.5,588a6.4,6.4 0 1,0 12.8,0a6.4,6.4 0 1,0 -12.8,0M1199.4,600.9a6.4,6.4 0 1,0 12.8,0a6.4,6.4 0 1,0 -12.8,0M1225.2,600.9a6.4,6.4 0 1,0 12.8,0a6.4,6.4 0 1,0 -12.8,0M1082.3,422.5a6.4,6.4 0 1,0 12.8,0a6.4,6.4 0 1,0 -12.8,0M1076.9,426.8a6.4,6.4 0 1,0 12.8,0a6.4,6.4 0 1,0 -12.8,0M1070.5,444a6.4,6.4 0 1,0 12.8,0a6.4,6.4 0 1,0 -12.8,0M1061.9,461.2a6.4,6.4 0 1,0 12.8,0a6.4,6.4 0 1,0 -12.8,0M1053.3,478.4a6.4,6.4 0 1,0 12.8,0a6.4,6.4 0 1,0 -12.8,0M1173.6,609.5a6.4,6.4 0 1,0 12.8,0a6.4,6.4 0 1,0 -12.8,0M1193,615.9a6.4,6.4 0 1,0 12.8,0a6.4,6.4 0 1,0 -12.8,0M1186.7,357a6.4,6.4 0 1,0 12.8,0a6.4,6.4 0 1,0 -12.8,0M1174.9,382.7a6.4,6.4 0 1,0 12.8,0a6.4,6.4 0 1,0 -12.8,0M1185.6,405.3a6.4,6.4 0 1,0 12.8,0a6.4,6.4 0 1,0 -12.8,0M1227.6,427.9a6.4,6.4 0 1,0 12.8,0a6.4,6.4 0 1,0 -12.8,0M1255.5,430a6.4,6.4 0 1,0 12.8,0a6.4,6.4 0 1,0 -12.8,0M1284.5,424.6a6.4,6.4 0 1,0 12.8,0a6.4,6.4 0 1,0 -12.8,0M1324.3,427.9a6.4,6.4 0 1,0 12.8,0a6.4,6.4 0 1,0 -12.8,0M1335,430.7a6.4,6.4 0 1,0 12.8,0a6.4,6.4 0 1,0 -12.8,0M1211.4,482.7a6.4,6.4 0 1,0 12.8,0a6.4,6.4 0 1,0 -12.8,0M1265.2,484.8a6.4,6.4 0 1,0 12.8,0a6.4,6.4 0 1,0 -12.8,0M1250.1,506.3a6.4,6.4 0 1,0 12.8,0a6.4,6.4 0 1,0 -12.8,0M1306,512.8a6.4,6.4 0 1,0 12.8,0a6.4,6.4 0 1,0 -12.8,0M1230.8,524.6a6.4,6.4 0 1,0 12.8,0a6.4,6.4 0 1,0 -12.8,0M1283.4,535.3a6.4,6.4 0 1,0 12.8,0a6.4,6.4 0 1,0 -12.8,0M1271.6,549.3a6.4,6.4 0 1,0 12.8,0a6.4,6.4 0 1,0 -12.8,0M1284.5,560a6.4,6.4 0 1,0 12.8,0a6.4,6.4 0 1,0 -12.8,0M1364,547.1a6.4,6.4 0 1,0 12.8,0a6.4,6.4 0 1,0 -12.8,0M1360.8,563.3a6.4,6.4 0 1,0 12.8,0a6.4,6.4 0 1,0 -12.8,0M1410.2,545a6.4,6.4 0 1,0 12.8,0a6.4,6.4 0 1,0 -12.8,0M1227.6,556.8a6.4,6.4 0 1,0 12.8,0a6.4,6.4 0 1,0 -12.8,0M1213.6,548.2a6.4,6.4 0 1,0 12.8,0a6.4,6.4 0 1,0 -12.8,0M1241.5,576.2a6.4,6.4 0 1,0 12.8,0a6.4,6.4 0 1,0 -12.8,0M1250.1,571.9a6.4,6.4 0 1,0 12.8,0a6.4,6.4 0 1,0 -12.8,0M1258.7,570.8a6.4,6.4 0 1,0 12.8,0a6.4,6.4 0 1,0 -12.8,0M1259.8,583.7a6.4,6.4 0 1,0 12.8,0a6.4,6.4 0 1,0 -12.8,0M1261.9,598.7a6.4,6.4 0 1,0 12.8,0a6.4,6.4 0 1,0 -12.8,0M1279.1,604.1a6.4,6.4 0 1,0 12.8,0a6.4,6.4 0 1,0 -12.8,0M1308.1,604.1a6.4,6.4 0 1,0 12.8,0a6.4,6.4 0 1,0 -12.8,0M1320,597.6a6.4,6.4 0 1,0 12.8,0a6.4,6.4 0 1,0 -12.8,0M1333.9,588a6.4,6.4 0 1,0 12.8,0a6.4,6.4 0 1,0 -12.8,0M1241.5,611.6a6.4,6.4 0 1,0 12.8,0a6.4,6.4 0 1,0 -12.8,0M1294.2,613.8a6.4,6.4 0 1,0 12.8,0a6.4,6.4 0 1,0 -12.8,0M1301.7,617a6.4,6.4 0 1,0 12.8,0a6.4,6.4 0 1,0 -12.8,0M1344.7,618.1a6.4,6.4 0 1,0 12.8,0a6.4,6.4 0 1,0 -12.8,0M1365.1,617a6.4,6.4 0 1,0 12.8,0a6.4,6.4 0 1,0 -12.8,0M1223.3,599.8a6.4,6.4 0 1,0 12.8,0a6.4,6.4 0 1,0 -12.8,0M1212.5,569.7a6.4,6.4 0 1,0 12.8,0a6.4,6.4 0 1,0 -12.8,0M1222.2,577.2a6.4,6.4 0 1,0 12.8,0a6.4,6.4 0 1,0 -12.8,0M1226.5,583.7a6.4,6.4 0 1,0 12.8,0a6.4,6.4 0 1,0 -12.8,0M1198.5,581.5a6.4,6.4 0 1,0 12.8,0a6.4,6.4 0 1,0 -12.8,0M1196.4,598.7a6.4,6.4 0 1,0 12.8,0a6.4,6.4 0 1,0 -12.8,0M1192.1,609.5a6.4,6.4 0 1,0 12.8,0a6.4,6.4 0 1,0 -12.8,0"/>
<path fill="#FF0000" d="M1179.2,325.8a6.4,6.4 0 1,0 12.8,0a6.4,6.4 0 1,0 -12.8,0M1217.9,338.3a6.4,6.4 0 1,0 12.8,0a6.4,6.4 0 1,0 -12.8,0M1231.4,369.8a6.4,6.4 0 1,0 12.8,0a6.4,6.4 0 1,0 -12.8,0M1184.6,389.2a6.4,6.4 0 1,0 12.8,0a6.4,6.4 0 1,0 -12.8,0M1174.9,368.8a6.4,6.4 0 1,0 12.8,0a6.4,6.4 0 1,0 -12.8,0M1181.3,416.1a6.4,6.4 0 1,0 12.8,0a6.4,6.4 0 1,0 -12.8,0M1192.1,427.9a6.4,6.4 0 1,0 12.8,0a6.4,6.4 0 1,0 -12.8,0M1245.8,419.3a6.4,6.4 0 1,0 12.8,0a6.4,6.4 0 1,0 -12.8,0M1220,437.5a6.4,6.4 0 1,0 12.8,0a6.4,6.4 0 1,0 -12.8,0M1228.6,460.1a6.4,6.4 0 1,0 12.8,0a6.4,6.4 0 1,0 -12.8,0M1225.4,480.5a6.4,6.4 0 1,0 12.8,0a6.4,6.4 0 1,0 -12.8,0M1257.6,477.3a6.4,6.4 0 1,0 12.8,0a6.4,6.4 0 1,0 -12.8,0M1244.7,487a6.4,6.4 0 1,0 12.8,0a6.4,6.4 0 1,0 -12.8,0M1240.4,509.5a6.4,6.4 0 1,0 12.8,0a6.4,6.4 0 1,0 -12.8,0M1198.5,524.6a6.4,6.4 0 1,0 12.8,0a6.4,6.4 0 1,0 -12.8,0M1220,531a6.4,6.4 0 1,0 12.8,0a6.4,6.4 0 1,0 -12.8,0M1211.4,537.5a6.4,6.4 0 1,0 12.8,0a6.4,6.4 0 1,0 -12.8,0M1236.1,548.2a6.4,6.4 0 1,0 12.8,0a6.4,6.4 0 1,0 -12.8,0M1239.4,559a6.4,6.4 0 1,0 12.8,0a6.4,6.4 0 1,0 -12.8,0M1185.6,575.1a6.4,6.4 0 1,0 12.8,0a6.4,6.4 0 1,0 -12.8,0M1203.9,577.2a6.4,6.4 0 1,0 12.8,0a6.4,6.4 0 1,0 -12.8,0M1183.5,603a6.4,6.4 0 1,0 12.8,0a6.4,6.4 0 1,0 -12.8,0M1210.4,618.1a6.4,6.4 0 1,0 12.8,0a6.4,6.4 0 1,0 -12.8,0"/>
<path fill="#FFFF00" d="M1194.2,323.2a6.4,6.4 0 1,0 12.8,0a6.4,6.4 0 1,0 -12.8,0M1226.5,380.6a6.4,6.4 0 1,0 12.8,0a6.4,6.4 0 1,0 -12.8,0M1172.7,394.6a6.4,6.4 0 1,0 12.8,0a6.4,6.4 0 1,0 -12.8,0M1192.1,410.7a6.4,6.4 0 1,0 12.8,0a6.4,6.4 0 1,0 -12.8,0M1234,437.5a6.4,6.4 0 1,0 12.8,0a6.4,6.4 0 1,0 -12.8,0M1258.7,442.3a6.4,6.4 0 1,0 12.8,0a6.4,6.4 0 1,0 -12.8,0M1352.2,409.2a6.4,6.4 0 1,0 12.8,0a6.4,6.4 0 1,0 -12.8,0M1230.8,474.1a6.4,6.4 0 1,0 12.8,0a6.4,6.4 0 1,0 -12.8,0M1239.4,484.8a6.4,6.4 0 1,0 12.8,0a6.4,6.4 0 1,0 -12.8,0M1263,495.6a6.4,6.4 0 1,0 12.8,0a6.4,6.4 0 1,0 -12.8,0M1246.9,502a6.4,6.4 0 1,0 12.8,0a6.4,6.4 0 1,0 -12.8,0M1245.8,520.3a6.4,6.4 0 1,0 12.8,0a6.4,6.4 0 1,0 -12.8,0M1209.3,600.9a6.4,6.4 0 1,0 12.8,0a6.4,6.4 0 1,0 -12.8,0M1205,519.2a6.4,6.4 0 1,0 12.8,0a6.4,6.4 0 1,0 -12.8,0"/>
<path fill="#A020F0" d="M1239.4,317.2a6.4,6.4 0 1,0 12.8,0a6.4,6.4 0 1,0 -12.8,0M1242.6,303.2a6.4,6.4 0 1,0 12.8,0a6.4,6.4 0 1,0 -12.8,0M1187.8,331.2a6.4,6.4 0 1,0 12.8,0a6.4,6.4 0 1,0 -12.8,0M1194.2,366.6a6.4,6.4 0 1,0 12.8,0a6.4,6.4 0 1,0 -12.8,0M1183.5,315a6.4,6.4 0 1,0 12.8,0a6.4,6.4 0 1,0 -12.8,0M1209.3,409.6a6.4,6.4 0 1,0 12.8,0a6.4,6.4 0 1,0 -12.8,0M1246.9,433.2a6.4,6.4 0 1,0 12.8,0a6.4,6.4 0 1,0 -12.8,0M1210.4,436.5a6.4,6.4 0 1,0 12.8,0a6.4,6.4 0 1,0 -12.8,0M1216.8,459a6.4,6.4 0 1,0 12.8,0a6.4,6.4 0 1,0 -12.8,0M1197.5,463.3a6.4,6.4 0 1,0 12.8,0a6.4,6.4 0 1,0 -12.8,0M1203.9,474.1a6.4,6.4 0 1,0 12.8,0a6.4,6.4 0 1,0 -12.8,0M1257.6,482.7a6.4,6.4 0 1,0 12.8,0a6.4,6.4 0 1,0 -12.8,0M1172.7,413.9a6.4,6.4 0 1,0 12.8,0a6.4,6.4 0 1,0 -12.8,0"/>
<path fill="#0000FF" d="M1184.6,303.2a6.4,6.4 0 1,0 12.8,0a6.4,6.4 0 1,0 -12.8,0M1205,301.1a6.4,6.4 0 1,0 12.8,0a6.4,6.4 0 1,0 -12.8,0M1301.7,511.7a6.4,6.4 0 1,0 12.8,0a6.4,6.4 0 1,0 -12.8,0M1228.6,494.5a6.4,6.4 0 1,0 12.8,0a6.4,6.4 0 1,0 -12.8,0M1170.6,476.2a6.4,6.4 0 1,0 12.8,0a6.4,6.4 0 1,0 -12.8,0"/>
<path fill="#00FF00" d="M1176,449.4a6.4,6.4 0 1,0 12.8,0a6.4,6.4 0 1,0 -12.8,0M1181.3,497.3a6.4,6.4 0 1,0 12.8,0a6.4,6.4 0 1,0 -12.8,0"/>
<path fill="#FFC0CB" d="M1234,541.8a6.4,6.4 0 1,0 12.8,0a6.4,6.4 0 1,0 -12.8,0M1221.1,612.7a6.4,6.4 0 1,0 12.8,0a6.4,6.4 0 1,0 -12.8,0M1171.7,607.3a6.4,6.4 0 1,0 12.8,0a6.4,6.4 0 1,0 -12.8,0"/>
<path fill="#000000" d="M911.6,720.5a6.4,6.4 0 1,0 12.8,0a6.4,6.4 0 1,0 -12.8,0M940.6,720.5a6.4,6.4 0 1,0 12.8,0a6.4,6.4 0 1,0 -12.8,0M957.8,720.5a6.4,6.4 0 1,0 12.8,0a6.4,6.4 0 1,0 -12.8,0M970.7,720.5a6.4,6.4 0 1,0 12.8,0a6.4,6.4 0 1,0 -12.8,0M980.4,720.5a6.4,6.4 0 1,0 12.8,0a6.4,6.4 0 1,0 -12.8,0M928.8,663.2a6.4,6.4 0 1,0 12.8,0a6.4,6.4 0 1,0 -12.8,0M940.6,629.8a6.4,6.4 0 1,0 12.8,0a6.4,6.4 0 1,0 -12.8,0M950.3,605.1a6.4,6.4 0 1,0 12.8,0a6.4,6.4 0 1,0 -12.8,0M957.8,586.9a6.4,6.4 0 1,0 12.8,0a6.4,6.4 0 1,0 -12.8,0M964.3,570.7a6.4,6.4 0 1,0 12.8,0a6.4,6.4 0 1,0 -12.8,0M970.7,561.1a6.4,6.4 0 1,0 12.8,0a6.4,6.4 0 1,0 -12.8,0M928.8,778.1a6.4,6.4 0 1,0 12.8,0a6.4,6.4 0 1,0 -12.8,0M940.6,811.4a6.4,6.4 0 1,0 12.8,0a6.4,6.4 0 1,0 -12.8,0M950.3,836.2a6.4,6.4 0 1,0 12.8,0a6.4,6.4 0 1,0 -12.8,0M957.8,854.4a6.4,6.4 0 1,0 12.8,0a6.4,6.4 0 1,0 -12.8,0M964.3,869.5a6.4,6.4 0 1,0 12.8,0a6.4,6.4 0 1,0 -12.8,0M970.7,880a6.4,6.4 0 1,0 12.8,0a6.4,6.4 0 1,0 -12.8,0M957.8,663.2a6.4,6.4 0 1,0 12.8,0a6.4,6.4 0 1,0 -12.8,0M964.3,643.8a6.4,6.4 0 1,0 12.8,0a6.4,6.4 0 1,0 -12.8,0M970.7,629.8a6.4,6.4 0 1,0 12.8,0a6.4,6.4 0 1,0 -12.8,0M975,617a6.4,6.4 0 1,0 12.8,0a6.4,6.4 0 1,0 -12.8,0M979.3,605.1a6.4,6.4 0 1,0 12.8,0a6.4,6.4 0 1,0 -12.8,0M982.5,594.4a6.4,6.4 0 1,0 12.8,0a6.4,6.4 0 1,0 -12.8,0M986.8,583.6a6.4,6.4 0 1,0 12.8,0a6.4,6.4 0 1,0 -12.8,0M991.1,572.9a6.4,6.4 0 1,0 12.8,0a6.4,6.4 0 1,0 -12.8,0M995.4,564.3a6.4,6.4 0 1,0 12.8,0a6.4,6.4 0 1,0 -12.8,0M950.3,686.8a6.4,6.4 0 1,0 12.8,0a6.4,6.4 0 1,0 -12.8,0M964.3,696.5a6.4,6.4 0 1,0 12.8,0a6.4,6.4 0 1,0 -12.8,0M970.7,678.2a6.4,6.4 0 1,0 12.8,0a6.4,6.4 0 1,0 -12.8,0M975,663.2a6.4,6.4 0 1,0 12.8,0a6.4,6.4 0 1,0 -12.8,0M980.4,650.3a6.4,6.4 0 1,0 12.8,0a6.4,6.4 0 1,0 -12.8,0M983.6,639.5a6.4,6.4 0 1,0 12.8,0a6.4,6.4 0 1,0 -12.8,0M957.8,778.1a6.4,6.4 0 1,0 12.8,0a6.4,6.4 0 1,0 -12.8,0M950.3,754.5a6.4,6.4 0 1,0 12.8,0a6.4,6.4 0 1,0 -12.8,0M964.3,744.8a6.4,6.4 0 1,0 12.8,0a6.4,6.4 0 1,0 -12.8,0M970.7,763.1a6.4,6.4 0 1,0 12.8,0a6.4,6.4 0 1,0 -12.8,0M975,778.1a6.4,6.4 0 1,0 12.8,0a6.4,6.4 0 1,0 -12.8,0M964.3,796.4a6.4,6.4 0 1,0 12.8,0a6.4,6.4 0 1,0 -12.8,0M970.7,811.4a6.4,6.4 0 1,0 12.8,0a6.4,6.4 0 1,0 -12.8,0M976.1,824.3a6.4,6.4 0 1,0 12.8,0a6.4,6.4 0 1,0 -12.8,0M980.4,836.2a6.4,6.4 0 1,0 12.8,0a6.4,6.4 0 1,0 -12.8,0M984.7,848a6.4,6.4 0 1,0 12.8,0a6.4,6.4 0 1,0 -12.8,0M989,860.9a6.4,6.4 0 1,0 12.8,0a6.4,6.4 0 1,0 -12.8,0M993.3,871.6a6.4,6.4 0 1,0 12.8,0a6.4,6.4 0 1,0 -12.8,0M976.1,702.9a6.4,6.4 0 1,0 12.8,0a6.4,6.4 0 1,0 -12.8,0M980.4,738.4a6.4,6.4 0 1,0 12.8,0a6.4,6.4 0 1,0 -12.8,0M980.4,754.5a6.4,6.4 0 1,0 12.8,0a6.4,6.4 0 1,0 -12.8,0M980.4,791a6.4,6.4 0 1,0 12.8,0a6.4,6.4 0 1,0 -12.8,0M982.5,802.8a6.4,6.4 0 1,0 12.8,0a6.4,6.4 0 1,0 -12.8,0"/>
<path fill="#00FF00" d="M1038.4,577.2a6.4,6.4 0 1,0 12.8,0a6.4,6.4 0 1,0 -12.8,0M1047,587.9a6.4,6.4 0 1,0 12.8,0a6.4,6.4 0 1,0 -12.8,0M1057.8,598.7a6.4,6.4 0 1,0 12.8,0a6.4,6.4 0 1,0 -12.8,0M1068.5,603a6.4,6.4 0 1,0 12.8,0a6.4,6.4 0 1,0 -12.8,0M1077.1,611.6a6.4,6.4 0 1,0 12.8,0a6.4,6.4 0 1,0 -12.8,0M1068.5,624.5a6.4,6.4 0 1,0 12.8,0a6.4,6.4 0 1,0 -12.8,0M1079.3,628.8a6.4,6.4 0 1,0 12.8,0a6.4,6.4 0 1,0 -12.8,0M1100.7,568.6a6.4,6.4 0 1,0 12.8,0a6.4,6.4 0 1,0 -12.8,0M1109.3,629.8a6.4,6.4 0 1,0 12.8,0a6.4,6.4 0 1,0 -12.8,0M1062.1,587.9a6.4,6.4 0 1,0 12.8,0a6.4,6.4 0 1,0 -12.8,0M1042.7,581.5a6.4,6.4 0 1,0 12.8,0a6.4,6.4 0 1,0 -12.8,0"/>
<path fill="#FFC0CB" d="M1042.7,566.4a6.4,6.4 0 1,0 12.8,0a6.4,6.4 0 1,0 -12.8,0M1059.9,572.9a6.4,6.4 0 1,0 12.8,0a6.4,6.4 0 1,0 -12.8,0M1055.6,562.1a6.4,6.4 0 1,0 12.8,0a6.4,6.4 0 1,0 -12.8,0M1100.7,593.3a6.4,6.4 0 1,0 12.8,0a6.4,6.4 0 1,0 -12.8,0M1134.1,599.8a6.4,6.4 0 1,0 12.8,0a6.4,6.4 0 1,0 -12.8,0M1130.8,615.9a6.4,6.4 0 1,0 12.8,0a6.4,6.4 0 1,0 -12.8,0M1107.2,611.6a6.4,6.4 0 1,0 12.8,0a6.4,6.4 0 1,0 -12.8,0M1090,607.3a6.4,6.4 0 1,0 12.8,0a6.4,6.4 0 1,0 -12.8,0M1102.9,626.6a6.4,6.4 0 1,0 12.8,0a6.4,6.4 0 1,0 -12.8,0M1111.5,643.8a6.4,6.4 0 1,0 12.8,0a6.4,6.4 0 1,0 -12.8,0M1100.7,648.1a6.4,6.4 0 1,0 12.8,0a6.4,6.4 0 1,0 -12.8,0M1120.1,658.9a6.4,6.4 0 1,0 12.8,0a6.4,6.4 0 1,0 -12.8,0M1158.8,661a6.4,6.4 0 1,0 12.8,0a6.4,6.4 0 1,0 -12.8,0M1169.5,608.4a6.4,6.4 0 1,0 12.8,0a6.4,6.4 0 1,0 -12.8,0M1158.8,562.1a6.4,6.4 0 1,0 12.8,0a6.4,6.4 0 1,0 -12.8,0M1115.8,566.4a6.4,6.4 0 1,0 12.8,0a6.4,6.4 0 1,0 -12.8,0M1068.5,613.7a6.4,6.4 0 1,0 12.8,0a6.4,6.4 0 1,0 -12.8,0M1085.7,635.2a6.4,6.4 0 1,0 12.8,0a6.4,6.4 0 1,0 -12.8,0M1094.3,641.7a6.4,6.4 0 1,0 12.8,0a6.4,6.4 0 1,0 -12.8,0M1059.9,615.9a6.4,6.4 0 1,0 12.8,0a6.4,6.4 0 1,0 -12.8,0"/>
<path fill="#0000FF" d="M1077.1,583.6a6.4,6.4 0 1,0 12.8,0a6.4,6.4 0 1,0 -12.8,0M1083.6,598.7a6.4,6.4 0 1,0 12.8,0a6.4,6.4 0 1,0 -12.8,0M1087.9,564.3a6.4,6.4 0 1,0 12.8,0a6.4,6.4 0 1,0 -12.8,0M1109.3,572.9a6.4,6.4 0 1,0 12.8,0a6.4,6.4 0 1,0 -12.8,0M1102.9,626.6a6.4,6.4 0 1,0 12.8,0a6.4,6.4 0 1,0 -12.8,0M1169.5,648.1a6.4,6.4 0 1,0 12.8,0a6.4,6.4 0 1,0 -12.8,0M1115.8,646a6.4,6.4 0 1,0 12.8,0a6.4,6.4 0 1,0 -12.8,0M1068.5,566.4a6.4,6.4 0 1,0 12.8,0a6.4,6.4 0 1,0 -12.8,0"/>
<path fill="#FFC0CB" d="M1150.2,763.1a6.4,6.4 0 1,0 12.8,0a6.4,6.4 0 1,0 -12.8,0M1158.8,787.8a6.4,6.4 0 1,0 12.8,0a6.4,6.4 0 1,0 -12.8,0M1145.9,811.4a6.4,6.4 0 1,0 12.8,0a6.4,6.4 0 1,0 -12.8,0M1141.6,852.3a6.4,6.4 0 1,0 12.8,0a6.4,6.4 0 1,0 -12.8,0M1090,779.2a6.4,6.4 0 1,0 12.8,0a6.4,6.4 0 1,0 -12.8,0M1102.9,807.1a6.4,6.4 0 1,0 12.8,0a6.4,6.4 0 1,0 -12.8,0M1113.6,798.5a6.4,6.4 0 1,0 12.8,0a6.4,6.4 0 1,0 -12.8,0M1120.1,822.2a6.4,6.4 0 1,0 12.8,0a6.4,6.4 0 1,0 -12.8,0M1133,781.4a6.4,6.4 0 1,0 12.8,0a6.4,6.4 0 1,0 -12.8,0M1079.3,856.6a6.4,6.4 0 1,0 12.8,0a6.4,6.4 0 1,0 -12.8,0M1068.5,817.9a6.4,6.4 0 1,0 12.8,0a6.4,6.4 0 1,0 -12.8,0M1057.8,839.4a6.4,6.4 0 1,0 12.8,0a6.4,6.4 0 1,0 -12.8,0M1122.2,860.9a6.4,6.4 0 1,0 12.8,0a6.4,6.4 0 1,0 -12.8,0M1047,871.6a6.4,6.4 0 1,0 12.8,0a6.4,6.4 0 1,0 -12.8,0"/>
<path fill="#0000FF" d="M1152.3,754.5a6.4,6.4 0 1,0 12.8,0a6.4,6.4 0 1,0 -12.8,0M1169.5,764.2a6.4,6.4 0 1,0 12.8,0a6.4,6.4 0 1,0 -12.8,0M1130.8,794.3a6.4,6.4 0 1,0 12.8,0a6.4,6.4 0 1,0 -12.8,0M1154.5,843.7a6.4,6.4 0 1,0 12.8,0a6.4,6.4 0 1,0 -12.8,0M1133,820a6.4,6.4 0 1,0 12.8,0a6.4,6.4 0 1,0 -12.8,0M1126.5,824.3a6.4,6.4 0 1,0 12.8,0a6.4,6.4 0 1,0 -12.8,0M1111.5,832.9a6.4,6.4 0 1,0 12.8,0a6.4,6.4 0 1,0 -12.8,0M1163.1,865.2a6.4,6.4 0 1,0 12.8,0a6.4,6.4 0 1,0 -12.8,0M1098.6,828.6a6.4,6.4 0 1,0 12.8,0a6.4,6.4 0 1,0 -12.8,0M1068.5,787.8a6.4,6.4 0 1,0 12.8,0a6.4,6.4 0 1,0 -12.8,0M1027.7,839.4a6.4,6.4 0 1,0 12.8,0a6.4,6.4 0 1,0 -12.8,0M1059.9,800.7a6.4,6.4 0 1,0 12.8,0a6.4,6.4 0 1,0 -12.8,0M1094.3,873.8a6.4,6.4 0 1,0 12.8,0a6.4,6.4 0 1,0 -12.8,0M1109.3,860.9a6.4,6.4 0 1,0 12.8,0a6.4,6.4 0 1,0 -12.8,0"/>
<path fill="#00FF00" d="M1139.4,753.4a6.4,6.4 0 1,0 12.8,0a6.4,6.4 0 1,0 -12.8,0M1133,774.9a6.4,6.4 0 1,0 12.8,0a6.4,6.4 0 1,0 -12.8,0M1143.7,798.5a6.4,6.4 0 1,0 12.8,0a6.4,6.4 0 1,0 -12.8,0M1156.6,796.4a6.4,6.4 0 1,0 12.8,0a6.4,6.4 0 1,0 -12.8,0M1154.5,815.7a6.4,6.4 0 1,0 12.8,0a6.4,6.4 0 1,0 -12.8,0M1139.4,813.6a6.4,6.4 0 1,0 12.8,0a6.4,6.4 0 1,0 -12.8,0M1122.2,832.9a6.4,6.4 0 1,0 12.8,0a6.4,6.4 0 1,0 -12.8,0M1130.8,843.7a6.4,6.4 0 1,0 12.8,0a6.4,6.4 0 1,0 -12.8,0M1139.4,869.5a6.4,6.4 0 1,0 12.8,0a6.4,6.4 0 1,0 -12.8,0M1158.8,865.2a6.4,6.4 0 1,0 12.8,0a6.4,6.4 0 1,0 -12.8,0M1171.7,772.8a6.4,6.4 0 1,0 12.8,0a6.4,6.4 0 1,0 -12.8,0M1171.7,860.9a6.4,6.4 0 1,0 12.8,0a6.4,6.4 0 1,0 -12.8,0M1124.4,802.8a6.4,6.4 0 1,0 12.8,0a6.4,6.4 0 1,0 -12.8,0M1109.3,764.2a6.4,6.4 0 1,0 12.8,0a6.4,6.4 0 1,0 -12.8,0M1126.5,759.9a6.4,6.4 0 1,0 12.8,0a6.4,6.4 0 1,0 -12.8,0"/>
<path fill="#FF0000" d="M1021.2,860.9a6.4,6.4 0 1,0 12.8,0a6.4,6.4 0 1,0 -12.8,0"/>
<path fill="#000000" d="M1284.5,562.1a6.4,6.4 0 1,0 12.8,0a6.4,6.4 0 1,0 -12.8,0M1360.8,564.3a6.4,6.4 0 1,0 12.8,0a6.4,6.4 0 1,0 -12.8,0M1333.9,587.9a6.4,6.4 0 1,0 12.8,0a6.4,6.4 0 1,0 -12.8,0M1318.9,598.7a6.4,6.4 0 1,0 12.8,0a6.4,6.4 0 1,0 -12.8,0M1307.1,604.1a6.4,6.4 0 1,0 12.8,0a6.4,6.4 0 1,0 -12.8,0M1279.1,604.1a6.4,6.4 0 1,0 12.8,0a6.4,6.4 0 1,0 -12.8,0M1261.9,598.7a6.4,6.4 0 1,0 12.8,0a6.4,6.4 0 1,0 -12.8,0M1258.7,583.6a6.4,6.4 0 1,0 12.8,0a6.4,6.4 0 1,0 -12.8,0M1241.5,611.6a6.4,6.4 0 1,0 12.8,0a6.4,6.4 0 1,0 -12.8,0M1293.1,613.7a6.4,6.4 0 1,0 12.8,0a6.4,6.4 0 1,0 -12.8,0M1301.7,619.1a6.4,6.4 0 1,0 12.8,0a6.4,6.4 0 1,0 -12.8,0M1292,626.6a6.4,6.4 0 1,0 12.8,0a6.4,6.4 0 1,0 -12.8,0M1326.4,628.8a6.4,6.4 0 1,0 12.8,0a6.4,6.4 0 1,0 -12.8,0M1330.7,637.4a6.4,6.4 0 1,0 12.8,0a6.4,6.4 0 1,0 -12.8,0M1333.9,648.1a6.4,6.4 0 1,0 12.8,0a6.4,6.4 0 1,0 -12.8,0M1338.2,654.6a6.4,6.4 0 1,0 12.8,0a6.4,6.4 0 1,0 -12.8,0M1344.7,620.2a6.4,6.4 0 1,0 12.8,0a6.4,6.4 0 1,0 -12.8,0M1365.1,619.1a6.4,6.4 0 1,0 12.8,0a6.4,6.4 0 1,0 -12.8,0M1364,641.7a6.4,6.4 0 1,0 12.8,0a6.4,6.4 0 1,0 -12.8,0M1397.3,639.9a6.4,6.4 0 1,0 12.8,0a6.4,6.4 0 1,0 -12.8,0M1460.7,628.8a6.4,6.4 0 1,0 12.8,0a6.4,6.4 0 1,0 -12.8,0M1361.9,662.1a6.4,6.4 0 1,0 12.8,0a6.4,6.4 0 1,0 -12.8,0M1350,665.3a6.4,6.4 0 1,0 12.8,0a6.4,6.4 0 1,0 -12.8,0M1286.7,659.9a6.4,6.4 0 1,0 12.8,0a6.4,6.4 0 1,0 -12.8,0M1303.8,670.7a6.4,6.4 0 1,0 12.8,0a6.4,6.4 0 1,0 -12.8,0M1268.4,663.2a6.4,6.4 0 1,0 12.8,0a6.4,6.4 0 1,0 -12.8,0M1265.2,650.3a6.4,6.4 0 1,0 12.8,0a6.4,6.4 0 1,0 -12.8,0M1273.8,646a6.4,6.4 0 1,0 12.8,0a6.4,6.4 0 1,0 -12.8,0M1257.6,625.5a6.4,6.4 0 1,0 12.8,0a6.4,6.4 0 1,0 -12.8,0M1236.1,633.1a6.4,6.4 0 1,0 12.8,0a6.4,6.4 0 1,0 -12.8,0M1314.6,682.5a6.4,6.4 0 1,0 12.8,0a6.4,6.4 0 1,0 -12.8,0M1329.6,679.3a6.4,6.4 0 1,0 12.8,0a6.4,6.4 0 1,0 -12.8,0M1338.2,678.2a6.4,6.4 0 1,0 12.8,0a6.4,6.4 0 1,0 -12.8,0M1366.2,686.8a6.4,6.4 0 1,0 12.8,0a6.4,6.4 0 1,0 -12.8,0M1374.8,685.7a6.4,6.4 0 1,0 12.8,0a6.4,6.4 0 1,0 -12.8,0M1369.4,701.8a6.4,6.4 0 1,0 12.8,0a6.4,6.4 0 1,0 -12.8,0M1353.3,708.3a6.4,6.4 0 1,0 12.8,0a6.4,6.4 0 1,0 -12.8,0M1333.9,701.8a6.4,6.4 0 1,0 12.8,0a6.4,6.4 0 1,0 -12.8,0M1324.3,699.7a6.4,6.4 0 1,0 12.8,0a6.4,6.4 0 1,0 -12.8,0M1409.1,694.3a6.4,6.4 0 1,0 12.8,0a6.4,6.4 0 1,0 -12.8,0M1419.9,701.8a6.4,6.4 0 1,0 12.8,0a6.4,6.4 0 1,0 -12.8,0M1397.3,705.1a6.4,6.4 0 1,0 12.8,0a6.4,6.4 0 1,0 -12.8,0M1408.1,715.8a6.4,6.4 0 1,0 12.8,0a6.4,6.4 0 1,0 -12.8,0M1415.6,720.1a6.4,6.4 0 1,0 12.8,0a6.4,6.4 0 1,0 -12.8,0M1432.8,735.2a6.4,6.4 0 1,0 12.8,0a6.4,6.4 0 1,0 -12.8,0M1431.7,738.4a6.4,6.4 0 1,0 12.8,0a6.4,6.4 0 1,0 -12.8,0M1452.1,734.1a6.4,6.4 0 1,0 12.8,0a6.4,6.4 0 1,0 -12.8,0M1387.7,750.2a6.4,6.4 0 1,0 12.8,0a6.4,6.4 0 1,0 -12.8,0M1373.7,735.2a6.4,6.4 0 1,0 12.8,0a6.4,6.4 0 1,0 -12.8,0M1367.2,744.8a6.4,6.4 0 1,0 12.8,0a6.4,6.4 0 1,0 -12.8,0M1360.8,740.5a6.4,6.4 0 1,0 12.8,0a6.4,6.4 0 1,0 -12.8,0M1349,754.5a6.4,6.4 0 1,0 12.8,0a6.4,6.4 0 1,0 -12.8,0M1336.1,755.6a6.4,6.4 0 1,0 12.8,0a6.4,6.4 0 1,0 -12.8,0M1324.3,768.5a6.4,6.4 0 1,0 12.8,0a6.4,6.4 0 1,0 -12.8,0M1385.5,770.6a6.4,6.4 0 1,0 12.8,0a6.4,6.4 0 1,0 -12.8,0M1393,790a6.4,6.4 0 1,0 12.8,0a6.4,6.4 0 1,0 -12.8,0M1394.1,801.8a6.4,6.4 0 1,0 12.8,0a6.4,6.4 0 1,0 -12.8,0M1365.1,810.4a6.4,6.4 0 1,0 12.8,0a6.4,6.4 0 1,0 -12.8,0M1364,794.3a6.4,6.4 0 1,0 12.8,0a6.4,6.4 0 1,0 -12.8,0M1354.3,788.9a6.4,6.4 0 1,0 12.8,0a6.4,6.4 0 1,0 -12.8,0M1353.3,798.5a6.4,6.4 0 1,0 12.8,0a6.4,6.4 0 1,0 -12.8,0M1366.2,821.1a6.4,6.4 0 1,0 12.8,0a6.4,6.4 0 1,0 -12.8,0M1353.3,834a6.4,6.4 0 1,0 12.8,0a6.4,6.4 0 1,0 -12.8,0M1344.7,835.1a6.4,6.4 0 1,0 12.8,0a6.4,6.4 0 1,0 -12.8,0M1307.1,842.6a6.4,6.4 0 1,0 12.8,0a6.4,6.4 0 1,0 -12.8,0M1324.3,853.4a6.4,6.4 0 1,0 12.8,0a6.4,6.4 0 1,0 -12.8,0M1307.1,855.5a6.4,6.4 0 1,0 12.8,0a6.4,6.4 0 1,0 -12.8,0M1271.6,856.6a6.4,6.4 0 1,0 12.8,0a6.4,6.4 0 1,0 -12.8,0M1292,828.6a6.4,6.4 0 1,0 12.8,0a6.4,6.4 0 1,0 -12.8,0M1278.1,817.9a6.4,6.4 0 1,0 12.8,0a6.4,6.4 0 1,0 -12.8,0M1273.8,839.4a6.4,6.4 0 1,0 12.8,0a6.4,6.4 0 1,0 -12.8,0M1312.4,787.8a6.4,6.4 0 1,0 12.8,0a6.4,6.4 0 1,0 -12.8,0M1303.8,774.9a6.4,6.4 0 1,0 12.8,0a6.4,6.4 0 1,0 -12.8,0M1295.2,766.3a6.4,6.4 0 1,0 12.8,0a6.4,6.4 0 1,0 -12.8,0M1282.4,768.5a6.4,6.4 0 1,0 12.8,0a6.4,6.4 0 1,0 -12.8,0M1269.5,766.3a6.4,6.4 0 1,0 12.8,0a6.4,6.4 0 1,0 -12.8,0"/>
<path fill="#FFFF00" d="M1209.3,600.8a6.4,6.4 0 1,0 12.8,0a6.4,6.4 0 1,0 -12.8,0M1208.2,639.5a6.4,6.4 0 1,0 12.8,0a6.4,6.4 0 1,0 -12.8,0M1257.6,763.1a6.4,6.4 0 1,0 12.8,0a6.4,6.4 0 1,0 -12.8,0M1309.2,758.8a6.4,6.4 0 1,0 12.8,0a6.4,6.4 0 1,0 -12.8,0M1286.7,780.3a6.4,6.4 0 1,0 12.8,0a6.4,6.4 0 1,0 -12.8,0M1287.7,793.2a6.4,6.4 0 1,0 12.8,0a6.4,6.4 0 1,0 -12.8,0M1286.7,809.3a6.4,6.4 0 1,0 12.8,0a6.4,6.4 0 1,0 -12.8,0M1250.1,785.7a6.4,6.4 0 1,0 12.8,0a6.4,6.4 0 1,0 -12.8,0M1250.1,810.4a6.4,6.4 0 1,0 12.8,0a6.4,6.4 0 1,0 -12.8,0M1259.8,819a6.4,6.4 0 1,0 12.8,0a6.4,6.4 0 1,0 -12.8,0M1329.6,805a6.4,6.4 0 1,0 12.8,0a6.4,6.4 0 1,0 -12.8,0M1340.4,800.7a6.4,6.4 0 1,0 12.8,0a6.4,6.4 0 1,0 -12.8,0M1329.6,817.9a6.4,6.4 0 1,0 12.8,0a6.4,6.4 0 1,0 -12.8,0M1338.2,832.9a6.4,6.4 0 1,0 12.8,0a6.4,6.4 0 1,0 -12.8,0M1323.2,838.3a6.4,6.4 0 1,0 12.8,0a6.4,6.4 0 1,0 -12.8,0M1308.1,823.3a6.4,6.4 0 1,0 12.8,0a6.4,6.4 0 1,0 -12.8,0M1285.6,849.1a6.4,6.4 0 1,0 12.8,0a6.4,6.4 0 1,0 -12.8,0M1368.3,831.9a6.4,6.4 0 1,0 12.8,0a6.4,6.4 0 1,0 -12.8,0M1361.9,878.1a6.4,6.4 0 1,0 12.8,0a6.4,6.4 0 1,0 -12.8,0M1284.5,875.9a6.4,6.4 0 1,0 12.8,0a6.4,6.4 0 1,0 -12.8,0M1232.9,843.7a6.4,6.4 0 1,0 12.8,0a6.4,6.4 0 1,0 -12.8,0M1241.5,852.3a6.4,6.4 0 1,0 12.8,0a6.4,6.4 0 1,0 -12.8,0"/>
<path fill="#FFC0CB" d="M1172.7,608.4a6.4,6.4 0 1,0 12.8,0a6.4,6.4 0 1,0 -12.8,0M1221.1,611.6a6.4,6.4 0 1,0 12.8,0a6.4,6.4 0 1,0 -12.8,0M1203.9,667.5a6.4,6.4 0 1,0 12.8,0a6.4,6.4 0 1,0 -12.8,0M1209.3,857.6a6.4,6.4 0 1,0 12.8,0a6.4,6.4 0 1,0 -12.8,0"/>
<path fill="#FF0000" d="M1185.6,574a6.4,6.4 0 1,0 12.8,0a6.4,6.4 0 1,0 -12.8,0M1203.9,576.1a6.4,6.4 0 1,0 12.8,0a6.4,6.4 0 1,0 -12.8,0M1210.4,622.3a6.4,6.4 0 1,0 12.8,0a6.4,6.4 0 1,0 -12.8,0M1198.5,634.1a6.4,6.4 0 1,0 12.8,0a6.4,6.4 0 1,0 -12.8,0M1184.6,642.7a6.4,6.4 0 1,0 12.8,0a6.4,6.4 0 1,0 -12.8,0M1186.7,658.9a6.4,6.4 0 1,0 12.8,0a6.4,6.4 0 1,0 -12.8,0M1239.4,562.1a6.4,6.4 0 1,0 12.8,0a6.4,6.4 0 1,0 -12.8,0M1221.1,763.1a6.4,6.4 0 1,0 12.8,0a6.4,6.4 0 1,0 -12.8,0M1241.5,783.5a6.4,6.4 0 1,0 12.8,0a6.4,6.4 0 1,0 -12.8,0M1269.5,784.6a6.4,6.4 0 1,0 12.8,0a6.4,6.4 0 1,0 -12.8,0M1226.5,813.6a6.4,6.4 0 1,0 12.8,0a6.4,6.4 0 1,0 -12.8,0M1202.8,845.8a6.4,6.4 0 1,0 12.8,0a6.4,6.4 0 1,0 -12.8,0M1216.8,875.9a6.4,6.4 0 1,0 12.8,0a6.4,6.4 0 1,0 -12.8,0M1174.9,785.7a6.4,6.4 0 1,0 12.8,0a6.4,6.4 0 1,0 -12.8,0M1196.4,817.9a6.4,6.4 0 1,0 12.8,0a6.4,6.4 0 1,0 -12.8,0M1228.6,790a6.4,6.4 0 1,0 12.8,0a6.4,6.4 0 1,0 -12.8,0"/>
<path fill="#0000FF" d="M1264.1,634.1a6.4,6.4 0 1,0 12.8,0a6.4,6.4 0 1,0 -12.8,0M1173.8,648.1a6.4,6.4 0 1,0 12.8,0a6.4,6.4 0 1,0 -12.8,0M1179.2,786.7a6.4,6.4 0 1,0 12.8,0a6.4,6.4 0 1,0 -12.8,0M1208.2,784.6a6.4,6.4 0 1,0 12.8,0a6.4,6.4 0 1,0 -12.8,0M1206.1,803.9a6.4,6.4 0 1,0 12.8,0a6.4,6.4 0 1,0 -12.8,0M1184.6,811.4a6.4,6.4 0 1,0 12.8,0a6.4,6.4 0 1,0 -12.8,0M1270.5,828.6a6.4,6.4 0 1,0 12.8,0a6.4,6.4 0 1,0 -12.8,0M1258.7,848a6.4,6.4 0 1,0 12.8,0a6.4,6.4 0 1,0 -12.8,0M1177,845.8a6.4,6.4 0 1,0 12.8,0a6.4,6.4 0 1,0 -12.8,0M1192.1,860.9a6.4,6.4 0 1,0 12.8,0a6.4,6.4 0 1,0 -12.8,0M1179.2,875.9a6.4,6.4 0 1,0 12.8,0a6.4,6.4 0 1,0 -12.8,0M1173.8,764.2a6.4,6.4 0 1,0 12.8,0a6.4,6.4 0 1,0 -12.8,0"/>
<path fill="#A020F0" d="M1211.4,756.6a6.4,6.4 0 1,0 12.8,0a6.4,6.4 0 1,0 -12.8,0M1225.4,754.5a6.4,6.4 0 1,0 12.8,0a6.4,6.4 0 1,0 -12.8,0M1238.3,798.5a6.4,6.4 0 1,0 12.8,0a6.4,6.4 0 1,0 -12.8,0M1222.2,769.5a6.4,6.4 0 1,0 12.8,0a6.4,6.4 0 1,0 -12.8,0M1337.2,791a6.4,6.4 0 1,0 12.8,0a6.4,6.4 0 1,0 -12.8,0M1309.2,814.7a6.4,6.4 0 1,0 12.8,0a6.4,6.4 0 1,0 -12.8,0M1264.1,834a6.4,6.4 0 1,0 12.8,0a6.4,6.4 0 1,0 -12.8,0M1297.4,863a6.4,6.4 0 1,0 12.8,0a6.4,6.4 0 1,0 -12.8,0M1290.9,865.2a6.4,6.4 0 1,0 12.8,0a6.4,6.4 0 1,0 -12.8,0M1252.3,860.9a6.4,6.4 0 1,0 12.8,0a6.4,6.4 0 1,0 -12.8,0M1269.5,869.5a6.4,6.4 0 1,0 12.8,0a6.4,6.4 0 1,0 -12.8,0M1220,865.2a6.4,6.4 0 1,0 12.8,0a6.4,6.4 0 1,0 -12.8,0M1235.1,875.9a6.4,6.4 0 1,0 12.8,0a6.4,6.4 0 1,0 -12.8,0M1181.3,574a6.4,6.4 0 1,0 12.8,0a6.4,6.4 0 1,0 -12.8,0M1215.7,837.2a6.4,6.4 0 1,0 12.8,0a6.4,6.4 0 1,0 -12.8,0M1226.5,824.3a6.4,6.4 0 1,0 12.8,0a6.4,6.4 0 1,0 -12.8,0M1217.9,830.8a6.4,6.4 0 1,0 12.8,0a6.4,6.4 0 1,0 -12.8,0"/>
<path fill="#00FF00" d="M1198.5,794.3a6.4,6.4 0 1,0 12.8,0a6.4,6.4 0 1,0 -12.8,0M1209.3,821.1a6.4,6.4 0 1,0 12.8,0a6.4,6.4 0 1,0 -12.8,0M1241.5,829.7a6.4,6.4 0 1,0 12.8,0a6.4,6.4 0 1,0 -12.8,0M1178.1,838.3a6.4,6.4 0 1,0 12.8,0a6.4,6.4 0 1,0 -12.8,0M1179.2,856.6a6.4,6.4 0 1,0 12.8,0a6.4,6.4 0 1,0 -12.8,0M1173.8,771.7a6.4,6.4 0 1,0 12.8,0a6.4,6.4 0 1,0 -12.8,0M1202.8,875.9a6.4,6.4 0 1,0 12.8,0a6.4,6.4 0 1,0 -12.8,0"/>
<path fill="#000000" d="M1038.4,1023.3a6.4,6.4 0 1,0 12.8,0a6.4,6.4 0 1,0 -12.8,0M1042.7,1031.9a6.4,6.4 0 1,0 12.8,0a6.4,6.4 0 1,0 -12.8,0"/>
<path fill="#00FF00" d="M1062.1,913.7a6.4,6.4 0 1,0 12.8,0a6.4,6.4 0 1,0 -12.8,0M1075,908.4a6.4,6.4 0 1,0 12.8,0a6.4,6.4 0 1,0 -12.8,0M1084.6,899.8a6.4,6.4 0 1,0 12.8,0a6.4,6.4 0 1,0 -12.8,0M1098.6,905.1a6.4,6.4 0 1,0 12.8,0a6.4,6.4 0 1,0 -12.8,0M1083.6,935.2a6.4,6.4 0 1,0 12.8,0a6.4,6.4 0 1,0 -12.8,0M1090,946a6.4,6.4 0 1,0 12.8,0a6.4,6.4 0 1,0 -12.8,0M1084.6,962.1a6.4,6.4 0 1,0 12.8,0a6.4,6.4 0 1,0 -12.8,0M1114.7,937.4a6.4,6.4 0 1,0 12.8,0a6.4,6.4 0 1,0 -12.8,0M1124.4,944.9a6.4,6.4 0 1,0 12.8,0a6.4,6.4 0 1,0 -12.8,0M1135.1,883.6a6.4,6.4 0 1,0 12.8,0a6.4,6.4 0 1,0 -12.8,0M1139.4,871.8a6.4,6.4 0 1,0 12.8,0a6.4,6.4 0 1,0 -12.8,0M1139.4,913.7a6.4,6.4 0 1,0 12.8,0a6.4,6.4 0 1,0 -12.8,0M1154.5,941.7a6.4,6.4 0 1,0 12.8,0a6.4,6.4 0 1,0 -12.8,0M1160.9,866.4a6.4,6.4 0 1,0 12.8,0a6.4,6.4 0 1,0 -12.8,0M1156.6,899.8a6.4,6.4 0 1,0 12.8,0a6.4,6.4 0 1,0 -12.8,0M1169.5,913.7a6.4,6.4 0 1,0 12.8,0a6.4,6.4 0 1,0 -12.8,0M1120.1,895.5a6.4,6.4 0 1,0 12.8,0a6.4,6.4 0 1,0 -12.8,0M1130.8,897.6a6.4,6.4 0 1,0 12.8,0a6.4,6.4 0 1,0 -12.8,0M1107.2,866.4a6.4,6.4 0 1,0 12.8,0a6.4,6.4 0 1,0 -12.8,0M1150.2,1092.1a6.4,6.4 0 1,0 12.8,0a6.4,6.4 0 1,0 -12.8,0"/>
<path fill="#FFC0CB" d="M1042.7,894.4a6.4,6.4 0 1,0 12.8,0a6.4,6.4 0 1,0 -12.8,0M1055.6,872.9a6.4,6.4 0 1,0 12.8,0a6.4,6.4 0 1,0 -12.8,0M1102.9,898.7a6.4,6.4 0 1,0 12.8,0a6.4,6.4 0 1,0 -12.8,0M1090,930.9a6.4,6.4 0 1,0 12.8,0a6.4,6.4 0 1,0 -12.8,0M1081.4,933.1a6.4,6.4 0 1,0 12.8,0a6.4,6.4 0 1,0 -12.8,0M1133,948.1a6.4,6.4 0 1,0 12.8,0a6.4,6.4 0 1,0 -12.8,0M1120.1,868.6a6.4,6.4 0 1,0 12.8,0a6.4,6.4 0 1,0 -12.8,0M1152.3,907.3a6.4,6.4 0 1,0 12.8,0a6.4,6.4 0 1,0 -12.8,0"/>
<path fill="#0000FF" d="M1062.1,930.9a6.4,6.4 0 1,0 12.8,0a6.4,6.4 0 1,0 -12.8,0M1075,941.7a6.4,6.4 0 1,0 12.8,0a6.4,6.4 0 1,0 -12.8,0M1087.9,922.3a6.4,6.4 0 1,0 12.8,0a6.4,6.4 0 1,0 -12.8,0M1107.2,909.4a6.4,6.4 0 1,0 12.8,0a6.4,6.4 0 1,0 -12.8,0M1117.9,922.3a6.4,6.4 0 1,0 12.8,0a6.4,6.4 0 1,0 -12.8,0M1122.2,984.6a6.4,6.4 0 1,0 12.8,0a6.4,6.4 0 1,0 -12.8,0M1130.8,969.6a6.4,6.4 0 1,0 12.8,0a6.4,6.4 0 1,0 -12.8,0M1139.4,967.5a6.4,6.4 0 1,0 12.8,0a6.4,6.4 0 1,0 -12.8,0M1154.5,999.7a6.4,6.4 0 1,0 12.8,0a6.4,6.4 0 1,0 -12.8,0M1169.5,965.3a6.4,6.4 0 1,0 12.8,0a6.4,6.4 0 1,0 -12.8,0M1163.1,943.8a6.4,6.4 0 1,0 12.8,0a6.4,6.4 0 1,0 -12.8,0M1150.2,933.1a6.4,6.4 0 1,0 12.8,0a6.4,6.4 0 1,0 -12.8,0M1083.6,977.1a6.4,6.4 0 1,0 12.8,0a6.4,6.4 0 1,0 -12.8,0M1120.1,1036.2a6.4,6.4 0 1,0 12.8,0a6.4,6.4 0 1,0 -12.8,0M1115.8,1041.6a6.4,6.4 0 1,0 12.8,0a6.4,6.4 0 1,0 -12.8,0M1130.8,1054.5a6.4,6.4 0 1,0 12.8,0a6.4,6.4 0 1,0 -12.8,0M1139.4,1049.1a6.4,6.4 0 1,0 12.8,0a6.4,6.4 0 1,0 -12.8,0M1128.7,1083.5a6.4,6.4 0 1,0 12.8,0a6.4,6.4 0 1,0 -12.8,0M1160.9,1113.6a6.4,6.4 0 1,0 12.8,0a6.4,6.4 0 1,0 -12.8,0M1111.5,885.8a6.4,6.4 0 1,0 12.8,0a6.4,6.4 0 1,0 -12.8,0M1079.3,892.2a6.4,6.4 0 1,0 12.8,0a6.4,6.4 0 1,0 -12.8,0"/>
<path fill="#FF0000" d="M1025.5,900.8a6.4,6.4 0 1,0 12.8,0a6.4,6.4 0 1,0 -12.8,0M1032,881.5a6.4,6.4 0 1,0 12.8,0a6.4,6.4 0 1,0 -12.8,0M1133,993.2a6.4,6.4 0 1,0 12.8,0a6.4,6.4 0 1,0 -12.8,0M1148,1004a6.4,6.4 0 1,0 12.8,0a6.4,6.4 0 1,0 -12.8,0M1102.9,1001.8a6.4,6.4 0 1,0 12.8,0a6.4,6.4 0 1,0 -12.8,0M1100.7,1029.8a6.4,6.4 0 1,0 12.8,0a6.4,6.4 0 1,0 -12.8,0M1115.8,1025.5a6.4,6.4 0 1,0 12.8,0a6.4,6.4 0 1,0 -12.8,0M1135.1,1019a6.4,6.4 0 1,0 12.8,0a6.4,6.4 0 1,0 -12.8,0M1167.4,1031.9a6.4,6.4 0 1,0 12.8,0a6.4,6.4 0 1,0 -12.8,0M1120.1,1069.5a6.4,6.4 0 1,0 12.8,0a6.4,6.4 0 1,0 -12.8,0M1160.9,1145.8a6.4,6.4 0 1,0 12.8,0a6.4,6.4 0 1,0 -12.8,0M1085.7,1058.8a6.4,6.4 0 1,0 12.8,0a6.4,6.4 0 1,0 -12.8,0M1092.1,1069.5a6.4,6.4 0 1,0 12.8,0a6.4,6.4 0 1,0 -12.8,0M1098.6,1081.4a6.4,6.4 0 1,0 12.8,0a6.4,6.4 0 1,0 -12.8,0M1107.2,1102.8a6.4,6.4 0 1,0 12.8,0a6.4,6.4 0 1,0 -12.8,0M1122.2,1132.9a6.4,6.4 0 1,0 12.8,0a6.4,6.4 0 1,0 -12.8,0M1165.2,950.3a6.4,6.4 0 1,0 12.8,0a6.4,6.4 0 1,0 -12.8,0M1171.7,1096.4a6.4,6.4 0 1,0 12.8,0a6.4,6.4 0 1,0 -12.8,0"/>
<path fill="#FFFF00" d="M1023.4,934.1a6.4,6.4 0 1,0 12.8,0a6.4,6.4 0 1,0 -12.8,0M1068.5,965.3a6.4,6.4 0 1,0 12.8,0a6.4,6.4 0 1,0 -12.8,0M1130.8,1004a6.4,6.4 0 1,0 12.8,0a6.4,6.4 0 1,0 -12.8,0M1081.4,1049.1a6.4,6.4 0 1,0 12.8,0a6.4,6.4 0 1,0 -12.8,0M1135.1,1156.6a6.4,6.4 0 1,0 12.8,0a6.4,6.4 0 1,0 -12.8,0M1141.6,1171.6a6.4,6.4 0 1,0 12.8,0a6.4,6.4 0 1,0 -12.8,0M1168.4,1163a6.4,6.4 0 1,0 12.8,0a6.4,6.4 0 1,0 -12.8,0M1171.7,1094.3a6.4,6.4 0 1,0 12.8,0a6.4,6.4 0 1,0 -12.8,0M1163.1,1074.9a6.4,6.4 0 1,0 12.8,0a6.4,6.4 0 1,0 -12.8,0M1111.5,1047a6.4,6.4 0 1,0 12.8,0a6.4,6.4 0 1,0 -12.8,0M1124.4,1077.1a6.4,6.4 0 1,0 12.8,0a6.4,6.4 0 1,0 -12.8,0M1135.1,1100.7a6.4,6.4 0 1,0 12.8,0a6.4,6.4 0 1,0 -12.8,0M1154.5,1083.5a6.4,6.4 0 1,0 12.8,0a6.4,6.4 0 1,0 -12.8,0"/>
<path fill="#A020F0" d="M1034.1,953.5a6.4,6.4 0 1,0 12.8,0a6.4,6.4 0 1,0 -12.8,0M1055.6,997.5a6.4,6.4 0 1,0 12.8,0a6.4,6.4 0 1,0 -12.8,0M1072.8,1034.1a6.4,6.4 0 1,0 12.8,0a6.4,6.4 0 1,0 -12.8,0M1113.6,1117.9a6.4,6.4 0 1,0 12.8,0a6.4,6.4 0 1,0 -12.8,0M1130.8,1148a6.4,6.4 0 1,0 12.8,0a6.4,6.4 0 1,0 -12.8,0M1036.3,922.3a6.4,6.4 0 1,0 12.8,0a6.4,6.4 0 1,0 -12.8,0M1042.7,935.2a6.4,6.4 0 1,0 12.8,0a6.4,6.4 0 1,0 -12.8,0M1068.5,1081.4a6.4,6.4 0 1,0 12.8,0a6.4,6.4 0 1,0 -12.8,0M1081.4,1107.1a6.4,6.4 0 1,0 12.8,0a6.4,6.4 0 1,0 -12.8,0M1079.3,986.8a6.4,6.4 0 1,0 12.8,0a6.4,6.4 0 1,0 -12.8,0M1094.3,1019a6.4,6.4 0 1,0 12.8,0a6.4,6.4 0 1,0 -12.8,0M1090,1031.9a6.4,6.4 0 1,0 12.8,0a6.4,6.4 0 1,0 -12.8,0M1115.8,1175.9a6.4,6.4 0 1,0 12.8,0a6.4,6.4 0 1,0 -12.8,0M1148,1175.9a6.4,6.4 0 1,0 12.8,0a6.4,6.4 0 1,0 -12.8,0M1154.5,1102.8a6.4,6.4 0 1,0 12.8,0a6.4,6.4 0 1,0 -12.8,0M1167.4,1126.5a6.4,6.4 0 1,0 12.8,0a6.4,6.4 0 1,0 -12.8,0M1143.7,1113.6a6.4,6.4 0 1,0 12.8,0a6.4,6.4 0 1,0 -12.8,0"/>
<path fill="#000000" d="M1055.6,965.3a6.4,6.4 0 1,0 12.8,0a6.4,6.4 0 1,0 -12.8,0M1065.3,984.6a6.4,6.4 0 1,0 12.8,0a6.4,6.4 0 1,0 -12.8,0M1077.1,1008.3a6.4,6.4 0 1,0 12.8,0a6.4,6.4 0 1,0 -12.8,0M1084.6,997.5a6.4,6.4 0 1,0 12.8,0a6.4,6.4 0 1,0 -12.8,0M1137.3,1107.1a6.4,6.4 0 1,0 12.8,0a6.4,6.4 0 1,0 -12.8,0M1169.5,1139.4a6.4,6.4 0 1,0 12.8,0a6.4,6.4 0 1,0 -12.8,0"/>
<path fill="#A020F0" d="M1297.4,863.2a6.4,6.4 0 1,0 12.8,0a6.4,6.4 0 1,0 -12.8,0M1311.4,884.7a6.4,6.4 0 1,0 12.8,0a6.4,6.4 0 1,0 -12.8,0M1332.9,894.4a6.4,6.4 0 1,0 12.8,0a6.4,6.4 0 1,0 -12.8,0M1323.2,907.3a6.4,6.4 0 1,0 12.8,0a6.4,6.4 0 1,0 -12.8,0M1298.5,917a6.4,6.4 0 1,0 12.8,0a6.4,6.4 0 1,0 -12.8,0M1308.1,947a6.4,6.4 0 1,0 12.8,0a6.4,6.4 0 1,0 -12.8,0M1303.8,952.4a6.4,6.4 0 1,0 12.8,0a6.4,6.4 0 1,0 -12.8,0M1321,954.6a6.4,6.4 0 1,0 12.8,0a6.4,6.4 0 1,0 -12.8,0M1324.3,963.2a6.4,6.4 0 1,0 12.8,0a6.4,6.4 0 1,0 -12.8,0M1311.4,970.7a6.4,6.4 0 1,0 12.8,0a6.4,6.4 0 1,0 -12.8,0M1299.5,976.1a6.4,6.4 0 1,0 12.8,0a6.4,6.4 0 1,0 -12.8,0M1284.5,984.6a6.4,6.4 0 1,0 12.8,0a6.4,6.4 0 1,0 -12.8,0M1268.4,988.9a6.4,6.4 0 1,0 12.8,0a6.4,6.4 0 1,0 -12.8,0M1255.5,990a6.4,6.4 0 1,0 12.8,0a6.4,6.4 0 1,0 -12.8,0M1263,993.2a6.4,6.4 0 1,0 12.8,0a6.4,6.4 0 1,0 -12.8,0M1283.4,981.4a6.4,6.4 0 1,0 12.8,0a6.4,6.4 0 1,0 -12.8,0M1249,971.8a6.4,6.4 0 1,0 12.8,0a6.4,6.4 0 1,0 -12.8,0M1343.6,998.6a6.4,6.4 0 1,0 12.8,0a6.4,6.4 0 1,0 -12.8,0M1395.2,973.3a6.4,6.4 0 1,0 12.8,0a6.4,6.4 0 1,0 -12.8,0M1253.3,1009.4a6.4,6.4 0 1,0 12.8,0a6.4,6.4 0 1,0 -12.8,0M1243.7,1021.2a6.4,6.4 0 1,0 12.8,0a6.4,6.4 0 1,0 -12.8,0M1228.6,1025.5a6.4,6.4 0 1,0 12.8,0a6.4,6.4 0 1,0 -12.8,0M1222.2,1042.7a6.4,6.4 0 1,0 12.8,0a6.4,6.4 0 1,0 -12.8,0M1205,1044.8a6.4,6.4 0 1,0 12.8,0a6.4,6.4 0 1,0 -12.8,0M1192.1,1034.1a6.4,6.4 0 1,0 12.8,0a6.4,6.4 0 1,0 -12.8,0M1179.2,1038.4a6.4,6.4 0 1,0 12.8,0a6.4,6.4 0 1,0 -12.8,0M1174.9,1051.3a6.4,6.4 0 1,0 12.8,0a6.4,6.4 0 1,0 -12.8,0M1226.5,1073.8a6.4,6.4 0 1,0 12.8,0a6.4,6.4 0 1,0 -12.8,0M1222.2,1076a6.4,6.4 0 1,0 12.8,0a6.4,6.4 0 1,0 -12.8,0M1176,1074.9a6.4,6.4 0 1,0 12.8,0a6.4,6.4 0 1,0 -12.8,0M1181.3,1095.3a6.4,6.4 0 1,0 12.8,0a6.4,6.4 0 1,0 -12.8,0M1188.9,1097.5a6.4,6.4 0 1,0 12.8,0a6.4,6.4 0 1,0 -12.8,0M1176,1120a6.4,6.4 0 1,0 12.8,0a6.4,6.4 0 1,0 -12.8,0M1172.7,1132.9a6.4,6.4 0 1,0 12.8,0a6.4,6.4 0 1,0 -12.8,0M1177,1145.8a6.4,6.4 0 1,0 12.8,0a6.4,6.4 0 1,0 -12.8,0M1186.7,1165.2a6.4,6.4 0 1,0 12.8,0a6.4,6.4 0 1,0 -12.8,0M1217.9,1014.7a6.4,6.4 0 1,0 12.8,0a6.4,6.4 0 1,0 -12.8,0M1209.3,1008.3a6.4,6.4 0 1,0 12.8,0a6.4,6.4 0 1,0 -12.8,0M1200.7,1021.2a6.4,6.4 0 1,0 12.8,0a6.4,6.4 0 1,0 -12.8,0M1183.5,1006.1a6.4,6.4 0 1,0 12.8,0a6.4,6.4 0 1,0 -12.8,0M1192.1,999.7a6.4,6.4 0 1,0 12.8,0a6.4,6.4 0 1,0 -12.8,0M1179.2,993.2a6.4,6.4 0 1,0 12.8,0a6.4,6.4 0 1,0 -12.8,0M1239.4,999.7a6.4,6.4 0 1,0 12.8,0a6.4,6.4 0 1,0 -12.8,0M1232.9,993.2a6.4,6.4 0 1,0 12.8,0a6.4,6.4 0 1,0 -12.8,0M1269.5,879.3a6.4,6.4 0 1,0 12.8,0a6.4,6.4 0 1,0 -12.8,0M1278.1,890.1a6.4,6.4 0 1,0 12.8,0a6.4,6.4 0 1,0 -12.8,0M1282.4,903a6.4,6.4 0 1,0 12.8,0a6.4,6.4 0 1,0 -12.8,0M1260.9,892.2a6.4,6.4 0 1,0 12.8,0a6.4,6.4 0 1,0 -12.8,0M1256.6,913.7a6.4,6.4 0 1,0 12.8,0a6.4,6.4 0 1,0 -12.8,0M1245.8,885.8a6.4,6.4 0 1,0 12.8,0a6.4,6.4 0 1,0 -12.8,0M1230.8,877.2a6.4,6.4 0 1,0 12.8,0a6.4,6.4 0 1,0 -12.8,0M1224.3,864.3a6.4,6.4 0 1,0 12.8,0a6.4,6.4 0 1,0 -12.8,0M1241.5,866.4a6.4,6.4 0 1,0 12.8,0a6.4,6.4 0 1,0 -12.8,0M1252.3,872.9a6.4,6.4 0 1,0 12.8,0a6.4,6.4 0 1,0 -12.8,0"/>
<path fill="#FFFF00" d="M1361.9,881.5a6.4,6.4 0 1,0 12.8,0a6.4,6.4 0 1,0 -12.8,0M1349,886.9a6.4,6.4 0 1,0 12.8,0a6.4,6.4 0 1,0 -12.8,0M1349,898.7a6.4,6.4 0 1,0 12.8,0a6.4,6.4 0 1,0 -12.8,0M1360.8,921.2a6.4,6.4 0 1,0 12.8,0a6.4,6.4 0 1,0 -12.8,0M1358.6,932a6.4,6.4 0 1,0 12.8,0a6.4,6.4 0 1,0 -12.8,0M1286.7,876.1a6.4,6.4 0 1,0 12.8,0a6.4,6.4 0 1,0 -12.8,0M1312.4,898.7a6.4,6.4 0 1,0 12.8,0a6.4,6.4 0 1,0 -12.8,0M1325.3,894.4a6.4,6.4 0 1,0 12.8,0a6.4,6.4 0 1,0 -12.8,0M1288.8,944.9a6.4,6.4 0 1,0 12.8,0a6.4,6.4 0 1,0 -12.8,0M1294.2,946a6.4,6.4 0 1,0 12.8,0a6.4,6.4 0 1,0 -12.8,0M1282.4,973.9a6.4,6.4 0 1,0 12.8,0a6.4,6.4 0 1,0 -12.8,0M1295.2,971.8a6.4,6.4 0 1,0 12.8,0a6.4,6.4 0 1,0 -12.8,0M1267.3,964.2a6.4,6.4 0 1,0 12.8,0a6.4,6.4 0 1,0 -12.8,0M1241.5,963.2a6.4,6.4 0 1,0 12.8,0a6.4,6.4 0 1,0 -12.8,0M1381.2,969.6a6.4,6.4 0 1,0 12.8,0a6.4,6.4 0 1,0 -12.8,0M1258.7,1022.3a6.4,6.4 0 1,0 12.8,0a6.4,6.4 0 1,0 -12.8,0M1303.8,1038.4a6.4,6.4 0 1,0 12.8,0a6.4,6.4 0 1,0 -12.8,0M1306,1062a6.4,6.4 0 1,0 12.8,0a6.4,6.4 0 1,0 -12.8,0M1279.1,1073.8a6.4,6.4 0 1,0 12.8,0a6.4,6.4 0 1,0 -12.8,0M1256.6,1055.6a6.4,6.4 0 1,0 12.8,0a6.4,6.4 0 1,0 -12.8,0M1248,1051.3a6.4,6.4 0 1,0 12.8,0a6.4,6.4 0 1,0 -12.8,0M1225.4,1054.5a6.4,6.4 0 1,0 12.8,0a6.4,6.4 0 1,0 -12.8,0M1202.8,1054.5a6.4,6.4 0 1,0 12.8,0a6.4,6.4 0 1,0 -12.8,0M1186.7,1055.6a6.4,6.4 0 1,0 12.8,0a6.4,6.4 0 1,0 -12.8,0M1237.2,1025.5a6.4,6.4 0 1,0 12.8,0a6.4,6.4 0 1,0 -12.8,0M1202.8,1093.2a6.4,6.4 0 1,0 12.8,0a6.4,6.4 0 1,0 -12.8,0M1194.2,1102.8a6.4,6.4 0 1,0 12.8,0a6.4,6.4 0 1,0 -12.8,0M1188.9,1126.5a6.4,6.4 0 1,0 12.8,0a6.4,6.4 0 1,0 -12.8,0M1193.2,1135.1a6.4,6.4 0 1,0 12.8,0a6.4,6.4 0 1,0 -12.8,0M1209.3,1138.3a6.4,6.4 0 1,0 12.8,0a6.4,6.4 0 1,0 -12.8,0M1170.6,1163a6.4,6.4 0 1,0 12.8,0a6.4,6.4 0 1,0 -12.8,0M1222.2,1070.6a6.4,6.4 0 1,0 12.8,0a6.4,6.4 0 1,0 -12.8,0M1170.6,1107.1a6.4,6.4 0 1,0 12.8,0a6.4,6.4 0 1,0 -12.8,0M1174.9,1008.3a6.4,6.4 0 1,0 12.8,0a6.4,6.4 0 1,0 -12.8,0M1170.6,999.7a6.4,6.4 0 1,0 12.8,0a6.4,6.4 0 1,0 -12.8,0M1250.1,997.5a6.4,6.4 0 1,0 12.8,0a6.4,6.4 0 1,0 -12.8,0M1278.1,922.3a6.4,6.4 0 1,0 12.8,0a6.4,6.4 0 1,0 -12.8,0"/>
<path fill="#000000" d="M1270.5,860a6.4,6.4 0 1,0 12.8,0a6.4,6.4 0 1,0 -12.8,0M1298.5,890.1a6.4,6.4 0 1,0 12.8,0a6.4,6.4 0 1,0 -12.8,0M1312.4,892.2a6.4,6.4 0 1,0 12.8,0a6.4,6.4 0 1,0 -12.8,0M1310.3,943.8a6.4,6.4 0 1,0 12.8,0a6.4,6.4 0 1,0 -12.8,0M1329.6,965.3a6.4,6.4 0 1,0 12.8,0a6.4,6.4 0 1,0 -12.8,0M1208.2,997.5a6.4,6.4 0 1,0 12.8,0a6.4,6.4 0 1,0 -12.8,0M1181.3,1021.2a6.4,6.4 0 1,0 12.8,0a6.4,6.4 0 1,0 -12.8,0M1215.7,1050.2a6.4,6.4 0 1,0 12.8,0a6.4,6.4 0 1,0 -12.8,0M1250.1,1054.5a6.4,6.4 0 1,0 12.8,0a6.4,6.4 0 1,0 -12.8,0M1180.3,1078.1a6.4,6.4 0 1,0 12.8,0a6.4,6.4 0 1,0 -12.8,0M1194.2,1079.2a6.4,6.4 0 1,0 12.8,0a6.4,6.4 0 1,0 -12.8,0M1222.2,1128.6a6.4,6.4 0 1,0 12.8,0a6.4,6.4 0 1,0 -12.8,0M1197.5,1145.8a6.4,6.4 0 1,0 12.8,0a6.4,6.4 0 1,0 -12.8,0M1195.3,1150.1a6.4,6.4 0 1,0 12.8,0a6.4,6.4 0 1,0 -12.8,0M1181.3,1153.4a6.4,6.4 0 1,0 12.8,0a6.4,6.4 0 1,0 -12.8,0M1172.7,1135.1a6.4,6.4 0 1,0 12.8,0a6.4,6.4 0 1,0 -12.8,0"/>
<path fill="#FF0000" d="M1216.8,878.3a6.4,6.4 0 1,0 12.8,0a6.4,6.4 0 1,0 -12.8,0M1293.1,913.7a6.4,6.4 0 1,0 12.8,0a6.4,6.4 0 1,0 -12.8,0M1269.5,951.3a6.4,6.4 0 1,0 12.8,0a6.4,6.4 0 1,0 -12.8,0M1178.1,952.4a6.4,6.4 0 1,0 12.8,0a6.4,6.4 0 1,0 -12.8,0M1227.6,978.2a6.4,6.4 0 1,0 12.8,0a6.4,6.4 0 1,0 -12.8,0M1195.3,1050.2a6.4,6.4 0 1,0 12.8,0a6.4,6.4 0 1,0 -12.8,0M1251.2,1128.6a6.4,6.4 0 1,0 12.8,0a6.4,6.4 0 1,0 -12.8,0M1170.6,924.5a6.4,6.4 0 1,0 12.8,0a6.4,6.4 0 1,0 -12.8,0M1170.6,1034.1a6.4,6.4 0 1,0 12.8,0a6.4,6.4 0 1,0 -12.8,0M1192.1,906.2a6.4,6.4 0 1,0 12.8,0a6.4,6.4 0 1,0 -12.8,0M1202.8,906.2a6.4,6.4 0 1,0 12.8,0a6.4,6.4 0 1,0 -12.8,0M1209.3,909.4a6.4,6.4 0 1,0 12.8,0a6.4,6.4 0 1,0 -12.8,0M1183.5,887.9a6.4,6.4 0 1,0 12.8,0a6.4,6.4 0 1,0 -12.8,0M1194.2,885.8a6.4,6.4 0 1,0 12.8,0a6.4,6.4 0 1,0 -12.8,0"/>
<path fill="#0000FF" d="M1192.1,863.2a6.4,6.4 0 1,0 12.8,0a6.4,6.4 0 1,0 -12.8,0M1180.3,879.3a6.4,6.4 0 1,0 12.8,0a6.4,6.4 0 1,0 -12.8,0M1187.8,877.2a6.4,6.4 0 1,0 12.8,0a6.4,6.4 0 1,0 -12.8,0M1216.8,895.5a6.4,6.4 0 1,0 12.8,0a6.4,6.4 0 1,0 -12.8,0M1217.9,908.4a6.4,6.4 0 1,0 12.8,0a6.4,6.4 0 1,0 -12.8,0M1238.3,909.4a6.4,6.4 0 1,0 12.8,0a6.4,6.4 0 1,0 -12.8,0M1265.2,907.3a6.4,6.4 0 1,0 12.8,0a6.4,6.4 0 1,0 -12.8,0M1226.5,921.2a6.4,6.4 0 1,0 12.8,0a6.4,6.4 0 1,0 -12.8,0M1231.8,932a6.4,6.4 0 1,0 12.8,0a6.4,6.4 0 1,0 -12.8,0M1245.8,939.5a6.4,6.4 0 1,0 12.8,0a6.4,6.4 0 1,0 -12.8,0M1275.9,951.3a6.4,6.4 0 1,0 12.8,0a6.4,6.4 0 1,0 -12.8,0M1174.9,965.3a6.4,6.4 0 1,0 12.8,0a6.4,6.4 0 1,0 -12.8,0M1193.2,1011.5a6.4,6.4 0 1,0 12.8,0a6.4,6.4 0 1,0 -12.8,0M1257.6,1150.1a6.4,6.4 0 1,0 12.8,0a6.4,6.4 0 1,0 -12.8,0M1172.7,900.8a6.4,6.4 0 1,0 12.8,0a6.4,6.4 0 1,0 -12.8,0"/>
<path fill="#00FF00" d="M1177,866.4a6.4,6.4 0 1,0 12.8,0a6.4,6.4 0 1,0 -12.8,0M1202.8,879.3a6.4,6.4 0 1,0 12.8,0a6.4,6.4 0 1,0 -12.8,0M1173.8,913.7a6.4,6.4 0 1,0 12.8,0a6.4,6.4 0 1,0 -12.8,0M1177,973.9a6.4,6.4 0 1,0 12.8,0a6.4,6.4 0 1,0 -12.8,0M1213.6,988.9a6.4,6.4 0 1,0 12.8,0a6.4,6.4 0 1,0 -12.8,0"/>
<path fill="#A020F0" d="M1130.7,1146.4a6.4,6.4 0 1,0 12.8,0a6.4,6.4 0 1,0 -12.8,0M1161.7,1150.7a6.4,6.4 0 1,0 12.8,0a6.4,6.4 0 1,0 -12.8,0M1176.7,1145.3a6.4,6.4 0 1,0 12.8,0a6.4,6.4 0 1,0 -12.8,0M1187.4,1165.7a6.4,6.4 0 1,0 12.8,0a6.4,6.4 0 1,0 -12.8,0M1116.8,1177.4a6.4,6.4 0 1,0 12.8,0a6.4,6.4 0 1,0 -12.8,0M1146.7,1178.5a6.4,6.4 0 1,0 12.8,0a6.4,6.4 0 1,0 -12.8,0M1151,1187a6.4,6.4 0 1,0 12.8,0a6.4,6.4 0 1,0 -12.8,0M1155.3,1196.6a6.4,6.4 0 1,0 12.8,0a6.4,6.4 0 1,0 -12.8,0M1161.7,1208.4a6.4,6.4 0 1,0 12.8,0a6.4,6.4 0 1,0 -12.8,0M1137.1,1217a6.4,6.4 0 1,0 12.8,0a6.4,6.4 0 1,0 -12.8,0M1219.4,1186a6.4,6.4 0 1,0 12.8,0a6.4,6.4 0 1,0 -12.8,0M1236.5,1220.2a6.4,6.4 0 1,0 12.8,0a6.4,6.4 0 1,0 -12.8,0"/>
<path fill="#FFFF00" d="M1135,1156a6.4,6.4 0 1,0 12.8,0a6.4,6.4 0 1,0 -12.8,0M1169.2,1164.6a6.4,6.4 0 1,0 12.8,0a6.4,6.4 0 1,0 -12.8,0M1143.5,1171a6.4,6.4 0 1,0 12.8,0a6.4,6.4 0 1,0 -12.8,0M1185.2,1195.6a6.4,6.4 0 1,0 12.8,0a6.4,6.4 0 1,0 -12.8,0M1168.1,1221.2a6.4,6.4 0 1,0 12.8,0a6.4,6.4 0 1,0 -12.8,0M1199.1,1223.4a6.4,6.4 0 1,0 12.8,0a6.4,6.4 0 1,0 -12.8,0M1154.2,1251.2a6.4,6.4 0 1,0 12.8,0a6.4,6.4 0 1,0 -12.8,0M1182,1246.9a6.4,6.4 0 1,0 12.8,0a6.4,6.4 0 1,0 -12.8,0M1222.6,1268.3a6.4,6.4 0 1,0 12.8,0a6.4,6.4 0 1,0 -12.8,0M1252.6,1251.2a6.4,6.4 0 1,0 12.8,0a6.4,6.4 0 1,0 -12.8,0M1290,1312.1a6.4,6.4 0 1,0 12.8,0a6.4,6.4 0 1,0 -12.8,0M1208.7,1141.1a6.4,6.4 0 1,0 12.8,0a6.4,6.4 0 1,0 -12.8,0"/>
<path fill="#000000" d="M1180.9,1153.9a6.4,6.4 0 1,0 12.8,0a6.4,6.4 0 1,0 -12.8,0M1195.9,1149.6a6.4,6.4 0 1,0 12.8,0a6.4,6.4 0 1,0 -12.8,0M1198,1145.3a6.4,6.4 0 1,0 12.8,0a6.4,6.4 0 1,0 -12.8,0M1182,1189.2a6.4,6.4 0 1,0 12.8,0a6.4,6.4 0 1,0 -12.8,0M1261.1,1199.9a6.4,6.4 0 1,0 12.8,0a6.4,6.4 0 1,0 -12.8,0M1184.2,1252.2a6.4,6.4 0 1,0 12.8,0a6.4,6.4 0 1,0 -12.8,0M1290,1270.4a6.4,6.4 0 1,0 12.8,0a6.4,6.4 0 1,0 -12.8,0M1234.4,1350.6a6.4,6.4 0 1,0 12.8,0a6.4,6.4 0 1,0 -12.8,0M1166,1220.2a6.4,6.4 0 1,0 12.8,0a6.4,6.4 0 1,0 -12.8,0M1170.3,1140a6.4,6.4 0 1,0 12.8,0a6.4,6.4 0 1,0 -12.8,0"/>
<path fill="#FF0000" d="M1159.6,1146.4a6.4,6.4 0 1,0 12.8,0a6.4,6.4 0 1,0 -12.8,0"/>
<path fill="#0000FF" d="M1257.9,1149.6a6.4,6.4 0 1,0 12.8,0a6.4,6.4 0 1,0 -12.8,0"/>
<path fill="#000000" d="M1318.1,1309.9a6.4,6.4 0 1,0 12.8,0a6.4,6.4 0 1,0 -12.8,0M1347,1297.8a6.4,6.4 0 1,0 12.8,0a6.4,6.4 0 1,0 -12.8,0M1365.5,1287.9a6.4,6.4 0 1,0 12.8,0a6.4,6.4 0 1,0 -12.8,0"/>
<path fill="#FFFF00" d="M1381.2,1305.7a6.4,6.4 0 1,0 12.8,0a6.4,6.4 0 1,0 -12.8,0M1390.8,1292.4a6.4,6.4 0 1,0 12.8,0a6.4,6.4 0 1,0 -12.8,0"/>
<path fill="#FFC0CB" d="M1068.8,832.4a6.4,6.4 0 1,0 12.8,0a6.4,6.4 0 1,0 -12.8,0M1083.9,810.9a6.4,6.4 0 1,0 12.8,0a6.4,6.4 0 1,0 -12.8,0M1096.8,808.8a6.4,6.4 0 1,0 12.8,0a6.4,6.4 0 1,0 -12.8,0M1113.9,800.2a6.4,6.4 0 1,0 12.8,0a6.4,6.4 0 1,0 -12.8,0M1122.5,783a6.4,6.4 0 1,0 12.8,0a6.4,6.4 0 1,0 -12.8,0M1133.3,778.7a6.4,6.4 0 1,0 12.8,0a6.4,6.4 0 1,0 -12.8,0M1144,783a6.4,6.4 0 1,0 12.8,0a6.4,6.4 0 1,0 -12.8,0M1150.5,763.6a6.4,6.4 0 1,0 12.8,0a6.4,6.4 0 1,0 -12.8,0M1159.1,787.3a6.4,6.4 0 1,0 12.8,0a6.4,6.4 0 1,0 -12.8,0M1131.1,804.5a6.4,6.4 0 1,0 12.8,0a6.4,6.4 0 1,0 -12.8,0M1141.9,851.8a6.4,6.4 0 1,0 12.8,0a6.4,6.4 0 1,0 -12.8,0M1120.4,868.9a6.4,6.4 0 1,0 12.8,0a6.4,6.4 0 1,0 -12.8,0M1105.4,896.9a6.4,6.4 0 1,0 12.8,0a6.4,6.4 0 1,0 -12.8,0M1088.2,929.1a6.4,6.4 0 1,0 12.8,0a6.4,6.4 0 1,0 -12.8,0M1079.6,929.1a6.4,6.4 0 1,0 12.8,0a6.4,6.4 0 1,0 -12.8,0M1133.3,947.4a6.4,6.4 0 1,0 12.8,0a6.4,6.4 0 1,0 -12.8,0M1208.5,857.1a6.4,6.4 0 1,0 12.8,0a6.4,6.4 0 1,0 -12.8,0M1053.8,873.2a6.4,6.4 0 1,0 12.8,0a6.4,6.4 0 1,0 -12.8,0M1043,892.6a6.4,6.4 0 1,0 12.8,0a6.4,6.4 0 1,0 -12.8,0M1064.5,843.2a6.4,6.4 0 1,0 12.8,0a6.4,6.4 0 1,0 -12.8,0M1075.3,851.8a6.4,6.4 0 1,0 12.8,0a6.4,6.4 0 1,0 -12.8,0M1113.9,860.3a6.4,6.4 0 1,0 12.8,0a6.4,6.4 0 1,0 -12.8,0M1126.8,868.9a6.4,6.4 0 1,0 12.8,0a6.4,6.4 0 1,0 -12.8,0"/>
<path fill="#0000FF" d="M1028,841a6.4,6.4 0 1,0 12.8,0a6.4,6.4 0 1,0 -12.8,0M1066.7,785.1a6.4,6.4 0 1,0 12.8,0a6.4,6.4 0 1,0 -12.8,0M1111.8,752.9a6.4,6.4 0 1,0 12.8,0a6.4,6.4 0 1,0 -12.8,0M1152.6,752.9a6.4,6.4 0 1,0 12.8,0a6.4,6.4 0 1,0 -12.8,0M1172,765.8a6.4,6.4 0 1,0 12.8,0a6.4,6.4 0 1,0 -12.8,0M1178.4,787.3a6.4,6.4 0 1,0 12.8,0a6.4,6.4 0 1,0 -12.8,0M1208.5,783a6.4,6.4 0 1,0 12.8,0a6.4,6.4 0 1,0 -12.8,0M1184.9,810.9a6.4,6.4 0 1,0 12.8,0a6.4,6.4 0 1,0 -12.8,0M1206.4,804.5a6.4,6.4 0 1,0 12.8,0a6.4,6.4 0 1,0 -12.8,0M1126.8,815.2a6.4,6.4 0 1,0 12.8,0a6.4,6.4 0 1,0 -12.8,0M1129,828.1a6.4,6.4 0 1,0 12.8,0a6.4,6.4 0 1,0 -12.8,0M1105.4,864.6a6.4,6.4 0 1,0 12.8,0a6.4,6.4 0 1,0 -12.8,0M1116.1,879.7a6.4,6.4 0 1,0 12.8,0a6.4,6.4 0 1,0 -12.8,0M1126.8,873.2a6.4,6.4 0 1,0 12.8,0a6.4,6.4 0 1,0 -12.8,0M1144,873.2a6.4,6.4 0 1,0 12.8,0a6.4,6.4 0 1,0 -12.8,0M1159.1,843.2a6.4,6.4 0 1,0 12.8,0a6.4,6.4 0 1,0 -12.8,0M1178.4,841a6.4,6.4 0 1,0 12.8,0a6.4,6.4 0 1,0 -12.8,0M1193.5,864.6a6.4,6.4 0 1,0 12.8,0a6.4,6.4 0 1,0 -12.8,0M1187,877.5a6.4,6.4 0 1,0 12.8,0a6.4,6.4 0 1,0 -12.8,0M1178.4,881.8a6.4,6.4 0 1,0 12.8,0a6.4,6.4 0 1,0 -12.8,0M1172,899a6.4,6.4 0 1,0 12.8,0a6.4,6.4 0 1,0 -12.8,0M1217.1,894.7a6.4,6.4 0 1,0 12.8,0a6.4,6.4 0 1,0 -12.8,0M1217.1,907.6a6.4,6.4 0 1,0 12.8,0a6.4,6.4 0 1,0 -12.8,0M1225.7,920.5a6.4,6.4 0 1,0 12.8,0a6.4,6.4 0 1,0 -12.8,0M1232.1,931.3a6.4,6.4 0 1,0 12.8,0a6.4,6.4 0 1,0 -12.8,0M1245,937.7a6.4,6.4 0 1,0 12.8,0a6.4,6.4 0 1,0 -12.8,0M1238.6,907.6a6.4,6.4 0 1,0 12.8,0a6.4,6.4 0 1,0 -12.8,0M1264.4,907.6a6.4,6.4 0 1,0 12.8,0a6.4,6.4 0 1,0 -12.8,0M1275.1,950.6a6.4,6.4 0 1,0 12.8,0a6.4,6.4 0 1,0 -12.8,0M1270.8,826a6.4,6.4 0 1,0 12.8,0a6.4,6.4 0 1,0 -12.8,0M1257.9,847.5a6.4,6.4 0 1,0 12.8,0a6.4,6.4 0 1,0 -12.8,0M1113.9,922.7a6.4,6.4 0 1,0 12.8,0a6.4,6.4 0 1,0 -12.8,0M1116.1,916.2a6.4,6.4 0 1,0 12.8,0a6.4,6.4 0 1,0 -12.8,0M1062.4,929.1a6.4,6.4 0 1,0 12.8,0a6.4,6.4 0 1,0 -12.8,0M1075.3,942a6.4,6.4 0 1,0 12.8,0a6.4,6.4 0 1,0 -12.8,0M1086,922.7a6.4,6.4 0 1,0 12.8,0a6.4,6.4 0 1,0 -12.8,0M1152.6,929.1a6.4,6.4 0 1,0 12.8,0a6.4,6.4 0 1,0 -12.8,0M1156.9,942a6.4,6.4 0 1,0 12.8,0a6.4,6.4 0 1,0 -12.8,0M1174.1,965.7a6.4,6.4 0 1,0 12.8,0a6.4,6.4 0 1,0 -12.8,0M1133.3,967.8a6.4,6.4 0 1,0 12.8,0a6.4,6.4 0 1,0 -12.8,0M1139.7,965.7a6.4,6.4 0 1,0 12.8,0a6.4,6.4 0 1,0 -12.8,0M1122.5,985a6.4,6.4 0 1,0 12.8,0a6.4,6.4 0 1,0 -12.8,0M1083.9,976.4a6.4,6.4 0 1,0 12.8,0a6.4,6.4 0 1,0 -12.8,0M1154.8,1000a6.4,6.4 0 1,0 12.8,0a6.4,6.4 0 1,0 -12.8,0M1193.5,1010.8a6.4,6.4 0 1,0 12.8,0a6.4,6.4 0 1,0 -12.8,0M1116.1,1036.6a6.4,6.4 0 1,0 12.8,0a6.4,6.4 0 1,0 -12.8,0M1135.4,1049.5a6.4,6.4 0 1,0 12.8,0a6.4,6.4 0 1,0 -12.8,0M1139.7,1047.3a6.4,6.4 0 1,0 12.8,0a6.4,6.4 0 1,0 -12.8,0M1094.6,864.6a6.4,6.4 0 1,0 12.8,0a6.4,6.4 0 1,0 -12.8,0M1083.9,843.2a6.4,6.4 0 1,0 12.8,0a6.4,6.4 0 1,0 -12.8,0M1101.1,832.4a6.4,6.4 0 1,0 12.8,0a6.4,6.4 0 1,0 -12.8,0"/>
<path fill="#00FF00" d="M1139.7,752.9a6.4,6.4 0 1,0 12.8,0a6.4,6.4 0 1,0 -12.8,0M1126.8,759.3a6.4,6.4 0 1,0 12.8,0a6.4,6.4 0 1,0 -12.8,0M1133.3,776.5a6.4,6.4 0 1,0 12.8,0a6.4,6.4 0 1,0 -12.8,0M1144,798a6.4,6.4 0 1,0 12.8,0a6.4,6.4 0 1,0 -12.8,0M1156.9,795.9a6.4,6.4 0 1,0 12.8,0a6.4,6.4 0 1,0 -12.8,0M1156.9,815.2a6.4,6.4 0 1,0 12.8,0a6.4,6.4 0 1,0 -12.8,0M1174.1,772.2a6.4,6.4 0 1,0 12.8,0a6.4,6.4 0 1,0 -12.8,0M1199.9,793.7a6.4,6.4 0 1,0 12.8,0a6.4,6.4 0 1,0 -12.8,0M1208.5,819.5a6.4,6.4 0 1,0 12.8,0a6.4,6.4 0 1,0 -12.8,0M1242.9,830.3a6.4,6.4 0 1,0 12.8,0a6.4,6.4 0 1,0 -12.8,0M1178.4,838.9a6.4,6.4 0 1,0 12.8,0a6.4,6.4 0 1,0 -12.8,0M1172,860.3a6.4,6.4 0 1,0 12.8,0a6.4,6.4 0 1,0 -12.8,0M1178.4,856.1a6.4,6.4 0 1,0 12.8,0a6.4,6.4 0 1,0 -12.8,0M1159.1,866.8a6.4,6.4 0 1,0 12.8,0a6.4,6.4 0 1,0 -12.8,0M1139.7,871.1a6.4,6.4 0 1,0 12.8,0a6.4,6.4 0 1,0 -12.8,0M1135.4,884a6.4,6.4 0 1,0 12.8,0a6.4,6.4 0 1,0 -12.8,0M1120.4,894.7a6.4,6.4 0 1,0 12.8,0a6.4,6.4 0 1,0 -12.8,0M1131.1,894.7a6.4,6.4 0 1,0 12.8,0a6.4,6.4 0 1,0 -12.8,0M1148.3,896.9a6.4,6.4 0 1,0 12.8,0a6.4,6.4 0 1,0 -12.8,0M1156.9,899a6.4,6.4 0 1,0 12.8,0a6.4,6.4 0 1,0 -12.8,0M1172,914.1a6.4,6.4 0 1,0 12.8,0a6.4,6.4 0 1,0 -12.8,0M1139.7,914.1a6.4,6.4 0 1,0 12.8,0a6.4,6.4 0 1,0 -12.8,0M1098.9,903.3a6.4,6.4 0 1,0 12.8,0a6.4,6.4 0 1,0 -12.8,0M1077.4,907.6a6.4,6.4 0 1,0 12.8,0a6.4,6.4 0 1,0 -12.8,0M1062.4,914.1a6.4,6.4 0 1,0 12.8,0a6.4,6.4 0 1,0 -12.8,0M1083.9,933.4a6.4,6.4 0 1,0 12.8,0a6.4,6.4 0 1,0 -12.8,0M1088.2,944.2a6.4,6.4 0 1,0 12.8,0a6.4,6.4 0 1,0 -12.8,0M1113.9,937.7a6.4,6.4 0 1,0 12.8,0a6.4,6.4 0 1,0 -12.8,0M1122.5,944.2a6.4,6.4 0 1,0 12.8,0a6.4,6.4 0 1,0 -12.8,0M1156.9,939.9a6.4,6.4 0 1,0 12.8,0a6.4,6.4 0 1,0 -12.8,0M1083.9,961.4a6.4,6.4 0 1,0 12.8,0a6.4,6.4 0 1,0 -12.8,0M1176.3,973.2a6.4,6.4 0 1,0 12.8,0a6.4,6.4 0 1,0 -12.8,0M1212.8,989.3a6.4,6.4 0 1,0 12.8,0a6.4,6.4 0 1,0 -12.8,0M1204.2,877.5a6.4,6.4 0 1,0 12.8,0a6.4,6.4 0 1,0 -12.8,0"/>
<path fill="#A020F0" d="M1212.8,756.1a6.4,6.4 0 1,0 12.8,0a6.4,6.4 0 1,0 -12.8,0M1225.7,755a6.4,6.4 0 1,0 12.8,0a6.4,6.4 0 1,0 -12.8,0M1036.6,922.7a6.4,6.4 0 1,0 12.8,0a6.4,6.4 0 1,0 -12.8,0M1043,933.4a6.4,6.4 0 1,0 12.8,0a6.4,6.4 0 1,0 -12.8,0M1034.4,952.8a6.4,6.4 0 1,0 12.8,0a6.4,6.4 0 1,0 -12.8,0M1055.9,997.9a6.4,6.4 0 1,0 12.8,0a6.4,6.4 0 1,0 -12.8,0M1079.6,987.1a6.4,6.4 0 1,0 12.8,0a6.4,6.4 0 1,0 -12.8,0M1073.1,1034.4a6.4,6.4 0 1,0 12.8,0a6.4,6.4 0 1,0 -12.8,0M1090.3,1032.3a6.4,6.4 0 1,0 12.8,0a6.4,6.4 0 1,0 -12.8,0M1294.5,866.8a6.4,6.4 0 1,0 12.8,0a6.4,6.4 0 1,0 -12.8,0M1309.5,886.1a6.4,6.4 0 1,0 12.8,0a6.4,6.4 0 1,0 -12.8,0M1311.7,813.1a6.4,6.4 0 1,0 12.8,0a6.4,6.4 0 1,0 -12.8,0M1262.2,830.3a6.4,6.4 0 1,0 12.8,0a6.4,6.4 0 1,0 -12.8,0M1298.8,916.2a6.4,6.4 0 1,0 12.8,0a6.4,6.4 0 1,0 -12.8,0M1311.7,967.8a6.4,6.4 0 1,0 12.8,0a6.4,6.4 0 1,0 -12.8,0M1303.1,974.3a6.4,6.4 0 1,0 12.8,0a6.4,6.4 0 1,0 -12.8,0M1290.2,987.1a6.4,6.4 0 1,0 12.8,0a6.4,6.4 0 1,0 -12.8,0M1264.4,991.4a6.4,6.4 0 1,0 12.8,0a6.4,6.4 0 1,0 -12.8,0M1251.5,1008.6a6.4,6.4 0 1,0 12.8,0a6.4,6.4 0 1,0 -12.8,0M1240.7,1019.4a6.4,6.4 0 1,0 12.8,0a6.4,6.4 0 1,0 -12.8,0"/>
<path fill="#FFFF00" d="M1257.9,763.6a6.4,6.4 0 1,0 12.8,0a6.4,6.4 0 1,0 -12.8,0M1249.3,785.1a6.4,6.4 0 1,0 12.8,0a6.4,6.4 0 1,0 -12.8,0M1285.9,778.7a6.4,6.4 0 1,0 12.8,0a6.4,6.4 0 1,0 -12.8,0M1285.9,793.7a6.4,6.4 0 1,0 12.8,0a6.4,6.4 0 1,0 -12.8,0M1285.9,808.8a6.4,6.4 0 1,0 12.8,0a6.4,6.4 0 1,0 -12.8,0M1251.5,808.8a6.4,6.4 0 1,0 12.8,0a6.4,6.4 0 1,0 -12.8,0M1260.1,817.4a6.4,6.4 0 1,0 12.8,0a6.4,6.4 0 1,0 -12.8,0M1232.1,843.2a6.4,6.4 0 1,0 12.8,0a6.4,6.4 0 1,0 -12.8,0M1240.7,851.8a6.4,6.4 0 1,0 12.8,0a6.4,6.4 0 1,0 -12.8,0M1283.7,875.4a6.4,6.4 0 1,0 12.8,0a6.4,6.4 0 1,0 -12.8,0M1277.3,922.7a6.4,6.4 0 1,0 12.8,0a6.4,6.4 0 1,0 -12.8,0M1283.7,944.2a6.4,6.4 0 1,0 12.8,0a6.4,6.4 0 1,0 -12.8,0M1290.2,944.2a6.4,6.4 0 1,0 12.8,0a6.4,6.4 0 1,0 -12.8,0M1296.6,972.1a6.4,6.4 0 1,0 12.8,0a6.4,6.4 0 1,0 -12.8,0M1281.6,974.3a6.4,6.4 0 1,0 12.8,0a6.4,6.4 0 1,0 -12.8,0M1266.5,963.5a6.4,6.4 0 1,0 12.8,0a6.4,6.4 0 1,0 -12.8,0M1240.7,963.5a6.4,6.4 0 1,0 12.8,0a6.4,6.4 0 1,0 -12.8,0M1257.9,1021.5a6.4,6.4 0 1,0 12.8,0a6.4,6.4 0 1,0 -12.8,0M1303.1,1038.7a6.4,6.4 0 1,0 12.8,0a6.4,6.4 0 1,0 -12.8,0M1249.3,1051.6a6.4,6.4 0 1,0 12.8,0a6.4,6.4 0 1,0 -12.8,0M1255.8,1053.8a6.4,6.4 0 1,0 12.8,0a6.4,6.4 0 1,0 -12.8,0M1309.5,757.2a6.4,6.4 0 1,0 12.8,0a6.4,6.4 0 1,0 -12.8,0M1309.5,821.7a6.4,6.4 0 1,0 12.8,0a6.4,6.4 0 1,0 -12.8,0M1307.4,896.9a6.4,6.4 0 1,0 12.8,0a6.4,6.4 0 1,0 -12.8,0M1023.7,933.4a6.4,6.4 0 1,0 12.8,0a6.4,6.4 0 1,0 -12.8,0M1066.7,965.7a6.4,6.4 0 1,0 12.8,0a6.4,6.4 0 1,0 -12.8,0M1079.6,1045.2a6.4,6.4 0 1,0 12.8,0a6.4,6.4 0 1,0 -12.8,0M1111.8,1045.2a6.4,6.4 0 1,0 12.8,0a6.4,6.4 0 1,0 -12.8,0M1131.1,1002.2a6.4,6.4 0 1,0 12.8,0a6.4,6.4 0 1,0 -12.8,0M1169.8,997.9a6.4,6.4 0 1,0 12.8,0a6.4,6.4 0 1,0 -12.8,0M1174.1,1008.6a6.4,6.4 0 1,0 12.8,0a6.4,6.4 0 1,0 -12.8,0M1193.5,991.4a6.4,6.4 0 1,0 12.8,0a6.4,6.4 0 1,0 -12.8,0M1187,1053.8a6.4,6.4 0 1,0 12.8,0a6.4,6.4 0 1,0 -12.8,0M1202.1,1053.8a6.4,6.4 0 1,0 12.8,0a6.4,6.4 0 1,0 -12.8,0M1225.7,1053.8a6.4,6.4 0 1,0 12.8,0a6.4,6.4 0 1,0 -12.8,0M1199.9,836.7a6.4,6.4 0 1,0 12.8,0a6.4,6.4 0 1,0 -12.8,0M1217.1,834.6a6.4,6.4 0 1,0 12.8,0a6.4,6.4 0 1,0 -12.8,0"/>
<path fill="#FF0000" d="M1221.4,763.6a6.4,6.4 0 1,0 12.8,0a6.4,6.4 0 1,0 -12.8,0M1240.7,783a6.4,6.4 0 1,0 12.8,0a6.4,6.4 0 1,0 -12.8,0M1270.8,783a6.4,6.4 0 1,0 12.8,0a6.4,6.4 0 1,0 -12.8,0M1225.7,813.1a6.4,6.4 0 1,0 12.8,0a6.4,6.4 0 1,0 -12.8,0M1202.1,845.3a6.4,6.4 0 1,0 12.8,0a6.4,6.4 0 1,0 -12.8,0M1217.1,877.5a6.4,6.4 0 1,0 12.8,0a6.4,6.4 0 1,0 -12.8,0M1292.3,914.1a6.4,6.4 0 1,0 12.8,0a6.4,6.4 0 1,0 -12.8,0M1268.7,951.7a6.4,6.4 0 1,0 12.8,0a6.4,6.4 0 1,0 -12.8,0M1227.9,976.4a6.4,6.4 0 1,0 12.8,0a6.4,6.4 0 1,0 -12.8,0M1021.5,901.2a6.4,6.4 0 1,0 12.8,0a6.4,6.4 0 1,0 -12.8,0M1025.8,881.8a6.4,6.4 0 1,0 12.8,0a6.4,6.4 0 1,0 -12.8,0M1019.4,860.3a6.4,6.4 0 1,0 12.8,0a6.4,6.4 0 1,0 -12.8,0M1178.4,952.8a6.4,6.4 0 1,0 12.8,0a6.4,6.4 0 1,0 -12.8,0M1165.5,948.5a6.4,6.4 0 1,0 12.8,0a6.4,6.4 0 1,0 -12.8,0M1133.3,993.6a6.4,6.4 0 1,0 12.8,0a6.4,6.4 0 1,0 -12.8,0M1148.3,1004.3a6.4,6.4 0 1,0 12.8,0a6.4,6.4 0 1,0 -12.8,0M1135.4,1019.4a6.4,6.4 0 1,0 12.8,0a6.4,6.4 0 1,0 -12.8,0M1116.1,1025.8a6.4,6.4 0 1,0 12.8,0a6.4,6.4 0 1,0 -12.8,0M1101.1,1030.1a6.4,6.4 0 1,0 12.8,0a6.4,6.4 0 1,0 -12.8,0M1165.5,1032.3a6.4,6.4 0 1,0 12.8,0a6.4,6.4 0 1,0 -12.8,0M1169.8,1034.4a6.4,6.4 0 1,0 12.8,0a6.4,6.4 0 1,0 -12.8,0M1195.6,1049.5a6.4,6.4 0 1,0 12.8,0a6.4,6.4 0 1,0 -12.8,0M1101.1,1002.2a6.4,6.4 0 1,0 12.8,0a6.4,6.4 0 1,0 -12.8,0"/>
<path fill="#000000" d="M1270.8,856.1a6.4,6.4 0 1,0 12.8,0a6.4,6.4 0 1,0 -12.8,0M1298.8,890.4a6.4,6.4 0 1,0 12.8,0a6.4,6.4 0 1,0 -12.8,0M1309.5,944.2a6.4,6.4 0 1,0 12.8,0a6.4,6.4 0 1,0 -12.8,0M1273,841a6.4,6.4 0 1,0 12.8,0a6.4,6.4 0 1,0 -12.8,0M1180.6,1021.5a6.4,6.4 0 1,0 12.8,0a6.4,6.4 0 1,0 -12.8,0M1208.5,997.9a6.4,6.4 0 1,0 12.8,0a6.4,6.4 0 1,0 -12.8,0M1215,1049.5a6.4,6.4 0 1,0 12.8,0a6.4,6.4 0 1,0 -12.8,0M1249.3,1053.8a6.4,6.4 0 1,0 12.8,0a6.4,6.4 0 1,0 -12.8,0M1307.4,843.2a6.4,6.4 0 1,0 12.8,0a6.4,6.4 0 1,0 -12.8,0M1307.4,853.9a6.4,6.4 0 1,0 12.8,0a6.4,6.4 0 1,0 -12.8,0M1311.7,774.4a6.4,6.4 0 1,0 12.8,0a6.4,6.4 0 1,0 -12.8,0M1305.2,787.3a6.4,6.4 0 1,0 12.8,0a6.4,6.4 0 1,0 -12.8,0M964.3,571.7a6.4,6.4 0 1,0 12.8,0a6.4,6.4 0 1,0 -12.8,0M958.4,587.2a6.4,6.4 0 1,0 12.8,0a6.4,6.4 0 1,0 -12.8,0M951,605.6a6.4,6.4 0 1,0 12.8,0a6.4,6.4 0 1,0 -12.8,0M944.3,629.3a6.4,6.4 0 1,0 12.8,0a6.4,6.4 0 1,0 -12.8,0M977.6,618.2a6.4,6.4 0 1,0 12.8,0a6.4,6.4 0 1,0 -12.8,0M970.2,630a6.4,6.4 0 1,0 12.8,0a6.4,6.4 0 1,0 -12.8,0M964.3,644a6.4,6.4 0 1,0 12.8,0a6.4,6.4 0 1,0 -12.8,0M958.4,662.5a6.4,6.4 0 1,0 12.8,0a6.4,6.4 0 1,0 -12.8,0M950.2,686.9a6.4,6.4 0 1,0 12.8,0a6.4,6.4 0 1,0 -12.8,0M965,696.5a6.4,6.4 0 1,0 12.8,0a6.4,6.4 0 1,0 -12.8,0M970.2,678a6.4,6.4 0 1,0 12.8,0a6.4,6.4 0 1,0 -12.8,0M975.4,663.3a6.4,6.4 0 1,0 12.8,0a6.4,6.4 0 1,0 -12.8,0M979.8,650.7a6.4,6.4 0 1,0 12.8,0a6.4,6.4 0 1,0 -12.8,0M983.5,638.9a6.4,6.4 0 1,0 12.8,0a6.4,6.4 0 1,0 -12.8,0M975.4,703.2a6.4,6.4 0 1,0 12.8,0a6.4,6.4 0 1,0 -12.8,0M981.3,688.4a6.4,6.4 0 1,0 12.8,0a6.4,6.4 0 1,0 -12.8,0M983.5,674.4a6.4,6.4 0 1,0 12.8,0a6.4,6.4 0 1,0 -12.8,0M1322.6,226.1a6.4,6.4 0 1,0 12.8,0a6.4,6.4 0 1,0 -12.8,0M1268.6,663.1a6.4,6.4 0 1,0 12.8,0a6.4,6.4 0 1,0 -12.8,0M1285.2,659a6.4,6.4 0 1,0 12.8,0a6.4,6.4 0 1,0 -12.8,0M1301.9,667.3a6.4,6.4 0 1,0 12.8,0a6.4,6.4 0 1,0 -12.8,0M1314.4,679.8a6.4,6.4 0 1,0 12.8,0a6.4,6.4 0 1,0 -12.8,0M1326.9,675.6a6.4,6.4 0 1,0 12.8,0a6.4,6.4 0 1,0 -12.8,0M1339.4,677.7a6.4,6.4 0 1,0 12.8,0a6.4,6.4 0 1,0 -12.8,0M1326.9,700.6a6.4,6.4 0 1,0 12.8,0a6.4,6.4 0 1,0 -12.8,0M1335.2,704.8a6.4,6.4 0 1,0 12.8,0a6.4,6.4 0 1,0 -12.8,0M1351.9,708.9a6.4,6.4 0 1,0 12.8,0a6.4,6.4 0 1,0 -12.8,0M1368.5,700.6a6.4,6.4 0 1,0 12.8,0a6.4,6.4 0 1,0 -12.8,0M1372.7,688.1a6.4,6.4 0 1,0 12.8,0a6.4,6.4 0 1,0 -12.8,0M1364.4,684a6.4,6.4 0 1,0 12.8,0a6.4,6.4 0 1,0 -12.8,0M1306.1,704.8a6.4,6.4 0 1,0 12.8,0a6.4,6.4 0 1,0 -12.8,0M1293.6,713.1a6.4,6.4 0 1,0 12.8,0a6.4,6.4 0 1,0 -12.8,0M1314.4,713.1a6.4,6.4 0 1,0 12.8,0a6.4,6.4 0 1,0 -12.8,0M1339.4,725.6a6.4,6.4 0 1,0 12.8,0a6.4,6.4 0 1,0 -12.8,0M1356,721.4a6.4,6.4 0 1,0 12.8,0a6.4,6.4 0 1,0 -12.8,0M1368.5,717.3a6.4,6.4 0 1,0 12.8,0a6.4,6.4 0 1,0 -12.8,0M1343.5,738.1a6.4,6.4 0 1,0 12.8,0a6.4,6.4 0 1,0 -12.8,0M1331,746.4a6.4,6.4 0 1,0 12.8,0a6.4,6.4 0 1,0 -12.8,0M1318.5,742.3a6.4,6.4 0 1,0 12.8,0a6.4,6.4 0 1,0 -12.8,0M1306.1,746.4a6.4,6.4 0 1,0 12.8,0a6.4,6.4 0 1,0 -12.8,0M1293.6,754.7a6.4,6.4 0 1,0 12.8,0a6.4,6.4 0 1,0 -12.8,0M1310.2,771.4a6.4,6.4 0 1,0 12.8,0a6.4,6.4 0 1,0 -12.8,0M1322.7,767.2a6.4,6.4 0 1,0 12.8,0a6.4,6.4 0 1,0 -12.8,0M1301.9,779.7a6.4,6.4 0 1,0 12.8,0a6.4,6.4 0 1,0 -12.8,0M1314.4,788.1a6.4,6.4 0 1,0 12.8,0a6.4,6.4 0 1,0 -12.8,0M1297.7,796.4a6.4,6.4 0 1,0 12.8,0a6.4,6.4 0 1,0 -12.8,0M1335.2,754.7a6.4,6.4 0 1,0 12.8,0a6.4,6.4 0 1,0 -12.8,0M1347.7,752.7a6.4,6.4 0 1,0 12.8,0a6.4,6.4 0 1,0 -12.8,0M1364.4,738.1a6.4,6.4 0 1,0 12.8,0a6.4,6.4 0 1,0 -12.8,0M1372.7,733.9a6.4,6.4 0 1,0 12.8,0a6.4,6.4 0 1,0 -12.8,0M1285.2,771.4a6.4,6.4 0 1,0 12.8,0a6.4,6.4 0 1,0 -12.8,0M1281.1,788.1a6.4,6.4 0 1,0 12.8,0a6.4,6.4 0 1,0 -12.8,0M1276.9,804.7a6.4,6.4 0 1,0 12.8,0a6.4,6.4 0 1,0 -12.8,0M1293.6,813a6.4,6.4 0 1,0 12.8,0a6.4,6.4 0 1,0 -12.8,0M1306.1,821.4a6.4,6.4 0 1,0 12.8,0a6.4,6.4 0 1,0 -12.8,0M1285.2,829.7a6.4,6.4 0 1,0 12.8,0a6.4,6.4 0 1,0 -12.8,0M1297.7,842.2a6.4,6.4 0 1,0 12.8,0a6.4,6.4 0 1,0 -12.8,0M1310.2,850.5a6.4,6.4 0 1,0 12.8,0a6.4,6.4 0 1,0 -12.8,0M1322.7,829.7a6.4,6.4 0 1,0 12.8,0a6.4,6.4 0 1,0 -12.8,0M1339.4,829.7a6.4,6.4 0 1,0 12.8,0a6.4,6.4 0 1,0 -12.8,0M1351.9,833.9a6.4,6.4 0 1,0 12.8,0a6.4,6.4 0 1,0 -12.8,0M1360.2,821.4a6.4,6.4 0 1,0 12.8,0a6.4,6.4 0 1,0 -12.8,0M1364.4,808.9a6.4,6.4 0 1,0 12.8,0a6.4,6.4 0 1,0 -12.8,0M1351.9,788.1a6.4,6.4 0 1,0 12.8,0a6.4,6.4 0 1,0 -12.8,0M1364.4,792.2a6.4,6.4 0 1,0 12.8,0a6.4,6.4 0 1,0 -12.8,0M1326.9,796.4a6.4,6.4 0 1,0 12.8,0a6.4,6.4 0 1,0 -12.8,0M1268.6,813a6.4,6.4 0 1,0 12.8,0a6.4,6.4 0 1,0 -12.8,0M1268.6,854.7a6.4,6.4 0 1,0 12.8,0a6.4,6.4 0 1,0 -12.8,0M1306.1,854.7a6.4,6.4 0 1,0 12.8,0a6.4,6.4 0 1,0 -12.8,0M1326.9,850.5a6.4,6.4 0 1,0 12.8,0a6.4,6.4 0 1,0 -12.8,0M1289.4,638.2a6.4,6.4 0 1,0 12.8,0a6.4,6.4 0 1,0 -12.8,0M1268.6,646.5a6.4,6.4 0 1,0 12.8,0a6.4,6.4 0 1,0 -12.8,0M1260.3,671.5a6.4,6.4 0 1,0 12.8,0a6.4,6.4 0 1,0 -12.8,0M1272.7,696.5a6.4,6.4 0 1,0 12.8,0a6.4,6.4 0 1,0 -12.8,0M1289.4,688.1a6.4,6.4 0 1,0 12.8,0a6.4,6.4 0 1,0 -12.8,0M1301.9,721.4a6.4,6.4 0 1,0 12.8,0a6.4,6.4 0 1,0 -12.8,0M1285.2,738.1a6.4,6.4 0 1,0 12.8,0a6.4,6.4 0 1,0 -12.8,0M1268.6,746.4a6.4,6.4 0 1,0 12.8,0a6.4,6.4 0 1,0 -12.8,0"/>
<path fill="#A020F0" d="M1105.8,1062.9a6.4,6.4 0 1,0 12.8,0a6.4,6.4 0 1,0 -12.8,0M1115.5,1064.5a6.4,6.4 0 1,0 12.8,0a6.4,6.4 0 1,0 -12.8,0"/><line x1="859.9" x2="1495.5" y1="720.6" y2="720.6" stroke="#000" stroke-width="3"/></g>
<rect x="96.2" y="1.5" width="635.7" height="1412.2" fill="none" stroke="#333" stroke-width="2"/>
<line x1="87.2" x2="96.2" y1="27.8" y2="27.8" stroke="#333" stroke-width="2.2"/>
<text x="81" y="38.5" text-anchor="end" class="tk">15</text>
<line x1="87.2" x2="96.2" y1="270.3" y2="270.3" stroke="#333" stroke-width="2.2"/>
<text x="81" y="281.1" text-anchor="end" class="tk">10</text>
<line x1="87.2" x2="96.2" y1="512.9" y2="512.9" stroke="#333" stroke-width="2.2"/>
<text x="81" y="523.6" text-anchor="end" class="tk">5</text>
<line x1="87.2" x2="96.2" y1="755.4" y2="755.4" stroke="#333" stroke-width="2.2"/>
<text x="81" y="766.2" text-anchor="end" class="tk">0</text>
<line x1="87.2" x2="96.2" y1="997.9" y2="997.9" stroke="#333" stroke-width="2.2"/>
<text x="81" y="1008.7" text-anchor="end" class="tk">-5</text>
<line x1="87.2" x2="96.2" y1="1240.5" y2="1240.5" stroke="#333" stroke-width="2.2"/>
<text x="81" y="1251.3" text-anchor="end" class="tk">-10</text>
<line x1="237.7" x2="237.7" y1="1413.7" y2="1422.7" stroke="#333" stroke-width="2.2"/>
<text x="237.7" y="1449.7" text-anchor="middle" class="tk">1</text>
<line x1="456" x2="456" y1="1413.7" y2="1422.7" stroke="#333" stroke-width="2.2"/>
<text x="456" y="1449.7" text-anchor="middle" class="tk">100</text>
<line x1="674.3" x2="674.3" y1="1413.7" y2="1422.7" stroke="#333" stroke-width="2.2"/>
<text x="674.3" y="1449.7" text-anchor="middle" class="tk">10000</text>
<text x="414.1" y="1488" text-anchor="middle" class="ti">Mean read count</text>
<text transform="translate(27.6,707.6) rotate(-90)" x="0" y="0" text-anchor="middle" class="ti">Log 2 fold change (25%/100%)</text>
<rect x="859.9" y="1.5" width="635.6" height="1411.8" fill="none" stroke="#333" stroke-width="2"/>
<line x1="850.9" x2="859.9" y1="144.4" y2="144.4" stroke="#333" stroke-width="2.2"/>
<text x="844.7" y="155.2" text-anchor="end" class="tk">10</text>
<line x1="850.9" x2="859.9" y1="432.5" y2="432.5" stroke="#333" stroke-width="2.2"/>
<text x="844.7" y="443.3" text-anchor="end" class="tk">5</text>
<line x1="850.9" x2="859.9" y1="720.6" y2="720.6" stroke="#333" stroke-width="2.2"/>
<text x="844.7" y="731.4" text-anchor="end" class="tk">0</text>
<line x1="850.9" x2="859.9" y1="1008.7" y2="1008.7" stroke="#333" stroke-width="2.2"/>
<text x="844.7" y="1019.5" text-anchor="end" class="tk">-5</text>
<line x1="850.9" x2="859.9" y1="1296.8" y2="1296.8" stroke="#333" stroke-width="2.2"/>
<text x="844.7" y="1307.6" text-anchor="end" class="tk">-10</text>
<line x1="994.4" x2="994.4" y1="1413.3" y2="1422.3" stroke="#333" stroke-width="2.2"/>
<text x="994.4" y="1449.3" text-anchor="middle" class="tk">1</text>
<line x1="1191.2" x2="1191.2" y1="1413.3" y2="1422.3" stroke="#333" stroke-width="2.2"/>
<text x="1191.2" y="1449.3" text-anchor="middle" class="tk">100</text>
<line x1="1388" x2="1388" y1="1413.3" y2="1422.3" stroke="#333" stroke-width="2.2"/>
<text x="1388" y="1449.3" text-anchor="middle" class="tk">10000</text>
<text x="1177.7" y="1488" text-anchor="middle" class="ti">Mean read count</text>
<text transform="translate(791.3,707.4) rotate(-90)" x="0" y="0" text-anchor="middle" class="ti">Log 2 fold change (25%/100%)</text>
<text x="-1" y="31" class="lb">A</text>
<text x="765.5" y="30.8" class="lb">B</text>
</svg></body></html>
